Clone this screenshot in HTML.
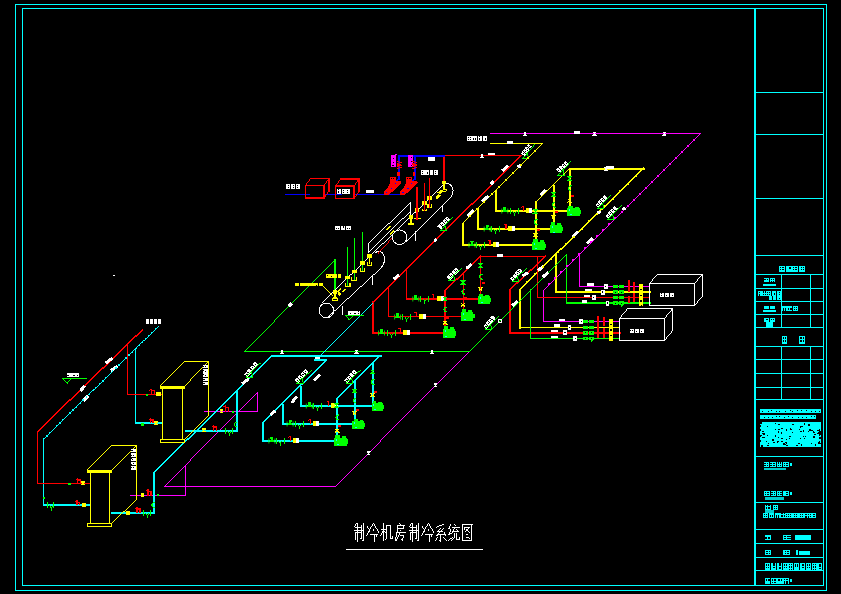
<!DOCTYPE html>
<html><head><meta charset="utf-8"><style>
html,body{margin:0;padding:0;background:#000;}
body{width:841px;height:594px;overflow:hidden;font-family:"Liberation Sans",sans-serif;}
svg{display:block;}
</style></head><body>
<svg width="841" height="594" viewBox="0 0 841 594" shape-rendering="crispEdges">
<rect width="841" height="594" fill="#000"/>
<rect x="15.50" y="4.50" width="811.00" height="586.00" stroke="#00ffff" stroke-width="1.0" fill="none"/>
<rect x="22.50" y="8.50" width="801.00" height="577.00" stroke="#00ffff" stroke-width="1.0" fill="none"/>
<line x1="755.00" y1="8.50" x2="755.00" y2="585.50" stroke="#00ffff" stroke-width="1.6" stroke-linecap="square"/>
<line x1="755.00" y1="92.50" x2="823.50" y2="92.50" stroke="#00ffff" stroke-width="1.0" stroke-linecap="square"/>
<line x1="755.00" y1="134.50" x2="823.50" y2="134.50" stroke="#00ffff" stroke-width="1.0" stroke-linecap="square"/>
<line x1="755.00" y1="198.50" x2="823.50" y2="198.50" stroke="#00ffff" stroke-width="1.0" stroke-linecap="square"/>
<line x1="755.00" y1="255.50" x2="823.50" y2="255.50" stroke="#00ffff" stroke-width="1.0" stroke-linecap="square"/>
<line x1="755.00" y1="274.50" x2="823.50" y2="274.50" stroke="#00ffff" stroke-width="1.0" stroke-linecap="square"/>
<line x1="755.00" y1="288.50" x2="823.50" y2="288.50" stroke="#00ffff" stroke-width="1.0" stroke-linecap="square"/>
<line x1="755.00" y1="301.50" x2="823.50" y2="301.50" stroke="#00ffff" stroke-width="1.0" stroke-linecap="square"/>
<line x1="755.00" y1="314.50" x2="823.50" y2="314.50" stroke="#00ffff" stroke-width="1.0" stroke-linecap="square"/>
<line x1="755.00" y1="327.50" x2="823.50" y2="327.50" stroke="#00ffff" stroke-width="1.0" stroke-linecap="square"/>
<line x1="755.00" y1="346.50" x2="823.50" y2="346.50" stroke="#00ffff" stroke-width="1.0" stroke-linecap="square"/>
<line x1="755.00" y1="359.50" x2="823.50" y2="359.50" stroke="#00ffff" stroke-width="1.0" stroke-linecap="square"/>
<line x1="755.00" y1="373.50" x2="823.50" y2="373.50" stroke="#00ffff" stroke-width="1.0" stroke-linecap="square"/>
<line x1="755.00" y1="387.50" x2="823.50" y2="387.50" stroke="#00ffff" stroke-width="1.0" stroke-linecap="square"/>
<line x1="755.00" y1="399.50" x2="823.50" y2="399.50" stroke="#00ffff" stroke-width="1.0" stroke-linecap="square"/>
<line x1="755.00" y1="456.50" x2="823.50" y2="456.50" stroke="#00ffff" stroke-width="1.0" stroke-linecap="square"/>
<line x1="755.00" y1="502.50" x2="823.50" y2="502.50" stroke="#00ffff" stroke-width="1.0" stroke-linecap="square"/>
<line x1="755.00" y1="529.50" x2="823.50" y2="529.50" stroke="#00ffff" stroke-width="1.0" stroke-linecap="square"/>
<line x1="755.00" y1="543.50" x2="823.50" y2="543.50" stroke="#00ffff" stroke-width="1.0" stroke-linecap="square"/>
<line x1="755.00" y1="557.50" x2="823.50" y2="557.50" stroke="#00ffff" stroke-width="1.0" stroke-linecap="square"/>
<line x1="755.00" y1="570.50" x2="823.50" y2="570.50" stroke="#00ffff" stroke-width="1.0" stroke-linecap="square"/>
<line x1="781.50" y1="274.50" x2="781.50" y2="327.50" stroke="#00ffff" stroke-width="1.0" stroke-linecap="square"/>
<line x1="781.50" y1="346.50" x2="781.50" y2="399.50" stroke="#00ffff" stroke-width="1.0" stroke-linecap="square"/>
<line x1="810.50" y1="274.50" x2="810.50" y2="327.50" stroke="#00ffff" stroke-width="1.0" stroke-linecap="square"/>
<line x1="810.50" y1="346.50" x2="810.50" y2="399.50" stroke="#00ffff" stroke-width="1.0" stroke-linecap="square"/>
<line x1="490.00" y1="133.50" x2="700.00" y2="133.50" stroke="#ff00ff" stroke-width="1.0" stroke-linecap="square"/>
<path d="M700 133h1v1h-1zM699 134h1v1h-1zM698 135h1v1h-1zM697 136h1v1h-1zM696 137h1v1h-1zM695 138h1v1h-1zM694 139h1v1h-1zM693 140h1v1h-1zM692 141h1v1h-1zM691 142h1v1h-1zM690 143h1v1h-1zM689 144h1v1h-1zM688 145h1v1h-1zM687 146h1v1h-1zM686 147h1v1h-1zM685 148h1v1h-1zM684 149h1v1h-1zM683 150h1v1h-1zM682 151h1v1h-1zM681 152h1v1h-1zM680 153h1v1h-1zM679 154h1v1h-1zM678 155h1v1h-1zM677 156h1v1h-1zM676 157h1v1h-1zM675 158h1v1h-1zM674 159h1v1h-1zM673 160h1v1h-1zM672 161h1v1h-1zM671 162h1v1h-1zM670 163h1v1h-1zM669 164h1v1h-1zM668 165h1v1h-1zM667 166h1v1h-1zM666 167h1v1h-1zM665 168h1v1h-1zM664 169h1v1h-1zM663 170h1v1h-1zM662 171h1v1h-1zM661 172h1v1h-1zM660 173h1v1h-1zM659 174h1v1h-1zM658 175h1v1h-1zM657 176h1v1h-1zM656 177h1v1h-1zM655 178h1v1h-1zM654 179h1v1h-1zM653 180h1v1h-1zM652 181h1v1h-1zM651 182h1v1h-1zM650 183h1v1h-1zM649 184h1v1h-1zM648 185h1v1h-1zM647 186h1v1h-1zM646 187h1v1h-1zM645 188h1v1h-1zM644 189h1v1h-1zM643 190h1v1h-1zM642 191h1v1h-1zM641 192h1v1h-1zM640 193h1v1h-1zM639 194h1v1h-1zM638 195h1v1h-1zM637 196h1v1h-1zM636 197h1v1h-1zM635 198h1v1h-1zM634 199h1v1h-1zM633 200h1v1h-1zM632 201h1v1h-1zM631 202h1v1h-1zM630 203h1v1h-1zM629 204h1v1h-1zM628 205h1v1h-1zM627 206h1v1h-1zM626 207h1v1h-1zM625 208h1v1h-1zM624 209h1v1h-1zM623 210h1v1h-1zM622 211h1v1h-1zM621 212h1v1h-1zM620 213h1v1h-1zM619 214h1v1h-1zM618 215h1v1h-1zM617 216h1v1h-1zM616 217h1v1h-1zM615 218h1v1h-1zM614 219h1v1h-1zM613 220h1v1h-1zM612 221h1v1h-1zM611 222h1v1h-1zM610 223h1v1h-1zM609 224h1v1h-1zM608 225h1v1h-1zM607 226h1v1h-1zM606 227h1v1h-1zM605 228h1v1h-1zM604 229h1v1h-1zM603 230h1v1h-1zM602 231h1v1h-1zM601 232h1v1h-1zM600 233h1v1h-1zM599 234h1v1h-1zM598 235h1v1h-1zM597 236h1v1h-1zM596 237h1v1h-1zM595 238h1v1h-1zM594 239h1v1h-1zM593 240h1v1h-1zM592 241h1v1h-1zM591 242h1v1h-1zM590 243h1v1h-1zM589 244h1v1h-1zM588 245h1v1h-1zM587 246h1v1h-1zM586 247h1v1h-1zM585 248h1v1h-1zM584 249h1v1h-1zM583 250h1v1h-1zM582 251h1v1h-1zM581 252h1v1h-1zM580 253h1v1h-1zM579 254h1v1h-1zM578 255h1v1h-1zM577 256h1v1h-1zM576 257h1v1h-1zM575 258h1v1h-1zM574 259h1v1h-1zM573 260h1v1h-1zM572 261h1v1h-1zM571 262h1v1h-1zM570 263h1v1h-1zM569 264h1v1h-1zM568 265h1v1h-1zM567 266h1v1h-1zM566 267h1v1h-1zM565 268h1v1h-1zM564 269h1v1h-1zM563 270h1v1h-1zM562 271h1v1h-1zM561 272h1v1h-1zM560 273h1v1h-1zM559 274h1v1h-1zM558 275h1v1h-1zM557 276h1v1h-1zM556 277h1v1h-1zM555 278h1v1h-1zM554 279h1v1h-1zM553 280h1v1h-1zM552 281h1v1h-1zM551 282h1v1h-1zM550 283h1v1h-1zM549 284h1v1h-1zM548 285h1v1h-1zM547 286h1v1h-1zM546 287h1v1h-1zM545 288h1v1h-1zM544 289h1v1h-1zM543 290h1v1h-1z" fill="#ff00ff"/>
<line x1="543.00" y1="290.50" x2="543.00" y2="321.50" stroke="#ff00ff" stroke-width="1.0" stroke-linecap="square"/>
<line x1="543.00" y1="321.50" x2="619.50" y2="321.50" stroke="#ff00ff" stroke-width="1.0" stroke-linecap="square"/>
<line x1="579.50" y1="254.50" x2="579.50" y2="286.50" stroke="#ff00ff" stroke-width="1.0" stroke-linecap="square"/>
<line x1="579.50" y1="286.50" x2="649.50" y2="286.50" stroke="#ff00ff" stroke-width="1.0" stroke-linecap="square"/>
<line x1="164.20" y1="486.50" x2="335.50" y2="486.50" stroke="#ff00ff" stroke-width="1.3" stroke-linecap="square"/>
<path d="M469 351h1v1h-1zM468 352h1v1h-1zM467 353h1v1h-1zM466 354h1v1h-1zM465 355h1v1h-1zM464 356h1v1h-1zM463 357h1v1h-1zM462 358h1v1h-1zM461 359h1v1h-1zM460 360h1v1h-1zM459 361h1v1h-1zM458 362h1v1h-1zM457 363h1v1h-1zM456 364h1v1h-1zM455 365h1v1h-1zM454 366h1v1h-1zM453 367h1v1h-1zM452 368h1v1h-1zM451 369h1v1h-1zM450 370h1v1h-1zM449 371h1v1h-1zM448 372h1v1h-1zM447 373h1v1h-1zM446 374h1v1h-1zM445 375h1v1h-1zM444 376h1v1h-1zM443 377h1v1h-1zM442 378h1v1h-1zM441 379h1v1h-1zM440 380h1v1h-1zM439 381h1v1h-1zM438 382h1v1h-1zM437 383h1v1h-1zM436 384h1v1h-1zM435 385h1v1h-1zM434 386h1v1h-1zM433 387h1v1h-1zM432 388h1v1h-1zM431 389h1v1h-1zM430 390h1v1h-1zM429 391h1v1h-1zM428 392h1v1h-1zM427 393h1v1h-1zM426 394h1v1h-1zM425 395h1v1h-1zM424 396h1v1h-1zM423 397h1v1h-1zM422 398h1v1h-1zM421 399h1v1h-1zM420 400h1v1h-1zM419 401h1v1h-1zM418 402h1v1h-1zM417 403h1v1h-1zM416 404h1v1h-1zM415 405h1v1h-1zM414 406h1v1h-1zM413 407h1v1h-1zM412 408h1v1h-1zM411 409h1v1h-1zM410 410h1v1h-1zM409 411h1v1h-1zM408 412h1v1h-1zM407 413h1v1h-1zM406 414h1v1h-1zM405 415h1v1h-1zM404 416h1v1h-1zM403 417h1v1h-1zM402 418h1v1h-1zM401 419h1v1h-1zM400 420h1v1h-1zM399 421h1v1h-1zM398 422h1v1h-1zM397 423h1v1h-1zM396 424h1v1h-1zM395 425h1v1h-1zM394 426h1v1h-1zM393 427h1v1h-1zM392 428h1v1h-1zM391 429h1v1h-1zM390 430h1v1h-1zM389 431h1v1h-1zM388 432h1v1h-1zM387 433h1v1h-1zM386 434h1v1h-1zM385 435h1v1h-1zM384 436h1v1h-1zM383 437h1v1h-1zM382 438h1v1h-1zM381 439h1v1h-1zM380 440h1v1h-1zM380 441h1v1h-1zM379 442h1v1h-1zM378 443h1v1h-1zM377 444h1v1h-1zM376 445h1v1h-1zM375 446h1v1h-1zM374 447h1v1h-1zM373 448h1v1h-1zM372 449h1v1h-1zM371 450h1v1h-1zM370 451h1v1h-1zM369 452h1v1h-1zM368 453h1v1h-1zM367 454h1v1h-1zM366 455h1v1h-1zM365 456h1v1h-1zM364 457h1v1h-1zM363 458h1v1h-1zM362 459h1v1h-1zM361 460h1v1h-1zM360 461h1v1h-1zM359 462h1v1h-1zM358 463h1v1h-1zM357 464h1v1h-1zM356 465h1v1h-1zM355 466h1v1h-1zM354 467h1v1h-1zM353 468h1v1h-1zM352 469h1v1h-1zM351 470h1v1h-1zM350 471h1v1h-1zM349 472h1v1h-1zM348 473h1v1h-1zM347 474h1v1h-1zM346 475h1v1h-1zM345 476h1v1h-1zM344 477h1v1h-1zM343 478h1v1h-1zM342 479h1v1h-1zM341 480h1v1h-1zM340 481h1v1h-1zM339 482h1v1h-1zM338 483h1v1h-1zM337 484h1v1h-1zM336 485h1v1h-1zM335 486h1v1h-1z" fill="#ff00ff"/>
<path d="M257 392h1v1h-1zM256 393h1v1h-1zM255 394h1v1h-1zM254 395h1v1h-1zM253 396h1v1h-1zM252 397h1v1h-1zM251 398h1v1h-1zM250 399h1v1h-1zM249 400h1v1h-1zM248 401h1v1h-1zM247 402h1v1h-1zM246 403h1v1h-1zM245 404h1v1h-1zM244 405h1v1h-1zM243 406h1v1h-1zM242 407h1v1h-1zM241 408h1v1h-1zM240 409h1v1h-1zM239 410h1v1h-1zM238 411h1v1h-1zM237 412h1v1h-1zM236 413h1v1h-1zM235 414h1v1h-1zM234 415h1v1h-1zM233 416h1v1h-1zM232 417h1v1h-1zM231 418h1v1h-1zM230 419h1v1h-1zM229 420h1v1h-1zM228 421h1v1h-1zM227 422h1v1h-1zM226 423h1v1h-1zM225 424h1v1h-1zM224 425h1v1h-1zM223 426h1v1h-1zM222 427h1v1h-1zM221 428h1v1h-1zM220 429h1v1h-1zM219 430h1v1h-1zM218 431h1v1h-1zM217 432h1v1h-1zM216 433h1v1h-1zM215 434h1v1h-1zM214 435h1v1h-1zM213 436h1v1h-1zM212 437h1v1h-1zM211 438h1v1h-1zM210 439h1v1h-1zM209 440h1v1h-1zM208 441h1v1h-1zM207 442h1v1h-1zM206 443h1v1h-1zM205 444h1v1h-1zM204 445h1v1h-1zM203 446h1v1h-1zM202 447h1v1h-1zM201 448h1v1h-1zM200 449h1v1h-1zM199 450h1v1h-1zM198 451h1v1h-1zM197 452h1v1h-1zM196 453h1v1h-1zM195 454h1v1h-1zM194 455h1v1h-1zM193 456h1v1h-1zM192 457h1v1h-1zM191 458h1v1h-1zM190 459h1v1h-1zM190 460h1v1h-1zM189 461h1v1h-1zM188 462h1v1h-1zM187 463h1v1h-1zM186 464h1v1h-1zM185 465h1v1h-1zM184 466h1v1h-1zM183 467h1v1h-1zM182 468h1v1h-1zM181 469h1v1h-1zM180 470h1v1h-1zM179 471h1v1h-1zM178 472h1v1h-1zM177 473h1v1h-1zM176 474h1v1h-1zM175 475h1v1h-1zM174 476h1v1h-1zM173 477h1v1h-1zM172 478h1v1h-1zM171 479h1v1h-1zM170 480h1v1h-1zM169 481h1v1h-1zM168 482h1v1h-1zM167 483h1v1h-1zM166 484h1v1h-1zM165 485h1v1h-1zM164 486h1v1h-1z" fill="#ff00ff"/>
<line x1="257.50" y1="392.50" x2="257.50" y2="411.50" stroke="#ff00ff" stroke-width="1.0" stroke-linecap="square"/>
<line x1="257.50" y1="411.50" x2="204.00" y2="411.50" stroke="#ff00ff" stroke-width="1.0" stroke-linecap="square"/>
<line x1="185.50" y1="465.50" x2="185.50" y2="495.50" stroke="#ff00ff" stroke-width="1.0" stroke-linecap="square"/>
<line x1="185.50" y1="495.50" x2="130.00" y2="495.50" stroke="#ff00ff" stroke-width="1.0" stroke-linecap="square"/>
<line x1="490.00" y1="143.50" x2="542.50" y2="143.50" stroke="#ffff00" stroke-width="1.0" stroke-linecap="square"/>
<path d="M542 143h1v1h-1zM541 144h1v1h-1zM540 145h1v1h-1zM539 146h1v1h-1zM538 147h1v1h-1zM537 148h1v1h-1zM536 149h1v1h-1zM535 150h1v1h-1zM534 151h1v1h-1zM533 152h1v1h-1zM532 153h1v1h-1zM531 154h1v1h-1zM530 155h1v1h-1zM529 156h1v1h-1zM528 157h1v1h-1zM527 158h1v1h-1zM526 159h1v1h-1zM525 160h1v1h-1zM524 161h1v1h-1zM523 162h1v1h-1zM522 163h1v1h-1zM521 164h1v1h-1zM520 165h1v1h-1zM519 166h1v1h-1zM518 167h1v1h-1zM517 168h1v1h-1zM516 169h1v1h-1zM515 170h1v1h-1zM514 171h1v1h-1zM513 172h1v1h-1zM512 173h1v1h-1zM511 174h1v1h-1zM510 175h1v1h-1zM509 176h1v1h-1zM508 177h1v1h-1zM507 178h1v1h-1zM506 179h1v1h-1zM505 180h1v1h-1zM504 181h1v1h-1zM503 182h1v1h-1zM502 183h1v1h-1zM501 184h1v1h-1zM500 185h1v1h-1zM499 186h1v1h-1zM498 187h1v1h-1zM497 188h1v1h-1zM496 189h1v1h-1zM495 190h1v1h-1zM494 191h1v1h-1zM493 192h1v1h-1zM492 193h1v1h-1zM491 194h1v1h-1zM490 195h1v1h-1zM489 196h1v1h-1zM488 197h1v1h-1zM487 198h1v1h-1zM486 199h1v1h-1zM485 200h1v1h-1zM484 201h1v1h-1zM483 202h1v1h-1zM482 203h1v1h-1zM481 204h1v1h-1zM480 205h1v1h-1zM479 206h1v1h-1zM478 207h1v1h-1zM477 208h1v1h-1zM476 209h1v1h-1zM475 210h1v1h-1zM474 211h1v1h-1zM473 212h1v1h-1zM472 213h1v1h-1zM471 214h1v1h-1zM470 215h1v1h-1zM469 216h1v1h-1zM468 217h1v1h-1zM467 218h1v1h-1zM466 219h1v1h-1zM465 220h1v1h-1zM464 221h1v1h-1zM463 222h1v1h-1zM462 223h1v1h-1z" fill="#ffff00"/>
<line x1="462.50" y1="223.50" x2="462.50" y2="244.50" stroke="#ffff00" stroke-width="2.0" stroke-linecap="square"/>
<line x1="462.50" y1="244.50" x2="532.00" y2="244.50" stroke="#ffff00" stroke-width="2.0" stroke-linecap="square"/>
<line x1="477.50" y1="208.50" x2="477.50" y2="228.50" stroke="#ffff00" stroke-width="2.0" stroke-linecap="square"/>
<line x1="477.50" y1="228.50" x2="550.00" y2="228.50" stroke="#ffff00" stroke-width="2.0" stroke-linecap="square"/>
<line x1="495.50" y1="190.50" x2="495.50" y2="210.50" stroke="#ffff00" stroke-width="2.0" stroke-linecap="square"/>
<line x1="495.50" y1="210.50" x2="567.00" y2="210.50" stroke="#ffff00" stroke-width="2.0" stroke-linecap="square"/>
<line x1="569.50" y1="168.50" x2="643.50" y2="168.50" stroke="#ffff00" stroke-width="2.0" stroke-linecap="square"/>
<path d="M519 289h1v2h-1zM520 288h1v2h-1zM521 287h1v2h-1zM522 286h1v2h-1zM523 285h1v2h-1zM524 284h1v2h-1zM525 283h1v2h-1zM526 282h1v2h-1zM527 281h1v2h-1zM528 280h1v2h-1zM529 279h1v2h-1zM530 278h1v2h-1zM531 277h1v2h-1zM532 276h1v2h-1zM533 275h1v2h-1zM534 274h1v2h-1zM535 273h1v2h-1zM536 272h1v2h-1zM537 271h1v2h-1zM538 270h1v2h-1zM539 269h1v2h-1zM540 268h1v2h-1zM541 267h1v2h-1zM542 266h1v2h-1zM543 265h1v2h-1zM544 264h1v2h-1zM545 263h1v2h-1zM546 262h1v2h-1zM547 261h1v2h-1zM548 260h1v2h-1zM549 259h1v2h-1zM550 258h1v2h-1zM551 257h1v2h-1zM552 256h1v2h-1zM553 255h1v2h-1zM554 254h1v2h-1zM555 253h1v2h-1zM556 252h1v2h-1zM557 251h1v2h-1zM558 250h1v2h-1zM559 249h1v2h-1zM560 248h1v2h-1zM561 248h1v2h-1zM562 247h1v2h-1zM563 246h1v2h-1zM564 245h1v2h-1zM565 244h1v2h-1zM566 243h1v2h-1zM567 242h1v2h-1zM568 241h1v2h-1zM569 240h1v2h-1zM570 239h1v2h-1zM571 238h1v2h-1zM572 237h1v2h-1zM573 236h1v2h-1zM574 235h1v2h-1zM575 234h1v2h-1zM576 233h1v2h-1zM577 232h1v2h-1zM578 231h1v2h-1zM579 230h1v2h-1zM580 229h1v2h-1zM581 228h1v2h-1zM582 227h1v2h-1zM583 226h1v2h-1zM584 225h1v2h-1zM585 224h1v2h-1zM586 223h1v2h-1zM587 222h1v2h-1zM588 221h1v2h-1zM589 220h1v2h-1zM590 219h1v2h-1zM591 218h1v2h-1zM592 217h1v2h-1zM593 216h1v2h-1zM594 215h1v2h-1zM595 214h1v2h-1zM596 213h1v2h-1zM597 212h1v2h-1zM598 211h1v2h-1zM599 210h1v2h-1zM600 209h1v2h-1zM601 208h1v2h-1zM602 208h1v2h-1zM603 207h1v2h-1zM604 206h1v2h-1zM605 205h1v2h-1zM606 204h1v2h-1zM607 203h1v2h-1zM608 202h1v2h-1zM609 201h1v2h-1zM610 200h1v2h-1zM611 199h1v2h-1zM612 198h1v2h-1zM613 197h1v2h-1zM614 196h1v2h-1zM615 195h1v2h-1zM616 194h1v2h-1zM617 193h1v2h-1zM618 192h1v2h-1zM619 191h1v2h-1zM620 190h1v2h-1zM621 189h1v2h-1zM622 188h1v2h-1zM623 187h1v2h-1zM624 186h1v2h-1zM625 185h1v2h-1zM626 184h1v2h-1zM627 183h1v2h-1zM628 182h1v2h-1zM629 181h1v2h-1zM630 180h1v2h-1zM631 179h1v2h-1zM632 178h1v2h-1zM633 177h1v2h-1zM634 176h1v2h-1zM635 175h1v2h-1zM636 174h1v2h-1zM637 173h1v2h-1zM638 172h1v2h-1zM639 171h1v2h-1zM640 170h1v2h-1zM641 169h1v2h-1zM642 168h1v2h-1zM643 167h1v2h-1z" fill="#ffff00"/>
<line x1="519.50" y1="289.50" x2="519.50" y2="327.50" stroke="#ffff00" stroke-width="2.0" stroke-linecap="square"/>
<line x1="519.50" y1="327.50" x2="619.50" y2="327.50" stroke="#ffff00" stroke-width="1.0" stroke-linecap="square"/>
<line x1="555.50" y1="255.00" x2="555.50" y2="292.00" stroke="#ffff00" stroke-width="2.0" stroke-linecap="square"/>
<line x1="555.50" y1="292.00" x2="649.50" y2="292.00" stroke="#ffff00" stroke-width="2.0" stroke-linecap="square"/>
<line x1="569.50" y1="168.50" x2="569.50" y2="206.00" stroke="#ffff00" stroke-width="2.0" stroke-linecap="square"/>
<path d="M535 202h1v1h-1zM536 201h1v1h-1zM537 200h1v1h-1zM538 199h1v1h-1zM539 198h1v1h-1zM540 197h1v1h-1zM541 196h1v1h-1zM542 195h1v1h-1zM543 194h1v1h-1zM544 193h1v1h-1zM545 192h1v1h-1zM546 191h1v1h-1zM547 190h1v1h-1zM548 189h1v1h-1zM549 188h1v1h-1zM550 187h1v1h-1zM551 186h1v1h-1zM552 185h1v1h-1zM553 184h1v1h-1zM554 183h1v1h-1zM555 182h1v1h-1zM556 181h1v1h-1zM557 180h1v1h-1zM558 179h1v1h-1zM559 178h1v1h-1zM560 177h1v1h-1zM561 176h1v1h-1zM562 175h1v1h-1zM563 174h1v1h-1zM564 173h1v1h-1zM565 172h1v1h-1zM566 171h1v1h-1zM567 170h1v1h-1zM568 169h1v1h-1zM569 168h1v1h-1z" fill="#ffff00"/>
<line x1="535.50" y1="202.00" x2="535.50" y2="240.00" stroke="#ffff00" stroke-width="2.0" stroke-linecap="square"/>
<line x1="553.50" y1="185.50" x2="553.50" y2="223.00" stroke="#ffff00" stroke-width="2.0" stroke-linecap="square"/>
<line x1="444.00" y1="155.50" x2="521.00" y2="155.50" stroke="#ff0000" stroke-width="1.2" stroke-linecap="square"/>
<path d="M372 301h1v2h-1zM373 301h1v2h-1zM374 300h1v2h-1zM375 299h1v2h-1zM376 298h1v2h-1zM377 297h1v2h-1zM378 296h1v2h-1zM379 295h1v2h-1zM380 294h1v2h-1zM381 293h1v2h-1zM382 292h1v2h-1zM383 291h1v2h-1zM384 290h1v2h-1zM385 289h1v2h-1zM386 288h1v2h-1zM387 287h1v2h-1zM388 286h1v2h-1zM389 285h1v2h-1zM390 284h1v2h-1zM391 283h1v2h-1zM392 282h1v2h-1zM393 281h1v2h-1zM394 280h1v2h-1zM395 279h1v2h-1zM396 278h1v2h-1zM397 277h1v2h-1zM398 276h1v2h-1zM399 275h1v2h-1zM400 274h1v2h-1zM401 273h1v2h-1zM402 272h1v2h-1zM403 271h1v2h-1zM404 270h1v2h-1zM405 269h1v2h-1zM406 268h1v2h-1zM407 267h1v2h-1zM408 266h1v2h-1zM409 265h1v2h-1zM410 264h1v2h-1zM411 263h1v2h-1zM412 262h1v2h-1zM413 261h1v2h-1zM414 260h1v2h-1zM415 259h1v2h-1zM416 258h1v2h-1zM417 257h1v2h-1zM418 256h1v2h-1zM419 255h1v2h-1zM420 254h1v2h-1zM421 253h1v2h-1zM422 252h1v2h-1zM423 251h1v2h-1zM424 250h1v2h-1zM425 249h1v2h-1zM426 248h1v2h-1zM427 247h1v2h-1zM428 246h1v2h-1zM429 245h1v2h-1zM430 244h1v2h-1zM431 243h1v2h-1zM432 242h1v2h-1zM433 241h1v2h-1zM434 240h1v2h-1zM435 239h1v2h-1zM436 238h1v2h-1zM437 237h1v2h-1zM438 236h1v2h-1zM439 235h1v2h-1zM440 234h1v2h-1zM441 233h1v2h-1zM442 232h1v2h-1zM443 231h1v2h-1zM444 230h1v2h-1zM445 229h1v2h-1zM446 228h1v2h-1zM447 227h1v2h-1zM448 226h1v2h-1zM449 225h1v2h-1zM450 224h1v2h-1zM451 223h1v2h-1zM452 222h1v2h-1zM453 221h1v2h-1zM454 220h1v2h-1zM455 219h1v2h-1zM456 218h1v2h-1zM457 217h1v2h-1zM458 216h1v2h-1zM459 215h1v2h-1zM460 214h1v2h-1zM461 213h1v2h-1zM462 212h1v2h-1zM463 211h1v2h-1zM464 210h1v2h-1zM465 209h1v2h-1zM466 208h1v2h-1zM467 207h1v2h-1zM468 206h1v2h-1zM469 205h1v2h-1zM470 204h1v2h-1zM471 203h1v2h-1zM472 203h1v2h-1zM473 202h1v2h-1zM474 201h1v2h-1zM475 200h1v2h-1zM476 199h1v2h-1zM477 198h1v2h-1zM478 197h1v2h-1zM479 196h1v2h-1zM480 195h1v2h-1zM481 194h1v2h-1zM482 193h1v2h-1zM483 192h1v2h-1zM484 191h1v2h-1zM485 190h1v2h-1zM486 189h1v2h-1zM487 188h1v2h-1zM488 187h1v2h-1zM489 186h1v2h-1zM490 185h1v2h-1zM491 184h1v2h-1zM492 183h1v2h-1zM493 182h1v2h-1zM494 181h1v2h-1zM495 180h1v2h-1zM496 179h1v2h-1zM497 178h1v2h-1zM498 177h1v2h-1zM499 176h1v2h-1zM500 175h1v2h-1zM501 174h1v2h-1zM502 173h1v2h-1zM503 172h1v2h-1zM504 171h1v2h-1zM505 170h1v2h-1zM506 169h1v2h-1zM507 168h1v2h-1zM508 167h1v2h-1zM509 166h1v2h-1zM510 165h1v2h-1zM511 164h1v2h-1zM512 163h1v2h-1zM513 162h1v2h-1zM514 161h1v2h-1zM515 160h1v2h-1zM516 159h1v2h-1zM517 158h1v2h-1zM518 157h1v2h-1zM519 156h1v2h-1zM520 155h1v2h-1z" fill="#ff0000"/>
<line x1="372.50" y1="302.50" x2="372.50" y2="332.50" stroke="#ff0000" stroke-width="2.0" stroke-linecap="square"/>
<line x1="372.50" y1="332.50" x2="443.50" y2="332.50" stroke="#ff0000" stroke-width="2.0" stroke-linecap="square"/>
<line x1="388.50" y1="286.50" x2="388.50" y2="316.50" stroke="#ff0000" stroke-width="1.0" stroke-linecap="square"/>
<line x1="388.50" y1="316.50" x2="461.00" y2="316.50" stroke="#ff0000" stroke-width="1.0" stroke-linecap="square"/>
<line x1="406.50" y1="270.50" x2="406.50" y2="298.50" stroke="#ff0000" stroke-width="1.0" stroke-linecap="square"/>
<line x1="406.50" y1="298.50" x2="478.00" y2="298.50" stroke="#ff0000" stroke-width="2.0" stroke-linecap="square"/>
<line x1="444.00" y1="155.50" x2="444.00" y2="181.50" stroke="#ff0000" stroke-width="2.0" stroke-linecap="square"/>
<line x1="480.50" y1="256.50" x2="545.50" y2="256.50" stroke="#ff0000" stroke-width="1.0" stroke-linecap="square"/>
<path d="M510 288h1v2h-1zM511 287h1v2h-1zM512 286h1v2h-1zM513 285h1v2h-1zM514 284h1v2h-1zM515 283h1v2h-1zM516 282h1v2h-1zM517 282h1v2h-1zM518 281h1v2h-1zM519 280h1v2h-1zM520 279h1v2h-1zM521 278h1v2h-1zM522 277h1v2h-1zM523 276h1v2h-1zM524 275h1v2h-1zM525 274h1v2h-1zM526 273h1v2h-1zM527 272h1v2h-1zM528 271h1v2h-1zM529 270h1v2h-1zM530 269h1v2h-1zM531 269h1v2h-1zM532 268h1v2h-1zM533 267h1v2h-1zM534 266h1v2h-1zM535 265h1v2h-1zM536 264h1v2h-1zM537 263h1v2h-1zM538 262h1v2h-1zM539 261h1v2h-1zM540 260h1v2h-1zM541 259h1v2h-1zM542 258h1v2h-1zM543 257h1v2h-1zM544 256h1v2h-1zM545 255h1v2h-1z" fill="#ff0000"/>
<line x1="510.00" y1="289.50" x2="510.00" y2="332.90" stroke="#ff0000" stroke-width="2.0" stroke-linecap="square"/>
<line x1="510.00" y1="332.90" x2="619.50" y2="332.90" stroke="#ff0000" stroke-width="2.0" stroke-linecap="square"/>
<line x1="537.50" y1="256.50" x2="537.50" y2="297.50" stroke="#ff0000" stroke-width="1.0" stroke-linecap="square"/>
<line x1="537.50" y1="297.50" x2="649.50" y2="297.50" stroke="#ff0000" stroke-width="1.0" stroke-linecap="square"/>
<path d="M445 289h1v2h-1zM446 288h1v2h-1zM447 287h1v2h-1zM448 286h1v2h-1zM449 285h1v2h-1zM450 284h1v2h-1zM451 283h1v2h-1zM452 282h1v2h-1zM453 281h1v2h-1zM454 280h1v2h-1zM455 279h1v2h-1zM456 278h1v2h-1zM457 278h1v2h-1zM458 277h1v2h-1zM459 276h1v2h-1zM460 275h1v2h-1zM461 274h1v2h-1zM462 273h1v2h-1zM463 272h1v2h-1zM464 271h1v2h-1zM465 270h1v2h-1zM466 269h1v2h-1zM467 268h1v2h-1zM468 267h1v2h-1zM469 266h1v2h-1zM470 265h1v2h-1zM471 264h1v2h-1zM472 263h1v2h-1zM473 262h1v2h-1zM474 261h1v2h-1zM475 260h1v2h-1zM476 259h1v2h-1zM477 258h1v2h-1zM478 257h1v2h-1zM479 256h1v2h-1zM480 255h1v2h-1z" fill="#ff0000"/>
<line x1="445.00" y1="290.50" x2="445.00" y2="326.00" stroke="#ff0000" stroke-width="2.0" stroke-linecap="square"/>
<line x1="463.00" y1="273.50" x2="463.00" y2="309.00" stroke="#ff0000" stroke-width="1.0" stroke-linecap="square"/>
<line x1="480.50" y1="256.50" x2="480.50" y2="294.00" stroke="#ff0000" stroke-width="1.0" stroke-linecap="square"/>
<line x1="244.50" y1="351.50" x2="469.00" y2="351.50" stroke="#00ff00" stroke-width="1.0" stroke-linecap="square"/>
<path d="M469 351h1v1h-1zM470 350h1v1h-1zM471 349h1v1h-1zM472 348h1v1h-1zM473 347h1v1h-1zM474 346h1v1h-1zM475 345h1v1h-1zM476 344h1v1h-1zM477 343h1v1h-1zM478 342h1v1h-1zM479 341h1v1h-1zM480 340h1v1h-1zM481 339h1v1h-1zM482 338h1v1h-1zM483 337h1v1h-1zM484 336h1v1h-1zM485 335h1v1h-1zM486 334h1v1h-1zM487 333h1v1h-1zM488 332h1v1h-1zM489 331h1v1h-1zM490 330h1v1h-1zM491 329h1v1h-1zM492 328h1v1h-1zM493 327h1v1h-1zM494 326h1v1h-1zM495 325h1v1h-1zM496 324h1v1h-1zM497 323h1v1h-1zM498 322h1v1h-1zM499 321h1v1h-1zM500 320h1v1h-1zM501 319h1v1h-1zM502 318h1v1h-1zM503 317h1v1h-1zM504 316h1v1h-1zM505 315h1v1h-1zM506 314h1v1h-1zM507 313h1v1h-1zM508 312h1v1h-1zM509 311h1v1h-1zM510 310h1v1h-1zM511 309h1v1h-1zM512 308h1v1h-1zM513 307h1v1h-1zM514 306h1v1h-1zM515 305h1v1h-1zM516 304h1v1h-1zM517 303h1v1h-1zM518 302h1v1h-1zM519 301h1v1h-1zM520 300h1v1h-1zM521 299h1v1h-1zM522 298h1v1h-1zM523 297h1v1h-1zM524 296h1v1h-1zM525 295h1v1h-1zM526 294h1v1h-1zM527 293h1v1h-1zM528 292h1v1h-1zM529 291h1v1h-1zM530 290h1v1h-1zM531 289h1v1h-1zM532 288h1v1h-1zM533 287h1v1h-1zM534 286h1v1h-1zM535 285h1v1h-1zM536 284h1v1h-1zM537 283h1v1h-1zM538 282h1v1h-1zM539 281h1v1h-1zM540 280h1v1h-1zM541 279h1v1h-1zM542 278h1v1h-1zM543 277h1v1h-1zM544 276h1v1h-1zM545 275h1v1h-1zM546 274h1v1h-1zM547 273h1v1h-1zM548 272h1v1h-1zM549 271h1v1h-1zM550 270h1v1h-1zM551 269h1v1h-1zM552 268h1v1h-1zM553 267h1v1h-1zM554 266h1v1h-1zM555 265h1v1h-1zM556 264h1v1h-1zM557 263h1v1h-1zM558 262h1v1h-1zM559 261h1v1h-1zM560 260h1v1h-1zM561 259h1v1h-1zM562 258h1v1h-1zM563 257h1v1h-1zM564 256h1v1h-1zM565 255h1v1h-1zM566 254h1v1h-1z" fill="#00ff00"/>
<line x1="566.50" y1="254.50" x2="566.50" y2="303.00" stroke="#00ff00" stroke-width="1.0" stroke-linecap="square"/>
<line x1="566.50" y1="303.00" x2="649.50" y2="303.00" stroke="#00ff00" stroke-width="2.0" stroke-linecap="square"/>
<line x1="530.50" y1="289.50" x2="530.50" y2="338.50" stroke="#00ff00" stroke-width="1.2" stroke-linecap="square"/>
<line x1="530.50" y1="338.50" x2="619.50" y2="338.50" stroke="#00ff00" stroke-width="1.2" stroke-linecap="square"/>
<path d="M335 259h1v1h-1zM334 260h1v1h-1zM333 261h1v1h-1zM332 262h1v1h-1zM331 263h1v1h-1zM330 264h1v1h-1zM329 265h1v1h-1zM328 266h1v1h-1zM327 267h1v1h-1zM326 268h1v1h-1zM325 269h1v1h-1zM324 270h1v1h-1zM323 271h1v1h-1zM322 272h1v1h-1zM321 273h1v1h-1zM320 274h1v1h-1zM319 275h1v1h-1zM318 276h1v1h-1zM317 277h1v1h-1zM316 278h1v1h-1zM315 279h1v1h-1zM314 280h1v1h-1zM313 281h1v1h-1zM312 282h1v1h-1zM311 283h1v1h-1zM310 284h1v1h-1zM309 285h1v1h-1zM308 286h1v1h-1zM307 287h1v1h-1zM306 288h1v1h-1zM305 289h1v1h-1zM304 290h1v1h-1zM303 291h1v1h-1zM302 292h1v1h-1zM301 293h1v1h-1zM300 294h1v1h-1zM299 295h1v1h-1zM298 296h1v1h-1zM297 297h1v1h-1zM296 298h1v1h-1zM295 299h1v1h-1zM294 300h1v1h-1zM293 301h1v1h-1zM292 302h1v1h-1zM291 303h1v1h-1zM290 304h1v1h-1zM289 305h1v1h-1zM288 306h1v1h-1zM287 307h1v1h-1zM286 308h1v1h-1zM285 309h1v1h-1zM284 310h1v1h-1zM283 311h1v1h-1zM282 312h1v1h-1zM281 313h1v1h-1zM280 314h1v1h-1zM279 315h1v1h-1zM278 316h1v1h-1zM277 317h1v1h-1zM276 318h1v1h-1zM275 319h1v1h-1zM274 320h1v1h-1zM274 321h1v1h-1zM273 322h1v1h-1zM272 323h1v1h-1zM271 324h1v1h-1zM270 325h1v1h-1zM269 326h1v1h-1zM268 327h1v1h-1zM267 328h1v1h-1zM266 329h1v1h-1zM265 330h1v1h-1zM264 331h1v1h-1zM263 332h1v1h-1zM262 333h1v1h-1zM261 334h1v1h-1zM260 335h1v1h-1zM259 336h1v1h-1zM258 337h1v1h-1zM257 338h1v1h-1zM256 339h1v1h-1zM255 340h1v1h-1zM254 341h1v1h-1zM253 342h1v1h-1zM252 343h1v1h-1zM251 344h1v1h-1zM250 345h1v1h-1zM249 346h1v1h-1zM248 347h1v1h-1zM247 348h1v1h-1zM246 349h1v1h-1zM245 350h1v1h-1zM244 351h1v1h-1z" fill="#00ff00"/>
<line x1="335.00" y1="259.50" x2="335.00" y2="298.00" stroke="#00ff00" stroke-width="1.2" stroke-linecap="square"/>
<line x1="347.50" y1="248.00" x2="347.50" y2="286.00" stroke="#00ff00" stroke-width="1.2" stroke-linecap="square"/>
<line x1="354.50" y1="239.00" x2="354.50" y2="279.50" stroke="#00ff00" stroke-width="1.2" stroke-linecap="square"/>
<line x1="362.50" y1="233.00" x2="362.50" y2="270.00" stroke="#00ff00" stroke-width="1.2" stroke-linecap="square"/>
<path d="M153 472h1v2h-1zM154 471h1v2h-1zM155 470h1v2h-1zM156 469h1v2h-1zM157 468h1v2h-1zM158 467h1v2h-1zM159 466h1v2h-1zM160 465h1v2h-1zM161 464h1v2h-1zM162 463h1v2h-1zM163 462h1v2h-1zM164 461h1v2h-1zM165 460h1v2h-1zM166 459h1v2h-1zM167 458h1v2h-1zM168 457h1v2h-1zM169 456h1v2h-1zM170 455h1v2h-1zM171 454h1v2h-1zM172 453h1v2h-1zM173 452h1v2h-1zM174 451h1v2h-1zM175 450h1v2h-1zM176 449h1v2h-1zM177 448h1v2h-1zM178 447h1v2h-1zM179 446h1v2h-1zM180 445h1v2h-1zM181 444h1v2h-1zM182 443h1v2h-1zM183 442h1v2h-1zM184 441h1v2h-1zM185 440h1v2h-1zM186 439h1v2h-1zM187 438h1v2h-1zM188 438h1v2h-1zM189 437h1v2h-1zM190 436h1v2h-1zM191 435h1v2h-1zM192 434h1v2h-1zM193 433h1v2h-1zM194 432h1v2h-1zM195 431h1v2h-1zM196 430h1v2h-1zM197 429h1v2h-1zM198 428h1v2h-1zM199 427h1v2h-1zM200 426h1v2h-1zM201 425h1v2h-1zM202 424h1v2h-1zM203 423h1v2h-1zM204 422h1v2h-1zM205 421h1v2h-1zM206 420h1v2h-1zM207 419h1v2h-1zM208 418h1v2h-1zM209 417h1v2h-1zM210 416h1v2h-1zM211 415h1v2h-1zM212 414h1v2h-1zM213 413h1v2h-1zM214 412h1v2h-1zM215 411h1v2h-1zM216 410h1v2h-1zM217 409h1v2h-1zM218 408h1v2h-1zM219 407h1v2h-1zM220 406h1v2h-1zM221 405h1v2h-1zM222 404h1v2h-1zM223 403h1v2h-1zM224 402h1v2h-1zM225 401h1v2h-1zM226 400h1v2h-1zM227 399h1v2h-1zM228 398h1v2h-1zM229 397h1v2h-1zM230 396h1v2h-1zM231 395h1v2h-1zM232 394h1v2h-1zM233 393h1v2h-1zM234 392h1v2h-1zM235 391h1v2h-1zM236 390h1v2h-1zM237 389h1v2h-1zM238 388h1v2h-1zM239 387h1v2h-1zM240 386h1v2h-1zM241 385h1v2h-1zM242 384h1v2h-1zM243 383h1v2h-1zM244 382h1v2h-1zM245 381h1v2h-1zM246 380h1v2h-1zM247 379h1v2h-1zM248 378h1v2h-1zM249 377h1v2h-1zM250 376h1v2h-1zM251 375h1v2h-1zM252 374h1v2h-1zM253 373h1v2h-1zM254 372h1v2h-1zM255 371h1v2h-1zM256 370h1v2h-1zM257 369h1v2h-1zM258 368h1v2h-1zM259 367h1v2h-1zM260 366h1v2h-1zM261 365h1v2h-1zM262 364h1v2h-1zM263 363h1v2h-1zM264 362h1v2h-1zM265 361h1v2h-1zM266 360h1v2h-1zM267 359h1v2h-1zM268 358h1v2h-1zM269 357h1v2h-1zM270 356h1v2h-1zM271 355h1v2h-1zM272 355h1v2h-1z" fill="#00ffff"/>
<line x1="272.50" y1="355.50" x2="380.50" y2="355.50" stroke="#00ffff" stroke-width="2.0" stroke-linecap="square"/>
<path d="M337 397h1v2h-1zM338 396h1v2h-1zM339 395h1v2h-1zM340 394h1v2h-1zM341 393h1v2h-1zM342 392h1v2h-1zM343 391h1v2h-1zM344 390h1v2h-1zM345 389h1v2h-1zM346 388h1v2h-1zM347 387h1v2h-1zM348 386h1v2h-1zM349 385h1v2h-1zM350 384h1v2h-1zM351 383h1v2h-1zM352 382h1v2h-1zM353 381h1v2h-1zM354 380h1v2h-1zM355 379h1v2h-1zM356 378h1v2h-1zM357 377h1v2h-1zM358 376h1v2h-1zM359 375h1v2h-1zM360 374h1v2h-1zM361 373h1v2h-1zM362 372h1v2h-1zM363 371h1v2h-1zM364 370h1v2h-1zM365 369h1v2h-1zM366 368h1v2h-1zM367 367h1v2h-1zM368 366h1v2h-1zM369 365h1v2h-1zM370 364h1v2h-1zM371 363h1v2h-1zM372 362h1v2h-1zM373 361h1v2h-1zM374 360h1v2h-1zM375 359h1v2h-1zM376 358h1v2h-1zM377 357h1v2h-1zM378 356h1v2h-1zM379 355h1v2h-1zM380 355h1v2h-1z" fill="#00ffff"/>
<line x1="337.00" y1="398.50" x2="337.00" y2="439.00" stroke="#00ffff" stroke-width="2.0" stroke-linecap="square"/>
<line x1="372.50" y1="363.50" x2="372.50" y2="405.00" stroke="#00ffff" stroke-width="2.0" stroke-linecap="square"/>
<line x1="354.50" y1="381.50" x2="354.50" y2="423.00" stroke="#00ffff" stroke-width="2.0" stroke-linecap="square"/>
<path d="M315 360h1v1h-1zM316 359h1v1h-1zM317 358h1v1h-1zM318 357h1v1h-1zM319 356h1v1h-1zM320 355h1v1h-1zM321 354h1v1h-1zM322 353h1v1h-1zM323 352h1v1h-1zM324 351h1v1h-1zM325 350h1v1h-1zM326 349h1v1h-1zM327 348h1v1h-1zM328 347h1v1h-1zM329 346h1v1h-1zM330 345h1v1h-1zM331 344h1v1h-1zM332 343h1v1h-1zM333 342h1v1h-1zM334 341h1v1h-1zM335 340h1v1h-1zM336 339h1v1h-1zM337 338h1v1h-1zM338 337h1v1h-1zM339 336h1v1h-1zM340 335h1v1h-1zM341 334h1v1h-1zM342 333h1v1h-1zM343 332h1v1h-1zM344 331h1v1h-1zM345 330h1v1h-1zM346 329h1v1h-1zM347 328h1v1h-1zM348 327h1v1h-1zM349 326h1v1h-1zM350 325h1v1h-1zM351 324h1v1h-1zM352 323h1v1h-1zM353 322h1v1h-1zM354 321h1v1h-1zM355 320h1v1h-1zM356 319h1v1h-1zM357 318h1v1h-1zM358 317h1v1h-1zM359 316h1v1h-1zM360 315h1v1h-1zM361 314h1v1h-1zM362 313h1v1h-1zM363 312h1v1h-1zM364 311h1v1h-1zM365 310h1v1h-1zM366 309h1v1h-1zM367 308h1v1h-1zM368 307h1v1h-1zM369 306h1v1h-1zM370 305h1v1h-1zM371 304h1v1h-1zM372 303h1v1h-1z" fill="#00ffff"/>
<line x1="314.80" y1="360.00" x2="326.30" y2="360.00" stroke="#00ffff" stroke-width="2.0" stroke-linecap="square"/>
<path d="M262 422h1v2h-1zM263 421h1v2h-1zM264 420h1v2h-1zM265 419h1v2h-1zM266 418h1v2h-1zM267 417h1v2h-1zM268 416h1v2h-1zM269 415h1v2h-1zM270 414h1v2h-1zM271 413h1v2h-1zM272 412h1v2h-1zM273 411h1v2h-1zM274 410h1v2h-1zM275 409h1v2h-1zM276 408h1v2h-1zM277 407h1v2h-1zM278 406h1v2h-1zM279 405h1v2h-1zM280 404h1v2h-1zM281 403h1v2h-1zM282 402h1v2h-1zM283 401h1v2h-1zM284 400h1v2h-1zM285 399h1v2h-1zM286 398h1v2h-1zM287 397h1v2h-1zM288 396h1v2h-1zM289 395h1v2h-1zM290 394h1v2h-1zM291 393h1v2h-1zM292 392h1v2h-1zM293 391h1v2h-1zM294 390h1v2h-1zM295 389h1v2h-1zM296 388h1v2h-1zM297 387h1v2h-1zM298 386h1v2h-1zM299 385h1v2h-1zM300 384h1v2h-1zM301 383h1v2h-1zM302 383h1v2h-1zM303 382h1v2h-1zM304 381h1v2h-1zM305 380h1v2h-1zM306 379h1v2h-1zM307 378h1v2h-1zM308 377h1v2h-1zM309 376h1v2h-1zM310 375h1v2h-1zM311 374h1v2h-1zM312 373h1v2h-1zM313 372h1v2h-1zM314 371h1v2h-1zM315 370h1v2h-1zM316 369h1v2h-1zM317 368h1v2h-1zM318 367h1v2h-1zM319 366h1v2h-1zM320 365h1v2h-1zM321 364h1v2h-1zM322 363h1v2h-1zM323 362h1v2h-1zM324 361h1v2h-1zM325 360h1v2h-1zM326 359h1v2h-1z" fill="#00ffff"/>
<line x1="262.50" y1="423.00" x2="262.50" y2="440.50" stroke="#00ffff" stroke-width="2.0" stroke-linecap="square"/>
<line x1="262.50" y1="440.50" x2="335.00" y2="440.50" stroke="#00ffff" stroke-width="2.0" stroke-linecap="square"/>
<line x1="282.50" y1="404.50" x2="282.50" y2="423.50" stroke="#00ffff" stroke-width="2.0" stroke-linecap="square"/>
<line x1="282.50" y1="423.50" x2="353.00" y2="423.50" stroke="#00ffff" stroke-width="2.0" stroke-linecap="square"/>
<line x1="300.50" y1="386.50" x2="300.50" y2="405.50" stroke="#00ffff" stroke-width="2.0" stroke-linecap="square"/>
<line x1="300.50" y1="405.50" x2="371.50" y2="405.50" stroke="#00ffff" stroke-width="2.0" stroke-linecap="square"/>
<line x1="236.50" y1="390.50" x2="236.50" y2="430.50" stroke="#00ffff" stroke-width="2.0" stroke-linecap="square"/>
<line x1="236.50" y1="430.50" x2="186.00" y2="430.50" stroke="#00ffff" stroke-width="2.0" stroke-linecap="square"/>
<path d="M43 439h1v1h-1zM44 438h1v1h-1zM45 437h1v1h-1zM46 436h1v1h-1zM47 435h1v1h-1zM48 434h1v1h-1zM49 433h1v1h-1zM50 432h1v1h-1zM51 431h1v1h-1zM52 430h1v1h-1zM53 429h1v1h-1zM54 428h1v1h-1zM55 427h1v1h-1zM56 426h1v1h-1zM57 425h1v1h-1zM58 424h1v1h-1zM59 423h1v1h-1zM60 422h1v1h-1zM61 421h1v1h-1zM62 420h1v1h-1zM63 419h1v1h-1zM64 418h1v1h-1zM65 417h1v1h-1zM66 416h1v1h-1zM67 415h1v1h-1zM68 414h1v1h-1zM69 413h1v1h-1zM70 412h1v1h-1zM71 411h1v1h-1zM72 410h1v1h-1zM73 409h1v1h-1zM74 408h1v1h-1zM75 407h1v1h-1zM76 406h1v1h-1zM77 405h1v1h-1zM78 404h1v1h-1zM79 403h1v1h-1zM80 402h1v1h-1zM81 401h1v1h-1zM82 400h1v1h-1zM83 399h1v1h-1zM84 398h1v1h-1zM85 397h1v1h-1zM86 396h1v1h-1zM87 395h1v1h-1zM88 394h1v1h-1zM89 393h1v1h-1zM90 392h1v1h-1zM91 391h1v1h-1zM92 390h1v1h-1zM93 389h1v1h-1zM94 389h1v1h-1zM95 388h1v1h-1zM96 387h1v1h-1zM97 386h1v1h-1zM98 385h1v1h-1zM99 384h1v1h-1zM100 383h1v1h-1zM101 382h1v1h-1zM102 381h1v1h-1zM103 380h1v1h-1zM104 379h1v1h-1zM105 378h1v1h-1zM106 377h1v1h-1zM107 376h1v1h-1zM108 375h1v1h-1zM109 374h1v1h-1zM110 373h1v1h-1zM111 372h1v1h-1zM112 371h1v1h-1zM113 370h1v1h-1zM114 369h1v1h-1zM115 368h1v1h-1zM116 367h1v1h-1zM117 366h1v1h-1zM118 365h1v1h-1zM119 364h1v1h-1zM120 363h1v1h-1zM121 362h1v1h-1zM122 361h1v1h-1zM123 360h1v1h-1zM124 359h1v1h-1zM125 358h1v1h-1zM126 357h1v1h-1zM127 356h1v1h-1zM128 355h1v1h-1zM129 354h1v1h-1zM130 353h1v1h-1zM131 352h1v1h-1zM132 351h1v1h-1zM133 350h1v1h-1zM134 349h1v1h-1zM135 348h1v1h-1zM136 347h1v1h-1zM137 346h1v1h-1zM138 345h1v1h-1zM139 344h1v1h-1zM140 343h1v1h-1zM141 342h1v1h-1zM142 341h1v1h-1zM143 340h1v1h-1zM144 340h1v1h-1zM145 339h1v1h-1zM146 338h1v1h-1zM147 337h1v1h-1zM148 336h1v1h-1zM149 335h1v1h-1zM150 334h1v1h-1zM151 333h1v1h-1zM152 332h1v1h-1zM153 331h1v1h-1zM154 330h1v1h-1zM155 329h1v1h-1zM156 328h1v1h-1zM157 327h1v1h-1zM158 326h1v1h-1z" fill="#00ffff"/>
<line x1="43.50" y1="439.00" x2="43.50" y2="505.00" stroke="#00ffff" stroke-width="1.6" stroke-linecap="square"/>
<line x1="43.50" y1="505.00" x2="89.80" y2="505.00" stroke="#00ffff" stroke-width="1.6" stroke-linecap="square"/>
<line x1="135.50" y1="349.50" x2="135.50" y2="423.00" stroke="#00ffff" stroke-width="1.6" stroke-linecap="square"/>
<line x1="135.50" y1="423.00" x2="161.00" y2="423.00" stroke="#00ffff" stroke-width="1.6" stroke-linecap="square"/>
<line x1="154.00" y1="473.00" x2="154.00" y2="512.50" stroke="#00ffff" stroke-width="2.0" stroke-linecap="square"/>
<line x1="154.00" y1="512.50" x2="112.00" y2="512.50" stroke="#00ffff" stroke-width="2.0" stroke-linecap="square"/>
<path d="M37 431h1v2h-1zM38 430h1v2h-1zM39 429h1v2h-1zM40 428h1v2h-1zM41 427h1v2h-1zM42 426h1v2h-1zM43 425h1v2h-1zM44 424h1v2h-1zM45 423h1v2h-1zM46 422h1v2h-1zM47 421h1v2h-1zM48 420h1v2h-1zM49 419h1v2h-1zM50 418h1v2h-1zM51 417h1v2h-1zM52 416h1v2h-1zM53 415h1v2h-1zM54 414h1v2h-1zM55 413h1v2h-1zM56 412h1v2h-1zM57 411h1v2h-1zM58 410h1v2h-1zM59 409h1v2h-1zM60 408h1v2h-1zM61 407h1v2h-1zM62 406h1v2h-1zM63 405h1v2h-1zM64 404h1v2h-1zM65 403h1v2h-1zM66 402h1v2h-1zM67 401h1v2h-1zM68 400h1v2h-1zM69 399h1v2h-1zM70 399h1v2h-1zM71 398h1v2h-1zM72 397h1v2h-1zM73 396h1v2h-1zM74 395h1v2h-1zM75 394h1v2h-1zM76 393h1v2h-1zM77 392h1v2h-1zM78 391h1v2h-1zM79 390h1v2h-1zM80 389h1v2h-1zM81 388h1v2h-1zM82 387h1v2h-1zM83 386h1v2h-1zM84 385h1v2h-1zM85 384h1v2h-1zM86 383h1v2h-1zM87 382h1v2h-1zM88 381h1v2h-1zM89 380h1v2h-1zM90 379h1v2h-1zM91 378h1v2h-1zM92 377h1v2h-1zM93 376h1v2h-1zM94 375h1v2h-1zM95 374h1v2h-1zM96 373h1v2h-1zM97 372h1v2h-1zM98 371h1v2h-1zM99 370h1v2h-1zM100 369h1v2h-1zM101 368h1v2h-1zM102 367h1v2h-1zM103 367h1v2h-1zM104 366h1v2h-1zM105 365h1v2h-1zM106 364h1v2h-1zM107 363h1v2h-1zM108 362h1v2h-1zM109 361h1v2h-1zM110 360h1v2h-1zM111 359h1v2h-1zM112 358h1v2h-1zM113 357h1v2h-1zM114 356h1v2h-1zM115 355h1v2h-1zM116 354h1v2h-1zM117 353h1v2h-1zM118 352h1v2h-1zM119 351h1v2h-1zM120 350h1v2h-1zM121 349h1v2h-1zM122 348h1v2h-1zM123 347h1v2h-1zM124 346h1v2h-1zM125 345h1v2h-1zM126 344h1v2h-1zM127 343h1v2h-1zM128 342h1v2h-1zM129 341h1v2h-1zM130 340h1v2h-1zM131 339h1v2h-1zM132 338h1v2h-1zM133 337h1v2h-1zM134 336h1v2h-1zM135 335h1v2h-1zM136 335h1v2h-1zM137 334h1v2h-1zM138 333h1v2h-1zM139 332h1v2h-1zM140 331h1v2h-1zM141 330h1v2h-1zM142 329h1v2h-1z" fill="#ff0000"/>
<line x1="37.00" y1="432.00" x2="37.00" y2="483.50" stroke="#ff0000" stroke-width="1.0" stroke-linecap="square"/>
<line x1="37.00" y1="483.50" x2="89.80" y2="483.50" stroke="#ff0000" stroke-width="1.0" stroke-linecap="square"/>
<line x1="127.50" y1="344.50" x2="127.50" y2="394.50" stroke="#ff0000" stroke-width="1.0" stroke-linecap="square"/>
<line x1="127.50" y1="394.50" x2="161.00" y2="394.50" stroke="#ff0000" stroke-width="1.0" stroke-linecap="square"/>
<line x1="286.00" y1="194.50" x2="309.50" y2="194.50" stroke="#0000ff" stroke-width="1.5" stroke-linecap="square"/>
<line x1="323.50" y1="194.50" x2="341.20" y2="194.50" stroke="#0000ff" stroke-width="1.5" stroke-linecap="square"/>
<line x1="354.00" y1="194.50" x2="399.00" y2="194.50" stroke="#0000ff" stroke-width="1.5" stroke-linecap="square"/>
<path d="M384 191h1v2h-1zM385 191h1v2h-1zM386 190h1v2h-1zM387 189h1v2h-1zM388 188h1v2h-1zM389 187h1v2h-1zM390 186h1v2h-1zM391 185h1v2h-1zM392 184h1v2h-1zM393 183h1v2h-1zM394 182h1v2h-1zM395 181h1v2h-1zM396 180h1v2h-1zM397 179h1v2h-1zM398 178h1v2h-1z" fill="#0000ff"/>
<line x1="399.00" y1="179.00" x2="399.00" y2="155.80" stroke="#0000ff" stroke-width="1.5" stroke-linecap="square"/>
<path d="M400 191h1v2h-1zM401 191h1v2h-1zM402 190h1v2h-1zM403 189h1v2h-1zM404 188h1v2h-1zM405 187h1v2h-1zM406 186h1v2h-1zM407 185h1v2h-1zM408 184h1v2h-1zM409 183h1v2h-1zM410 182h1v2h-1zM411 181h1v2h-1zM412 180h1v2h-1zM413 179h1v2h-1zM414 178h1v2h-1z" fill="#0000ff"/>
<line x1="415.00" y1="179.00" x2="415.00" y2="155.80" stroke="#0000ff" stroke-width="1.5" stroke-linecap="square"/>
<line x1="399.00" y1="155.80" x2="444.00" y2="155.80" stroke="#0000ff" stroke-width="1.5" stroke-linecap="square"/>
<polygon points="379.00,334.00 384.00,334.00 382.80,331.50 383.20,328.50 379.80,328.50 380.20,331.50" fill="#00ff00"/>
<line x1="378.50" y1="331.00" x2="378.50" y2="335.00" stroke="#00ff00" stroke-width="0.8" stroke-linecap="square"/>
<line x1="384.50" y1="331.00" x2="384.50" y2="335.00" stroke="#00ff00" stroke-width="0.8" stroke-linecap="square"/>
<line x1="387.50" y1="330.00" x2="387.50" y2="335.00" stroke="#00ff00" stroke-width="1.0" stroke-linecap="square"/>
<line x1="395.50" y1="330.00" x2="395.50" y2="335.00" stroke="#00ff00" stroke-width="1.0" stroke-linecap="square"/>
<path d="M389 333h1v1h-1zM390 334h1v1h-1zM391 335h1v1h-1z" fill="#00ff00"/>
<path d="M393 333h1v1h-1zM392 334h1v1h-1zM391 335h1v1h-1z" fill="#00ff00"/>
<line x1="391.50" y1="335.50" x2="391.50" y2="337.50" stroke="#00ff00" stroke-width="1.0" stroke-linecap="square"/>
<path d="M398 328h1v1h-1zM399 328h1v1h-1zM400 328h1v1h-1z" fill="#ff0000"/>
<line x1="400.20" y1="328.50" x2="400.20" y2="332.00" stroke="#ff0000" stroke-width="1.3" stroke-linecap="square"/>
<rect x="403.20" y="330.30" width="3.63" height="4.40" fill="#ffff00"/>
<rect x="406.83" y="330.30" width="2.97" height="4.40" fill="#ffffff"/>
<polygon points="395.10,318.00 400.10,318.00 398.90,315.50 399.30,312.50 395.90,312.50 396.30,315.50" fill="#00ff00"/>
<line x1="394.60" y1="315.00" x2="394.60" y2="319.00" stroke="#00ff00" stroke-width="0.8" stroke-linecap="square"/>
<line x1="400.60" y1="315.00" x2="400.60" y2="319.00" stroke="#00ff00" stroke-width="0.8" stroke-linecap="square"/>
<line x1="402.60" y1="314.00" x2="402.60" y2="319.00" stroke="#00ff00" stroke-width="1.0" stroke-linecap="square"/>
<line x1="410.60" y1="314.00" x2="410.60" y2="319.00" stroke="#00ff00" stroke-width="1.0" stroke-linecap="square"/>
<path d="M405 317h1v1h-1zM405 318h1v1h-1zM406 319h1v1h-1z" fill="#00ff00"/>
<path d="M408 317h1v1h-1zM407 318h1v1h-1zM406 319h1v1h-1z" fill="#00ff00"/>
<line x1="406.60" y1="319.50" x2="406.60" y2="321.50" stroke="#00ff00" stroke-width="1.0" stroke-linecap="square"/>
<path d="M414 312h1v1h-1zM415 312h1v1h-1zM416 312h1v1h-1z" fill="#ff0000"/>
<line x1="416.20" y1="312.50" x2="416.20" y2="316.00" stroke="#ff0000" stroke-width="1.3" stroke-linecap="square"/>
<rect x="419.20" y="314.30" width="3.63" height="4.40" fill="#ffff00"/>
<rect x="422.83" y="314.30" width="2.97" height="4.40" fill="#ffffff"/>
<polygon points="413.30,300.00 418.30,300.00 417.10,297.50 417.50,294.50 414.10,294.50 414.50,297.50" fill="#00ff00"/>
<line x1="412.80" y1="297.00" x2="412.80" y2="301.00" stroke="#00ff00" stroke-width="0.8" stroke-linecap="square"/>
<line x1="418.80" y1="297.00" x2="418.80" y2="301.00" stroke="#00ff00" stroke-width="0.8" stroke-linecap="square"/>
<line x1="420.80" y1="296.00" x2="420.80" y2="301.00" stroke="#00ff00" stroke-width="1.0" stroke-linecap="square"/>
<line x1="428.80" y1="296.00" x2="428.80" y2="301.00" stroke="#00ff00" stroke-width="1.0" stroke-linecap="square"/>
<path d="M423 299h1v1h-1zM424 300h1v1h-1zM424 301h1v1h-1z" fill="#00ff00"/>
<path d="M426 299h1v1h-1zM425 300h1v1h-1zM424 301h1v1h-1z" fill="#00ff00"/>
<line x1="424.80" y1="301.50" x2="424.80" y2="303.50" stroke="#00ff00" stroke-width="1.0" stroke-linecap="square"/>
<path d="M432 294h1v1h-1zM433 294h1v1h-1z" fill="#ff0000"/>
<line x1="433.80" y1="294.50" x2="433.80" y2="298.00" stroke="#ff0000" stroke-width="1.3" stroke-linecap="square"/>
<rect x="436.90" y="296.30" width="3.63" height="4.40" fill="#ffff00"/>
<rect x="440.53" y="296.30" width="2.97" height="4.40" fill="#ffffff"/>
<rect x="442.80" y="329.15" width="12.33" height="8.85" fill="#00ff00"/>
<rect x="444.14" y="326.20" width="4.02" height="3.54" fill="#00ff00"/>
<rect x="450.17" y="327.38" width="4.02" height="2.36" fill="#00ff00"/>
<rect x="454.19" y="330.92" width="2.01" height="4.72" fill="#00ff00"/>
<rect x="444.81" y="330.33" width="1.00" height="2.00" fill="#00ffff"/>
<rect x="445.48" y="336.23" width="2.00" height="1.00" fill="#00ffff"/>
<rect x="461.00" y="311.88" width="12.42" height="8.62" fill="#00ff00"/>
<rect x="462.35" y="309.00" width="4.05" height="3.45" fill="#00ff00"/>
<rect x="468.43" y="310.15" width="4.05" height="2.30" fill="#00ff00"/>
<rect x="472.48" y="313.60" width="2.02" height="4.60" fill="#00ff00"/>
<rect x="463.02" y="313.02" width="1.00" height="2.00" fill="#00ffff"/>
<rect x="463.70" y="318.77" width="2.00" height="1.00" fill="#00ffff"/>
<rect x="477.80" y="296.42" width="12.42" height="7.58" fill="#00ff00"/>
<rect x="479.15" y="293.90" width="4.05" height="3.03" fill="#00ff00"/>
<rect x="485.23" y="294.91" width="4.05" height="2.02" fill="#00ff00"/>
<rect x="489.28" y="297.94" width="2.02" height="4.04" fill="#00ff00"/>
<rect x="479.82" y="297.44" width="1.00" height="2.00" fill="#00ffff"/>
<rect x="480.50" y="302.49" width="2.00" height="1.00" fill="#00ffff"/>
<polygon points="442.00,296.70 448.00,296.70 445.60,299.00 448.00,301.30 442.00,301.30 444.40,299.00" fill="#00ff00"/>
<path d="M447,307.3 A2.3,2.3 0 1 0 447,311.7" stroke="#00ff00" stroke-width="1.2" fill="none"/>
<rect x="446.00" y="317.00" width="3.00" height="2.00" fill="#ff0000"/>
<polygon points="442.50,320.50 444.00,320.50 445.00,322.00 446.00,320.50 447.50,320.50 446.00,322.50 447.50,324.50 446.00,324.50 445.00,323.00 444.00,324.50 442.50,324.50 444.00,322.50" fill="#ffff00"/>
<polygon points="460.00,280.20 466.00,280.20 463.60,282.50 466.00,284.80 460.00,284.80 462.40,282.50" fill="#00ff00"/>
<path d="M465,289.6 A2.3,2.3 0 1 0 465,294.0" stroke="#00ff00" stroke-width="1.2" fill="none"/>
<rect x="464.00" y="297.00" width="3.00" height="2.00" fill="#ff0000"/>
<polygon points="460.50,302.80 462.00,302.80 463.00,304.30 464.00,302.80 465.50,302.80 464.00,304.80 465.50,306.80 464.00,306.80 463.00,305.30 462.00,306.80 460.50,306.80 462.00,304.80" fill="#ffff00"/>
<polygon points="477.50,263.40 483.50,263.40 481.10,265.70 483.50,268.00 477.50,268.00 479.90,265.70" fill="#00ff00"/>
<path d="M482.5,274.6 A2.3,2.3 0 1 0 482.5,279.0" stroke="#00ff00" stroke-width="1.2" fill="none"/>
<rect x="481.50" y="282.00" width="3.00" height="2.00" fill="#ff0000"/>
<polygon points="478.00,287.20 479.50,287.20 480.50,288.70 481.50,287.20 483.00,287.20 481.50,289.20 483.00,291.20 481.50,291.20 480.50,289.70 479.50,291.20 478.00,291.20 479.50,289.20" fill="#ffff00"/>
<polygon points="469.50,246.00 474.50,246.00 473.30,243.50 473.70,240.50 470.30,240.50 470.70,243.50" fill="#00ff00"/>
<line x1="469.00" y1="243.00" x2="469.00" y2="247.00" stroke="#00ff00" stroke-width="0.8" stroke-linecap="square"/>
<line x1="475.00" y1="243.00" x2="475.00" y2="247.00" stroke="#00ff00" stroke-width="0.8" stroke-linecap="square"/>
<line x1="476.50" y1="242.00" x2="476.50" y2="247.00" stroke="#00ff00" stroke-width="1.0" stroke-linecap="square"/>
<line x1="484.50" y1="242.00" x2="484.50" y2="247.00" stroke="#00ff00" stroke-width="1.0" stroke-linecap="square"/>
<path d="M478 245h1v1h-1zM479 246h1v1h-1zM480 247h1v1h-1z" fill="#00ff00"/>
<path d="M482 245h1v1h-1zM481 246h1v1h-1zM480 247h1v1h-1z" fill="#00ff00"/>
<line x1="480.50" y1="247.50" x2="480.50" y2="249.50" stroke="#00ff00" stroke-width="1.0" stroke-linecap="square"/>
<path d="M488 240h1v1h-1zM489 240h1v1h-1z" fill="#ff0000"/>
<line x1="489.90" y1="240.50" x2="489.90" y2="244.00" stroke="#ff0000" stroke-width="1.3" stroke-linecap="square"/>
<rect x="492.90" y="242.30" width="3.58" height="4.40" fill="#ffff00"/>
<rect x="496.47" y="242.30" width="2.93" height="4.40" fill="#ffffff"/>
<polygon points="484.70,230.00 489.70,230.00 488.50,227.50 488.90,224.50 485.50,224.50 485.90,227.50" fill="#00ff00"/>
<line x1="484.20" y1="227.00" x2="484.20" y2="231.00" stroke="#00ff00" stroke-width="0.8" stroke-linecap="square"/>
<line x1="490.20" y1="227.00" x2="490.20" y2="231.00" stroke="#00ff00" stroke-width="0.8" stroke-linecap="square"/>
<line x1="491.50" y1="226.00" x2="491.50" y2="231.00" stroke="#00ff00" stroke-width="1.0" stroke-linecap="square"/>
<line x1="499.50" y1="226.00" x2="499.50" y2="231.00" stroke="#00ff00" stroke-width="1.0" stroke-linecap="square"/>
<path d="M493 229h1v1h-1zM494 230h1v1h-1zM495 231h1v1h-1z" fill="#00ff00"/>
<path d="M497 229h1v1h-1zM496 230h1v1h-1zM495 231h1v1h-1z" fill="#00ff00"/>
<line x1="495.50" y1="231.50" x2="495.50" y2="233.50" stroke="#00ff00" stroke-width="1.0" stroke-linecap="square"/>
<path d="M504 224h1v1h-1zM505 224h1v1h-1z" fill="#ff0000"/>
<line x1="506.00" y1="224.50" x2="506.00" y2="228.00" stroke="#ff0000" stroke-width="1.3" stroke-linecap="square"/>
<rect x="508.00" y="226.30" width="3.58" height="4.40" fill="#ffff00"/>
<rect x="511.57" y="226.30" width="2.93" height="4.40" fill="#ffffff"/>
<polygon points="502.30,212.00 507.30,212.00 506.10,209.50 506.50,206.50 503.10,206.50 503.50,209.50" fill="#00ff00"/>
<line x1="501.80" y1="209.00" x2="501.80" y2="213.00" stroke="#00ff00" stroke-width="0.8" stroke-linecap="square"/>
<line x1="507.80" y1="209.00" x2="507.80" y2="213.00" stroke="#00ff00" stroke-width="0.8" stroke-linecap="square"/>
<line x1="510.50" y1="208.00" x2="510.50" y2="213.00" stroke="#00ff00" stroke-width="1.0" stroke-linecap="square"/>
<line x1="518.50" y1="208.00" x2="518.50" y2="213.00" stroke="#00ff00" stroke-width="1.0" stroke-linecap="square"/>
<path d="M512 211h1v1h-1zM513 212h1v1h-1zM514 213h1v1h-1z" fill="#00ff00"/>
<path d="M516 211h1v1h-1zM515 212h1v1h-1zM514 213h1v1h-1z" fill="#00ff00"/>
<line x1="514.50" y1="213.50" x2="514.50" y2="215.50" stroke="#00ff00" stroke-width="1.0" stroke-linecap="square"/>
<path d="M521 207h1v1h-1zM522 206h1v1h-1zM523 206h1v1h-1z" fill="#ff0000"/>
<line x1="523.70" y1="206.50" x2="523.70" y2="210.00" stroke="#ff0000" stroke-width="1.3" stroke-linecap="square"/>
<rect x="525.70" y="208.30" width="3.58" height="4.40" fill="#ffff00"/>
<rect x="529.28" y="208.30" width="2.93" height="4.40" fill="#ffffff"/>
<rect x="532.00" y="241.90" width="12.88" height="8.10" fill="#00ff00"/>
<rect x="533.40" y="239.20" width="4.20" height="3.24" fill="#00ff00"/>
<rect x="539.70" y="240.28" width="4.20" height="2.16" fill="#00ff00"/>
<rect x="543.90" y="243.52" width="2.10" height="4.32" fill="#00ff00"/>
<rect x="534.10" y="242.98" width="1.00" height="2.00" fill="#00ffff"/>
<rect x="534.80" y="248.38" width="2.00" height="1.00" fill="#00ffff"/>
<rect x="550.00" y="225.12" width="11.87" height="8.18" fill="#00ff00"/>
<rect x="551.29" y="222.40" width="3.87" height="3.27" fill="#00ff00"/>
<rect x="557.10" y="223.49" width="3.87" height="2.18" fill="#00ff00"/>
<rect x="560.97" y="226.76" width="1.93" height="4.36" fill="#00ff00"/>
<rect x="551.93" y="226.22" width="1.00" height="2.00" fill="#00ffff"/>
<rect x="552.58" y="231.67" width="2.00" height="1.00" fill="#00ffff"/>
<rect x="567.10" y="208.12" width="12.42" height="7.57" fill="#00ff00"/>
<rect x="568.45" y="205.60" width="4.05" height="3.03" fill="#00ff00"/>
<rect x="574.52" y="206.61" width="4.05" height="2.02" fill="#00ff00"/>
<rect x="578.58" y="209.64" width="2.02" height="4.04" fill="#00ff00"/>
<rect x="569.12" y="209.13" width="1.00" height="2.00" fill="#00ffff"/>
<rect x="569.80" y="214.19" width="2.00" height="1.00" fill="#00ffff"/>
<polygon points="532.50,208.90 538.50,208.90 536.10,211.20 538.50,213.50 532.50,213.50 534.90,211.20" fill="#00ff00"/>
<path d="M537.5,219.8 A2.3,2.3 0 1 0 537.5,224.2" stroke="#00ff00" stroke-width="1.2" fill="none"/>
<rect x="536.50" y="228.50" width="3.00" height="2.00" fill="#ff0000"/>
<polygon points="533.00,233.00 534.50,233.00 535.50,234.50 536.50,233.00 538.00,233.00 536.50,235.00 538.00,237.00 536.50,237.00 535.50,235.50 534.50,237.00 533.00,237.00 534.50,235.00" fill="#ffff00"/>
<polygon points="550.50,192.30 556.50,192.30 554.10,194.60 556.50,196.90 550.50,196.90 552.90,194.60" fill="#00ff00"/>
<path d="M555.5,202.5 A2.3,2.3 0 1 0 555.5,206.89999999999998" stroke="#00ff00" stroke-width="1.2" fill="none"/>
<rect x="554.50" y="211.00" width="3.00" height="2.00" fill="#ff0000"/>
<polygon points="551.00,215.30 552.50,215.30 553.50,216.80 554.50,215.30 556.00,215.30 554.50,217.30 556.00,219.30 554.50,219.30 553.50,217.80 552.50,219.30 551.00,219.30 552.50,217.30" fill="#ffff00"/>
<polygon points="566.50,176.30 572.50,176.30 570.10,178.60 572.50,180.90 566.50,180.90 568.90,178.60" fill="#00ff00"/>
<path d="M571.5,186.10000000000002 A2.3,2.3 0 1 0 571.5,190.5" stroke="#00ff00" stroke-width="1.2" fill="none"/>
<rect x="570.50" y="194.80" width="3.00" height="2.00" fill="#ff0000"/>
<polygon points="567.00,198.50 568.50,198.50 569.50,200.00 570.50,198.50 572.00,198.50 570.50,200.50 572.00,202.50 570.50,202.50 569.50,201.00 568.50,202.50 567.00,202.50 568.50,200.50" fill="#ffff00"/>
<polygon points="269.40,442.00 274.40,442.00 273.20,439.50 273.60,436.50 270.20,436.50 270.60,439.50" fill="#00ff00"/>
<line x1="268.90" y1="439.00" x2="268.90" y2="443.00" stroke="#00ff00" stroke-width="0.8" stroke-linecap="square"/>
<line x1="274.90" y1="439.00" x2="274.90" y2="443.00" stroke="#00ff00" stroke-width="0.8" stroke-linecap="square"/>
<line x1="276.00" y1="438.00" x2="276.00" y2="443.00" stroke="#00ff00" stroke-width="1.0" stroke-linecap="square"/>
<line x1="284.00" y1="438.00" x2="284.00" y2="443.00" stroke="#00ff00" stroke-width="1.0" stroke-linecap="square"/>
<path d="M278 441h1v1h-1zM279 442h1v1h-1zM280 443h1v1h-1z" fill="#00ff00"/>
<path d="M281 441h1v1h-1zM280 442h1v1h-1zM280 443h1v1h-1z" fill="#00ff00"/>
<line x1="280.00" y1="443.50" x2="280.00" y2="445.50" stroke="#00ff00" stroke-width="1.0" stroke-linecap="square"/>
<path d="M288 437h1v1h-1zM289 436h1v1h-1zM290 436h1v1h-1z" fill="#ff0000"/>
<line x1="290.40" y1="436.50" x2="290.40" y2="440.00" stroke="#ff0000" stroke-width="1.3" stroke-linecap="square"/>
<rect x="292.70" y="438.30" width="3.58" height="4.40" fill="#ffff00"/>
<rect x="296.27" y="438.30" width="2.93" height="4.40" fill="#ffffff"/>
<polygon points="287.60,425.00 292.60,425.00 291.40,422.50 291.80,419.50 288.40,419.50 288.80,422.50" fill="#00ff00"/>
<line x1="287.10" y1="422.00" x2="287.10" y2="426.00" stroke="#00ff00" stroke-width="0.8" stroke-linecap="square"/>
<line x1="293.10" y1="422.00" x2="293.10" y2="426.00" stroke="#00ff00" stroke-width="0.8" stroke-linecap="square"/>
<line x1="295.50" y1="421.00" x2="295.50" y2="426.00" stroke="#00ff00" stroke-width="1.0" stroke-linecap="square"/>
<line x1="303.50" y1="421.00" x2="303.50" y2="426.00" stroke="#00ff00" stroke-width="1.0" stroke-linecap="square"/>
<path d="M297 424h1v1h-1zM298 425h1v1h-1zM299 426h1v1h-1z" fill="#00ff00"/>
<path d="M301 424h1v1h-1zM300 425h1v1h-1zM299 426h1v1h-1z" fill="#00ff00"/>
<line x1="299.50" y1="426.50" x2="299.50" y2="428.50" stroke="#00ff00" stroke-width="1.0" stroke-linecap="square"/>
<path d="M308 420h1v1h-1zM309 419h1v1h-1zM310 419h1v1h-1z" fill="#ff0000"/>
<line x1="310.60" y1="419.50" x2="310.60" y2="423.00" stroke="#ff0000" stroke-width="1.3" stroke-linecap="square"/>
<rect x="312.90" y="421.30" width="3.58" height="4.40" fill="#ffff00"/>
<rect x="316.47" y="421.30" width="2.93" height="4.40" fill="#ffffff"/>
<polygon points="306.80,407.00 311.80,407.00 310.60,404.50 311.00,401.50 307.60,401.50 308.00,404.50" fill="#00ff00"/>
<line x1="306.30" y1="404.00" x2="306.30" y2="408.00" stroke="#00ff00" stroke-width="0.8" stroke-linecap="square"/>
<line x1="312.30" y1="404.00" x2="312.30" y2="408.00" stroke="#00ff00" stroke-width="0.8" stroke-linecap="square"/>
<line x1="313.50" y1="403.00" x2="313.50" y2="408.00" stroke="#00ff00" stroke-width="1.0" stroke-linecap="square"/>
<line x1="321.50" y1="403.00" x2="321.50" y2="408.00" stroke="#00ff00" stroke-width="1.0" stroke-linecap="square"/>
<path d="M315 406h1v1h-1zM316 407h1v1h-1zM317 408h1v1h-1z" fill="#00ff00"/>
<path d="M319 406h1v1h-1zM318 407h1v1h-1zM317 408h1v1h-1z" fill="#00ff00"/>
<line x1="317.50" y1="408.50" x2="317.50" y2="410.50" stroke="#00ff00" stroke-width="1.0" stroke-linecap="square"/>
<path d="M327 401h1v1h-1zM328 401h1v1h-1z" fill="#ff0000"/>
<line x1="328.80" y1="401.50" x2="328.80" y2="405.00" stroke="#ff0000" stroke-width="1.3" stroke-linecap="square"/>
<rect x="331.00" y="403.30" width="3.58" height="4.40" fill="#ffff00"/>
<rect x="334.57" y="403.30" width="2.93" height="4.40" fill="#ffffff"/>
<rect x="334.00" y="437.75" width="13.16" height="8.25" fill="#00ff00"/>
<rect x="335.43" y="435.00" width="4.29" height="3.30" fill="#00ff00"/>
<rect x="341.87" y="436.10" width="4.29" height="2.20" fill="#00ff00"/>
<rect x="346.16" y="439.40" width="2.15" height="4.40" fill="#00ff00"/>
<rect x="336.14" y="438.85" width="1.00" height="2.00" fill="#00ffff"/>
<rect x="336.86" y="444.35" width="2.00" height="1.00" fill="#00ffff"/>
<rect x="352.30" y="421.32" width="12.05" height="7.57" fill="#00ff00"/>
<rect x="353.61" y="418.80" width="3.93" height="3.03" fill="#00ff00"/>
<rect x="359.50" y="419.81" width="3.93" height="2.02" fill="#00ff00"/>
<rect x="363.44" y="422.84" width="1.96" height="4.04" fill="#00ff00"/>
<rect x="354.26" y="422.33" width="1.00" height="2.00" fill="#00ffff"/>
<rect x="354.92" y="427.38" width="2.00" height="1.00" fill="#00ffff"/>
<rect x="371.50" y="403.12" width="11.13" height="7.57" fill="#00ff00"/>
<rect x="372.71" y="400.60" width="3.63" height="3.03" fill="#00ff00"/>
<rect x="378.16" y="401.61" width="3.63" height="2.02" fill="#00ff00"/>
<rect x="381.79" y="404.64" width="1.82" height="4.04" fill="#00ff00"/>
<rect x="373.31" y="404.13" width="1.00" height="2.00" fill="#00ffff"/>
<rect x="373.92" y="409.19" width="2.00" height="1.00" fill="#00ffff"/>
<polygon points="333.50,403.00 339.00,403.00 336.80,405.50 339.00,408.00 333.50,408.00 335.70,405.50" fill="#00ff00"/>
<polygon points="351.50,388.70 357.50,388.70 355.10,391.00 357.50,393.30 351.50,393.30 353.90,391.00" fill="#00ff00"/>
<path d="M356.5,398.40000000000003 A2.3,2.3 0 1 0 356.5,402.8" stroke="#00ff00" stroke-width="1.2" fill="none"/>
<rect x="355.50" y="408.70" width="3.00" height="2.00" fill="#ff0000"/>
<polygon points="352.00,411.30 353.50,411.30 354.50,412.80 355.50,411.30 357.00,411.30 355.50,413.30 357.00,415.30 355.50,415.30 354.50,413.80 353.50,415.30 352.00,415.30 353.50,413.30" fill="#ffff00"/>
<polygon points="369.50,369.50 375.50,369.50 373.10,371.80 375.50,374.10 369.50,374.10 371.90,371.80" fill="#00ff00"/>
<path d="M374.5,379.8 A2.3,2.3 0 1 0 374.5,384.2" stroke="#00ff00" stroke-width="1.2" fill="none"/>
<rect x="373.50" y="390.50" width="3.00" height="2.00" fill="#ff0000"/>
<polygon points="370.00,393.10 371.50,393.10 372.50,394.60 373.50,393.10 375.00,393.10 373.50,395.10 375.00,397.10 373.50,397.10 372.50,395.60 371.50,397.10 370.00,397.10 371.50,395.10" fill="#ffff00"/>
<path d="M339,415.1 A2.3,2.3 0 1 0 339,419.5" stroke="#00ff00" stroke-width="1.2" fill="none"/>
<rect x="338.00" y="425.00" width="3.00" height="2.00" fill="#ff0000"/>
<polygon points="334.50,428.50 336.00,428.50 337.00,430.00 338.00,428.50 339.50,428.50 338.00,430.50 339.50,432.50 338.00,432.50 337.00,431.00 336.00,432.50 334.50,432.50 336.00,430.50" fill="#ffff00"/>
<rect x="613.00" y="284.70" width="5.00" height="3.60" fill="#00ff00"/>
<rect x="619.30" y="284.70" width="5.00" height="3.60" fill="#00ff00"/>
<rect x="613.00" y="290.20" width="5.00" height="3.60" fill="#00ff00"/>
<rect x="615.00" y="291.50" width="1.00" height="1.00" fill="#000"/>
<rect x="619.30" y="290.20" width="5.00" height="3.60" fill="#00ff00"/>
<rect x="621.30" y="291.50" width="1.00" height="1.00" fill="#000"/>
<rect x="613.00" y="295.70" width="5.00" height="3.60" fill="#00ff00"/>
<rect x="619.30" y="295.70" width="5.00" height="3.60" fill="#00ff00"/>
<rect x="613.00" y="301.20" width="5.00" height="3.60" fill="#00ff00"/>
<rect x="615.00" y="302.50" width="1.00" height="1.00" fill="#000"/>
<rect x="619.30" y="301.20" width="5.00" height="3.60" fill="#00ff00"/>
<rect x="621.30" y="302.50" width="1.00" height="1.00" fill="#000"/>
<polygon points="620.30,304.50 623.30,304.50 621.80,307.00" fill="#00ff00"/>
<rect x="583.00" y="319.70" width="5.00" height="3.60" fill="#00ff00"/>
<rect x="589.30" y="319.70" width="5.00" height="3.60" fill="#00ff00"/>
<rect x="583.00" y="325.70" width="5.00" height="3.60" fill="#00ff00"/>
<rect x="589.30" y="325.70" width="5.00" height="3.60" fill="#00ff00"/>
<rect x="583.00" y="331.10" width="5.00" height="3.60" fill="#00ff00"/>
<rect x="585.00" y="332.40" width="1.00" height="1.00" fill="#000"/>
<rect x="589.30" y="331.10" width="5.00" height="3.60" fill="#00ff00"/>
<rect x="591.30" y="332.40" width="1.00" height="1.00" fill="#000"/>
<rect x="583.00" y="336.50" width="5.00" height="3.60" fill="#00ff00"/>
<rect x="585.00" y="337.80" width="1.00" height="1.00" fill="#000"/>
<rect x="589.30" y="336.50" width="5.00" height="3.60" fill="#00ff00"/>
<rect x="591.30" y="337.80" width="1.00" height="1.00" fill="#000"/>
<polygon points="590.30,339.80 593.30,339.80 591.80,342.30" fill="#00ff00"/>
<line x1="629.20" y1="281.00" x2="629.20" y2="291.00" stroke="#ff0000" stroke-width="1.6" stroke-linecap="square"/>
<line x1="629.20" y1="297.00" x2="629.20" y2="302.00" stroke="#ff0000" stroke-width="1.6" stroke-linecap="square"/>
<line x1="634.10" y1="283.00" x2="634.10" y2="290.50" stroke="#ff0000" stroke-width="1.6" stroke-linecap="square"/>
<line x1="634.10" y1="294.00" x2="634.10" y2="301.50" stroke="#ff0000" stroke-width="1.6" stroke-linecap="square"/>
<rect x="639.00" y="284.00" width="4.00" height="22.00" fill="#ffff00"/>
<rect x="640.30" y="288.50" width="1.50" height="1.50" fill="#000"/>
<rect x="640.30" y="294.50" width="1.50" height="1.50" fill="#000"/>
<rect x="640.30" y="300.00" width="1.50" height="1.50" fill="#000"/>
<rect x="640.50" y="304.50" width="1.00" height="1.50" fill="#000"/>
<line x1="598.20" y1="317.00" x2="598.20" y2="337.60" stroke="#ff0000" stroke-width="1.6" stroke-linecap="square"/>
<line x1="604.00" y1="317.50" x2="604.00" y2="325.00" stroke="#ff0000" stroke-width="1.6" stroke-linecap="square"/>
<line x1="604.00" y1="329.00" x2="604.00" y2="337.50" stroke="#ff0000" stroke-width="1.6" stroke-linecap="square"/>
<rect x="609.00" y="319.00" width="4.00" height="22.00" fill="#ffff00"/>
<rect x="610.30" y="323.50" width="1.50" height="1.50" fill="#000"/>
<rect x="610.30" y="329.00" width="1.50" height="1.50" fill="#000"/>
<rect x="610.30" y="334.50" width="1.50" height="1.50" fill="#000"/>
<rect x="587.20" y="283.30" width="6.50" height="2.60" fill="#ffffff"/>
<rect x="585.40" y="288.70" width="6.50" height="2.60" fill="#ffffff"/>
<rect x="583.50" y="294.50" width="6.50" height="2.60" fill="#ffffff"/>
<rect x="581.70" y="299.90" width="5.50" height="2.60" fill="#ffffff"/>
<rect x="558.50" y="318.50" width="6.50" height="2.60" fill="#ffffff"/>
<rect x="553.90" y="324.30" width="6.10" height="2.60" fill="#ffffff"/>
<rect x="551.10" y="329.50" width="6.50" height="2.60" fill="#ffffff"/>
<rect x="551.10" y="335.50" width="6.50" height="2.60" fill="#ffffff"/>
<rect x="604.00" y="284.00" width="3.60" height="5.00" fill="#ffffff"/>
<rect x="605.20" y="285.80" width="1.20" height="1.40" fill="#000"/>
<rect x="601.00" y="289.50" width="3.60" height="5.00" fill="#ffffff"/>
<rect x="602.20" y="291.30" width="1.20" height="1.40" fill="#000"/>
<rect x="592.00" y="295.00" width="3.60" height="5.00" fill="#ffffff"/>
<rect x="593.20" y="296.80" width="1.20" height="1.40" fill="#000"/>
<rect x="605.70" y="300.50" width="3.60" height="5.00" fill="#ffffff"/>
<rect x="606.90" y="302.30" width="1.20" height="1.40" fill="#000"/>
<rect x="579.30" y="319.00" width="3.60" height="5.00" fill="#ffffff"/>
<rect x="580.50" y="320.80" width="1.20" height="1.40" fill="#000"/>
<rect x="567.80" y="325.00" width="3.60" height="5.00" fill="#ffffff"/>
<rect x="569.00" y="326.80" width="1.20" height="1.40" fill="#000"/>
<rect x="563.10" y="330.00" width="3.60" height="5.00" fill="#ffffff"/>
<rect x="564.30" y="331.80" width="1.20" height="1.40" fill="#000"/>
<rect x="573.30" y="336.00" width="3.60" height="5.00" fill="#ffffff"/>
<rect x="574.50" y="337.80" width="1.20" height="1.40" fill="#000"/>
<rect x="160.30" y="386.10" width="24.20" height="2.60" fill="#ffff00"/>
<rect x="160.80" y="439.60" width="23.20" height="3.00" stroke="#ffff00" stroke-width="1.0" fill="none"/>
<line x1="162.50" y1="388.60" x2="162.50" y2="439.10" stroke="#ffff00" stroke-width="1.0" stroke-linecap="square"/>
<line x1="182.50" y1="388.60" x2="182.50" y2="439.10" stroke="#ffff00" stroke-width="1.0" stroke-linecap="square"/>
<path d="M184 361h1v1h-1zM183 362h1v1h-1zM182 363h1v1h-1zM181 364h1v1h-1zM180 365h1v1h-1zM179 366h1v1h-1zM178 367h1v1h-1zM177 368h1v1h-1zM176 369h1v1h-1zM175 370h1v1h-1zM174 371h1v1h-1zM173 372h1v1h-1zM172 373h1v1h-1zM171 374h1v1h-1zM170 375h1v1h-1zM169 376h1v1h-1zM168 377h1v1h-1zM167 378h1v1h-1zM166 379h1v1h-1zM165 380h1v1h-1zM164 381h1v1h-1zM163 382h1v1h-1zM162 383h1v1h-1zM161 384h1v1h-1zM160 385h1v1h-1zM160 386h1v1h-1z" fill="#ffff00"/>
<line x1="184.50" y1="361.40" x2="208.80" y2="361.40" stroke="#ffff00" stroke-width="1.0" stroke-linecap="square"/>
<path d="M208 361h1v1h-1zM207 362h1v1h-1zM206 363h1v1h-1zM205 364h1v1h-1zM204 365h1v1h-1zM203 366h1v1h-1zM202 367h1v1h-1zM201 368h1v1h-1zM200 369h1v1h-1zM199 370h1v1h-1zM198 371h1v1h-1zM197 372h1v1h-1zM196 373h1v1h-1zM195 374h1v1h-1zM194 375h1v1h-1zM193 376h1v1h-1zM192 377h1v1h-1zM191 378h1v1h-1zM190 379h1v1h-1zM190 380h1v1h-1zM189 381h1v1h-1zM188 382h1v1h-1zM187 383h1v1h-1zM186 384h1v1h-1zM185 385h1v1h-1zM184 386h1v1h-1z" fill="#ffff00"/>
<line x1="208.80" y1="361.40" x2="208.80" y2="414.80" stroke="#ffff00" stroke-width="1.0" stroke-linecap="square"/>
<path d="M208 414h1v1h-1zM208 415h1v1h-1zM207 416h1v1h-1zM206 417h1v1h-1zM205 418h1v1h-1zM204 419h1v1h-1zM203 420h1v1h-1zM202 421h1v1h-1zM201 422h1v1h-1zM200 423h1v1h-1zM199 424h1v1h-1zM198 425h1v1h-1zM197 426h1v1h-1zM196 427h1v1h-1zM195 428h1v1h-1zM194 429h1v1h-1zM193 430h1v1h-1zM192 431h1v1h-1zM191 432h1v1h-1zM190 433h1v1h-1zM189 434h1v1h-1zM188 435h1v1h-1zM187 436h1v1h-1zM186 437h1v1h-1zM185 438h1v1h-1zM184 439h1v1h-1z" fill="#ffff00"/>
<rect x="87.20" y="470.10" width="24.80" height="2.60" fill="#ffff00"/>
<rect x="87.70" y="523.60" width="23.80" height="3.00" stroke="#ffff00" stroke-width="1.0" fill="none"/>
<line x1="90.50" y1="472.60" x2="90.50" y2="523.10" stroke="#ffff00" stroke-width="1.0" stroke-linecap="square"/>
<line x1="109.50" y1="472.60" x2="109.50" y2="523.10" stroke="#ffff00" stroke-width="1.0" stroke-linecap="square"/>
<path d="M111 445h1v1h-1zM110 446h1v1h-1zM109 447h1v1h-1zM108 448h1v1h-1zM107 449h1v1h-1zM106 450h1v1h-1zM105 451h1v1h-1zM104 452h1v1h-1zM103 453h1v1h-1zM102 454h1v1h-1zM101 455h1v1h-1zM100 456h1v1h-1zM99 457h1v1h-1zM98 458h1v1h-1zM97 459h1v1h-1zM96 460h1v1h-1zM95 461h1v1h-1zM94 462h1v1h-1zM93 463h1v1h-1zM92 464h1v1h-1zM91 465h1v1h-1zM90 466h1v1h-1zM89 467h1v1h-1zM88 468h1v1h-1zM87 469h1v1h-1zM87 470h1v1h-1z" fill="#ffff00"/>
<line x1="111.60" y1="445.50" x2="136.90" y2="445.50" stroke="#ffff00" stroke-width="1.0" stroke-linecap="square"/>
<path d="M112 469h1v1h-1zM113 468h1v1h-1zM114 467h1v1h-1zM115 466h1v1h-1zM116 465h1v1h-1zM117 464h1v1h-1zM118 463h1v1h-1zM119 462h1v1h-1zM120 461h1v1h-1zM121 460h1v1h-1zM122 459h1v1h-1zM123 458h1v1h-1zM124 457h1v1h-1zM125 456h1v1h-1zM126 455h1v1h-1zM127 454h1v1h-1zM128 453h1v1h-1zM129 452h1v1h-1zM130 451h1v1h-1zM131 450h1v1h-1zM132 449h1v1h-1zM133 448h1v1h-1zM134 447h1v1h-1zM135 446h1v1h-1zM136 445h1v1h-1z" fill="#ffff00"/>
<line x1="136.90" y1="445.50" x2="136.90" y2="499.00" stroke="#ffff00" stroke-width="1.0" stroke-linecap="square"/>
<path d="M112 522h1v1h-1zM113 521h1v1h-1zM114 520h1v1h-1zM115 519h1v1h-1zM116 518h1v1h-1zM117 517h1v1h-1zM118 516h1v1h-1zM119 515h1v1h-1zM120 514h1v1h-1zM121 513h1v1h-1zM122 512h1v1h-1zM123 511h1v1h-1zM124 511h1v1h-1zM125 510h1v1h-1zM126 509h1v1h-1zM127 508h1v1h-1zM128 507h1v1h-1zM129 506h1v1h-1zM130 505h1v1h-1zM131 504h1v1h-1zM132 503h1v1h-1zM133 502h1v1h-1zM134 501h1v1h-1zM135 500h1v1h-1zM136 499h1v1h-1z" fill="#ffff00"/>
<rect x="203.20" y="365.21" width="4.80" height="3.28" fill="#ffffff"/>
<rect x="204.78" y="366.44" width="1.00" height="1.00" fill="#000"/>
<rect x="203.20" y="365.87" width="1.00" height="1.00" fill="#000"/>
<rect x="203.20" y="369.31" width="4.80" height="3.28" fill="#ffffff"/>
<rect x="205.37" y="370.54" width="1.00" height="1.00" fill="#000"/>
<rect x="203.20" y="369.84" width="1.00" height="1.00" fill="#000"/>
<rect x="203.20" y="373.41" width="4.80" height="3.28" fill="#ffffff"/>
<rect x="205.16" y="374.64" width="1.00" height="1.00" fill="#000"/>
<rect x="203.20" y="374.42" width="1.00" height="1.00" fill="#000"/>
<rect x="203.20" y="377.51" width="4.80" height="3.28" fill="#ffffff"/>
<rect x="204.30" y="378.74" width="1.00" height="1.00" fill="#000"/>
<rect x="203.20" y="378.75" width="1.00" height="1.00" fill="#000"/>
<rect x="203.20" y="381.61" width="4.80" height="3.28" fill="#ffffff"/>
<rect x="204.27" y="382.84" width="1.00" height="1.00" fill="#000"/>
<rect x="203.20" y="382.73" width="1.00" height="1.00" fill="#000"/>
<rect x="131.00" y="448.93" width="5.00" height="3.44" fill="#ffffff"/>
<rect x="132.14" y="450.22" width="1.00" height="1.00" fill="#000"/>
<rect x="131.00" y="449.52" width="1.00" height="1.00" fill="#000"/>
<rect x="131.00" y="453.23" width="5.00" height="3.44" fill="#ffffff"/>
<rect x="132.85" y="454.52" width="1.00" height="1.00" fill="#000"/>
<rect x="131.00" y="455.08" width="1.00" height="1.00" fill="#000"/>
<rect x="131.00" y="457.53" width="5.00" height="3.44" fill="#ffffff"/>
<rect x="132.25" y="458.82" width="1.00" height="1.00" fill="#000"/>
<rect x="131.00" y="458.34" width="1.00" height="1.00" fill="#000"/>
<rect x="131.00" y="461.83" width="5.00" height="3.44" fill="#ffffff"/>
<rect x="133.25" y="463.12" width="1.00" height="1.00" fill="#000"/>
<rect x="131.00" y="463.89" width="1.00" height="1.00" fill="#000"/>
<rect x="131.00" y="466.13" width="5.00" height="3.44" fill="#ffffff"/>
<rect x="133.15" y="467.42" width="1.00" height="1.00" fill="#000"/>
<rect x="131.00" y="467.24" width="1.00" height="1.00" fill="#000"/>
<rect x="649.50" y="283.50" width="45.00" height="22.00" stroke="#ffffff" stroke-width="1.2" fill="none"/>
<path d="M657 274h1v1h-1zM656 275h1v1h-1zM655 276h1v1h-1zM654 277h1v1h-1zM653 278h1v1h-1zM652 279h1v1h-1zM652 280h1v1h-1zM651 281h1v1h-1zM650 282h1v1h-1zM649 283h1v1h-1z" fill="#ffffff"/>
<line x1="657.50" y1="274.20" x2="702.50" y2="274.20" stroke="#ffffff" stroke-width="1.2" stroke-linecap="square"/>
<line x1="702.50" y1="274.20" x2="702.50" y2="296.20" stroke="#ffffff" stroke-width="1.2" stroke-linecap="square"/>
<path d="M702 296h1v1h-1zM701 297h1v1h-1zM700 298h1v1h-1zM699 299h1v1h-1zM698 300h1v1h-1zM697 301h1v1h-1zM697 302h1v1h-1zM696 303h1v1h-1zM695 304h1v1h-1zM694 305h1v1h-1z" fill="#ffffff"/>
<path d="M702 274h1v1h-1zM701 275h1v1h-1zM700 276h1v1h-1zM699 277h1v1h-1zM698 278h1v1h-1zM697 279h1v1h-1zM697 280h1v1h-1zM696 281h1v1h-1zM695 282h1v1h-1zM694 283h1v1h-1z" fill="#ffffff"/>
<rect x="619.50" y="318.50" width="45.00" height="22.00" stroke="#ffffff" stroke-width="1.2" fill="none"/>
<path d="M627 308h1v1h-1zM626 309h1v1h-1zM626 310h1v1h-1zM625 311h1v1h-1zM624 312h1v1h-1zM623 313h1v1h-1zM622 314h1v1h-1zM621 315h1v1h-1zM621 316h1v1h-1zM620 317h1v1h-1zM619 318h1v1h-1z" fill="#ffffff"/>
<line x1="627.50" y1="308.70" x2="672.50" y2="308.70" stroke="#ffffff" stroke-width="1.2" stroke-linecap="square"/>
<line x1="672.50" y1="308.70" x2="672.50" y2="330.70" stroke="#ffffff" stroke-width="1.2" stroke-linecap="square"/>
<path d="M672 330h1v1h-1zM671 331h1v1h-1zM671 332h1v1h-1zM670 333h1v1h-1zM669 334h1v1h-1zM668 335h1v1h-1zM667 336h1v1h-1zM666 337h1v1h-1zM666 338h1v1h-1zM665 339h1v1h-1zM664 340h1v1h-1z" fill="#ffffff"/>
<path d="M672 308h1v1h-1zM671 309h1v1h-1zM671 310h1v1h-1zM670 311h1v1h-1zM669 312h1v1h-1zM668 313h1v1h-1zM667 314h1v1h-1zM666 315h1v1h-1zM666 316h1v1h-1zM665 317h1v1h-1zM664 318h1v1h-1z" fill="#ffffff"/>
<rect x="660.00" y="296.00" width="4.00" height="1.00" fill="#ffffff"/>
<rect x="660.00" y="293.00" width="1.00" height="4.00" fill="#ffffff"/>
<rect x="663.00" y="293.00" width="1.00" height="4.00" fill="#ffffff"/>
<rect x="662.00" y="293.00" width="1.00" height="4.00" fill="#ffffff"/>
<rect x="660.00" y="294.00" width="4.00" height="1.00" fill="#ffffff"/>
<rect x="665.00" y="293.00" width="4.00" height="1.00" fill="#ffffff"/>
<rect x="665.00" y="296.00" width="4.00" height="1.00" fill="#ffffff"/>
<rect x="665.00" y="293.00" width="1.00" height="4.00" fill="#ffffff"/>
<rect x="668.00" y="293.00" width="1.00" height="4.00" fill="#ffffff"/>
<rect x="667.00" y="293.00" width="1.00" height="4.00" fill="#ffffff"/>
<rect x="665.00" y="294.00" width="4.00" height="1.00" fill="#ffffff"/>
<rect x="670.00" y="293.00" width="4.00" height="1.00" fill="#ffffff"/>
<rect x="670.00" y="296.00" width="4.00" height="1.00" fill="#ffffff"/>
<rect x="670.00" y="293.00" width="1.00" height="4.00" fill="#ffffff"/>
<rect x="673.00" y="293.00" width="1.00" height="4.00" fill="#ffffff"/>
<rect x="671.00" y="293.00" width="1.00" height="4.00" fill="#ffffff"/>
<rect x="670.00" y="294.00" width="4.00" height="1.00" fill="#ffffff"/>
<rect x="630.00" y="329.00" width="4.00" height="1.00" fill="#ffffff"/>
<rect x="630.00" y="332.00" width="4.00" height="1.00" fill="#ffffff"/>
<rect x="633.00" y="329.00" width="1.00" height="4.00" fill="#ffffff"/>
<rect x="631.00" y="329.00" width="1.00" height="4.00" fill="#ffffff"/>
<rect x="630.00" y="331.00" width="4.00" height="1.00" fill="#ffffff"/>
<rect x="635.00" y="329.00" width="4.00" height="1.00" fill="#ffffff"/>
<rect x="635.00" y="332.00" width="4.00" height="1.00" fill="#ffffff"/>
<rect x="635.00" y="329.00" width="1.00" height="4.00" fill="#ffffff"/>
<rect x="638.00" y="329.00" width="1.00" height="4.00" fill="#ffffff"/>
<rect x="637.00" y="329.00" width="1.00" height="4.00" fill="#ffffff"/>
<rect x="635.00" y="330.00" width="4.00" height="1.00" fill="#ffffff"/>
<rect x="640.00" y="329.00" width="4.00" height="1.00" fill="#ffffff"/>
<rect x="640.00" y="332.00" width="4.00" height="1.00" fill="#ffffff"/>
<rect x="640.00" y="329.00" width="1.00" height="4.00" fill="#ffffff"/>
<rect x="643.00" y="329.00" width="1.00" height="4.00" fill="#ffffff"/>
<rect x="642.00" y="329.00" width="1.00" height="4.00" fill="#ffffff"/>
<rect x="640.00" y="330.00" width="4.00" height="1.00" fill="#ffffff"/>
<rect x="305.50" y="185.50" width="18.50" height="12.50" stroke="#ff0000" stroke-width="1.2" fill="none"/>
<path d="M310 178h1v1h-1zM309 179h1v1h-1zM309 180h1v1h-1zM308 181h1v1h-1zM307 182h1v1h-1zM306 183h1v1h-1zM306 184h1v1h-1zM305 185h1v1h-1z" fill="#ff0000"/>
<line x1="310.50" y1="178.50" x2="329.00" y2="178.50" stroke="#ff0000" stroke-width="1.2" stroke-linecap="square"/>
<line x1="329.00" y1="178.50" x2="329.00" y2="191.00" stroke="#ff0000" stroke-width="1.2" stroke-linecap="square"/>
<path d="M328 191h1v1h-1zM327 192h1v1h-1zM327 193h1v1h-1zM326 194h1v1h-1zM325 195h1v1h-1zM325 196h1v1h-1zM324 197h1v1h-1z" fill="#ff0000"/>
<path d="M329 178h1v1h-1zM328 179h1v1h-1zM327 180h1v1h-1zM326 181h1v1h-1zM326 182h1v1h-1zM325 183h1v1h-1zM324 184h1v1h-1zM324 185h1v1h-1z" fill="#ff0000"/>
<rect x="335.50" y="186.00" width="18.50" height="12.50" stroke="#ff0000" stroke-width="1.2" fill="none"/>
<path d="M340 179h1v1h-1zM339 180h1v1h-1zM338 181h1v1h-1zM338 182h1v1h-1zM337 183h1v1h-1zM336 184h1v1h-1zM335 185h1v1h-1z" fill="#ff0000"/>
<line x1="340.50" y1="179.00" x2="359.00" y2="179.00" stroke="#ff0000" stroke-width="1.2" stroke-linecap="square"/>
<line x1="359.00" y1="179.00" x2="359.00" y2="191.50" stroke="#ff0000" stroke-width="1.2" stroke-linecap="square"/>
<path d="M359 191h1v1h-1zM358 192h1v1h-1zM357 193h1v1h-1zM356 194h1v1h-1zM356 195h1v1h-1zM355 196h1v1h-1zM354 197h1v1h-1zM354 198h1v1h-1z" fill="#ff0000"/>
<path d="M358 179h1v1h-1zM357 180h1v1h-1zM357 181h1v1h-1zM356 182h1v1h-1zM355 183h1v1h-1zM355 184h1v1h-1zM354 185h1v1h-1z" fill="#ff0000"/>
<rect x="286.00" y="184.00" width="4.00" height="1.00" fill="#ffffff"/>
<rect x="286.00" y="188.00" width="4.00" height="1.00" fill="#ffffff"/>
<rect x="286.00" y="184.00" width="1.00" height="5.00" fill="#ffffff"/>
<rect x="289.00" y="184.00" width="1.00" height="5.00" fill="#ffffff"/>
<rect x="287.00" y="184.00" width="1.00" height="5.00" fill="#ffffff"/>
<rect x="286.00" y="186.00" width="4.00" height="1.00" fill="#ffffff"/>
<rect x="291.00" y="184.00" width="4.00" height="1.00" fill="#ffffff"/>
<rect x="291.00" y="188.00" width="4.00" height="1.00" fill="#ffffff"/>
<rect x="291.00" y="184.00" width="1.00" height="5.00" fill="#ffffff"/>
<rect x="294.00" y="184.00" width="1.00" height="5.00" fill="#ffffff"/>
<rect x="292.00" y="184.00" width="1.00" height="5.00" fill="#ffffff"/>
<rect x="291.00" y="186.00" width="4.00" height="1.00" fill="#ffffff"/>
<rect x="296.00" y="184.00" width="4.00" height="1.00" fill="#ffffff"/>
<rect x="296.00" y="188.00" width="4.00" height="1.00" fill="#ffffff"/>
<rect x="296.00" y="184.00" width="1.00" height="5.00" fill="#ffffff"/>
<rect x="299.00" y="184.00" width="1.00" height="5.00" fill="#ffffff"/>
<rect x="298.00" y="184.00" width="1.00" height="5.00" fill="#ffffff"/>
<rect x="296.00" y="186.00" width="4.00" height="1.00" fill="#ffffff"/>
<rect x="337.00" y="193.00" width="4.00" height="1.00" fill="#ffffff"/>
<rect x="337.00" y="189.00" width="1.00" height="5.00" fill="#ffffff"/>
<rect x="340.00" y="189.00" width="1.00" height="5.00" fill="#ffffff"/>
<rect x="339.00" y="189.00" width="1.00" height="5.00" fill="#ffffff"/>
<rect x="337.00" y="190.00" width="4.00" height="1.00" fill="#ffffff"/>
<rect x="342.00" y="189.00" width="4.00" height="1.00" fill="#ffffff"/>
<rect x="342.00" y="193.00" width="4.00" height="1.00" fill="#ffffff"/>
<rect x="342.00" y="189.00" width="1.00" height="5.00" fill="#ffffff"/>
<rect x="345.00" y="189.00" width="1.00" height="5.00" fill="#ffffff"/>
<rect x="344.00" y="189.00" width="1.00" height="5.00" fill="#ffffff"/>
<rect x="342.00" y="191.00" width="4.00" height="1.00" fill="#ffffff"/>
<rect x="346.00" y="189.00" width="4.00" height="1.00" fill="#ffffff"/>
<rect x="346.00" y="193.00" width="4.00" height="1.00" fill="#ffffff"/>
<rect x="346.00" y="189.00" width="1.00" height="5.00" fill="#ffffff"/>
<rect x="349.00" y="189.00" width="1.00" height="5.00" fill="#ffffff"/>
<rect x="348.00" y="189.00" width="1.00" height="5.00" fill="#ffffff"/>
<rect x="346.00" y="191.00" width="4.00" height="1.00" fill="#ffffff"/>
<rect x="365.60" y="190.30" width="8.60" height="2.60" fill="#ffffff"/>
<rect x="421.00" y="170.00" width="4.00" height="1.00" fill="#ffffff"/>
<rect x="421.00" y="174.00" width="4.00" height="1.00" fill="#ffffff"/>
<rect x="421.00" y="170.00" width="1.00" height="5.00" fill="#ffffff"/>
<rect x="424.00" y="170.00" width="1.00" height="5.00" fill="#ffffff"/>
<rect x="423.00" y="170.00" width="1.00" height="5.00" fill="#ffffff"/>
<rect x="421.00" y="172.00" width="4.00" height="1.00" fill="#ffffff"/>
<rect x="425.00" y="170.00" width="4.00" height="1.00" fill="#ffffff"/>
<rect x="425.00" y="174.00" width="4.00" height="1.00" fill="#ffffff"/>
<rect x="425.00" y="170.00" width="1.00" height="5.00" fill="#ffffff"/>
<rect x="428.00" y="170.00" width="1.00" height="5.00" fill="#ffffff"/>
<rect x="426.00" y="170.00" width="1.00" height="5.00" fill="#ffffff"/>
<rect x="425.00" y="171.00" width="4.00" height="1.00" fill="#ffffff"/>
<rect x="430.00" y="170.00" width="3.00" height="1.00" fill="#ffffff"/>
<rect x="430.00" y="174.00" width="3.00" height="1.00" fill="#ffffff"/>
<rect x="430.00" y="170.00" width="1.00" height="5.00" fill="#ffffff"/>
<rect x="432.00" y="170.00" width="1.00" height="5.00" fill="#ffffff"/>
<rect x="431.00" y="170.00" width="1.00" height="5.00" fill="#ffffff"/>
<rect x="430.00" y="171.00" width="3.00" height="1.00" fill="#ffffff"/>
<rect x="434.00" y="170.00" width="4.00" height="1.00" fill="#ffffff"/>
<rect x="434.00" y="174.00" width="4.00" height="1.00" fill="#ffffff"/>
<rect x="434.00" y="170.00" width="1.00" height="5.00" fill="#ffffff"/>
<rect x="437.00" y="170.00" width="1.00" height="5.00" fill="#ffffff"/>
<rect x="436.00" y="170.00" width="1.00" height="5.00" fill="#ffffff"/>
<rect x="434.00" y="172.00" width="4.00" height="1.00" fill="#ffffff"/>
<rect x="428.30" y="157.30" width="6.40" height="3.60" fill="#ffffff"/>
<rect x="390.90" y="155.00" width="5.10" height="12.00" fill="#ff00ff"/>
<rect x="407.90" y="154.50" width="5.10" height="12.50" fill="#ff00ff"/>
<rect x="395.00" y="153.80" width="2.00" height="1.00" fill="#ff00ff"/>
<rect x="392.50" y="157.50" width="1.50" height="1.20" fill="#000"/>
<rect x="392.50" y="161.50" width="1.50" height="1.20" fill="#000"/>
<rect x="392.00" y="165.00" width="1.50" height="1.20" fill="#000"/>
<rect x="411.00" y="157.00" width="1.20" height="1.20" fill="#000"/>
<rect x="411.00" y="161.00" width="1.20" height="1.20" fill="#000"/>
<rect x="411.00" y="164.50" width="1.20" height="1.20" fill="#000"/>
<polygon points="389.50,177.00 395.50,177.00 395.50,181.00 398.00,181.50 400.70,180.70 401.50,183.00 397.00,187.00 392.00,192.00 389.00,194.50 384.00,194.50 384.00,191.50 388.00,187.00 390.00,183.00" fill="#ff0000"/>
<rect x="394.50" y="182.50" width="1.30" height="1.30" fill="#0000ff"/>
<rect x="391.00" y="187.50" width="1.30" height="1.30" fill="#0000ff"/>
<rect x="386.00" y="192.00" width="1.30" height="1.30" fill="#0000ff"/>
<rect x="390.50" y="178.00" width="1.30" height="1.30" fill="#000"/>
<rect x="393.00" y="178.00" width="1.30" height="1.30" fill="#000"/>
<polygon points="405.70,177.00 411.70,177.00 411.70,181.00 414.20,181.50 416.90,180.70 417.70,183.00 413.20,187.00 408.20,192.00 405.20,194.50 400.20,194.50 400.20,191.50 404.20,187.00 406.20,183.00" fill="#ff0000"/>
<rect x="410.70" y="182.50" width="1.30" height="1.30" fill="#0000ff"/>
<rect x="407.20" y="187.50" width="1.30" height="1.30" fill="#0000ff"/>
<rect x="402.20" y="192.00" width="1.30" height="1.30" fill="#0000ff"/>
<rect x="406.70" y="178.00" width="1.30" height="1.30" fill="#000"/>
<rect x="409.20" y="178.00" width="1.30" height="1.30" fill="#000"/>
<path d="M397 161h1v1h-1zM398 161h1v1h-1zM399 162h1v1h-1zM400 162h1v1h-1zM401 162h1v1h-1z" fill="#ff0000"/>
<path d="M397 163h1v1h-1zM398 163h1v1h-1zM399 162h1v1h-1zM400 162h1v1h-1zM401 162h1v1h-1z" fill="#ff0000"/>
<path d="M397 164h1v1h-1zM398 164h1v1h-1zM399 164h1v1h-1zM400 164h1v1h-1zM401 165h1v1h-1z" fill="#ff0000"/>
<path d="M397 165h1v1h-1zM398 165h1v1h-1zM399 165h1v1h-1zM400 165h1v1h-1zM401 165h1v1h-1z" fill="#ff0000"/>
<path d="M397 166h1v1h-1zM398 166h1v1h-1zM399 167h1v1h-1zM400 167h1v1h-1zM401 167h1v1h-1z" fill="#ff0000"/>
<path d="M397 168h1v1h-1zM398 168h1v1h-1zM399 167h1v1h-1zM400 167h1v1h-1zM401 167h1v1h-1z" fill="#ff0000"/>
<rect x="397.40" y="171.80" width="2.50" height="4.00" fill="#ff0000"/>
<path d="M412 161h1v1h-1zM413 161h1v1h-1zM414 161h1v1h-1zM415 162h1v1h-1zM416 162h1v1h-1z" fill="#ff0000"/>
<path d="M412 163h1v1h-1zM413 163h1v1h-1zM414 163h1v1h-1zM415 162h1v1h-1zM416 162h1v1h-1z" fill="#ff0000"/>
<path d="M412 164h1v1h-1zM413 164h1v1h-1zM414 164h1v1h-1zM415 164h1v1h-1zM416 164h1v1h-1z" fill="#ff0000"/>
<path d="M412 166h1v1h-1zM413 165h1v1h-1zM414 165h1v1h-1zM415 165h1v1h-1zM416 165h1v1h-1z" fill="#ff0000"/>
<path d="M412 166h1v1h-1zM413 166h1v1h-1zM414 166h1v1h-1zM415 167h1v1h-1zM416 167h1v1h-1z" fill="#ff0000"/>
<path d="M412 168h1v1h-1zM413 168h1v1h-1zM414 168h1v1h-1zM415 167h1v1h-1zM416 167h1v1h-1z" fill="#ff0000"/>
<rect x="412.80" y="171.80" width="2.50" height="4.00" fill="#ff0000"/>
<circle cx="326.4" cy="310.4" r="7.3" stroke="#ffffff" stroke-width="1" fill="none"/>
<path d="M322 302h1v1h-1zM323 301h1v1h-1zM324 300h1v1h-1zM325 299h1v1h-1zM326 298h1v1h-1zM327 297h1v1h-1zM328 296h1v1h-1zM329 295h1v1h-1zM330 294h1v1h-1zM331 293h1v1h-1zM332 292h1v1h-1zM333 291h1v1h-1zM334 290h1v1h-1zM335 289h1v1h-1zM336 288h1v1h-1zM337 287h1v1h-1zM338 286h1v1h-1zM339 285h1v1h-1zM340 284h1v1h-1zM341 283h1v1h-1zM342 282h1v1h-1zM343 281h1v1h-1zM344 280h1v1h-1zM345 279h1v1h-1zM346 278h1v1h-1zM347 277h1v1h-1zM348 276h1v1h-1zM349 275h1v1h-1zM350 274h1v1h-1zM351 274h1v1h-1zM352 273h1v1h-1zM353 272h1v1h-1zM354 271h1v1h-1zM355 270h1v1h-1zM356 269h1v1h-1zM357 268h1v1h-1zM358 267h1v1h-1zM359 266h1v1h-1zM360 265h1v1h-1zM361 264h1v1h-1zM362 263h1v1h-1zM363 262h1v1h-1zM364 261h1v1h-1zM365 260h1v1h-1zM366 259h1v1h-1zM367 258h1v1h-1zM368 257h1v1h-1zM369 256h1v1h-1zM370 255h1v1h-1zM371 254h1v1h-1zM372 253h1v1h-1zM373 252h1v1h-1zM374 251h1v1h-1zM375 250h1v1h-1zM376 249h1v1h-1zM377 248h1v1h-1zM378 247h1v1h-1zM379 246h1v1h-1zM380 245h1v1h-1zM381 244h1v1h-1zM382 243h1v1h-1zM383 243h1v1h-1zM384 242h1v1h-1zM385 241h1v1h-1zM386 240h1v1h-1zM387 239h1v1h-1zM388 238h1v1h-1zM389 237h1v1h-1zM390 236h1v1h-1zM391 235h1v1h-1zM392 234h1v1h-1zM393 233h1v1h-1zM394 232h1v1h-1zM395 231h1v1h-1zM396 230h1v1h-1zM397 229h1v1h-1zM398 228h1v1h-1zM399 227h1v1h-1zM400 226h1v1h-1zM401 225h1v1h-1zM402 224h1v1h-1zM403 223h1v1h-1zM404 222h1v1h-1zM405 221h1v1h-1zM406 220h1v1h-1zM407 219h1v1h-1zM408 218h1v1h-1zM409 217h1v1h-1zM410 216h1v1h-1zM411 215h1v1h-1zM412 214h1v1h-1zM413 213h1v1h-1zM414 212h1v1h-1zM415 212h1v1h-1zM416 211h1v1h-1zM417 210h1v1h-1zM418 209h1v1h-1zM419 208h1v1h-1zM420 207h1v1h-1zM421 206h1v1h-1zM422 205h1v1h-1zM423 204h1v1h-1zM424 203h1v1h-1zM425 202h1v1h-1zM426 201h1v1h-1zM427 200h1v1h-1zM428 199h1v1h-1zM429 198h1v1h-1zM430 197h1v1h-1zM431 196h1v1h-1zM432 195h1v1h-1zM433 194h1v1h-1zM434 193h1v1h-1zM435 192h1v1h-1zM436 191h1v1h-1zM437 190h1v1h-1zM438 189h1v1h-1zM439 188h1v1h-1zM440 187h1v1h-1zM441 186h1v1h-1zM442 185h1v1h-1zM443 184h1v1h-1z" fill="#ffffff"/>
<path d="M327 317h1v1h-1zM328 316h1v1h-1zM329 315h1v1h-1zM330 314h1v1h-1zM331 313h1v1h-1zM332 312h1v1h-1zM333 311h1v1h-1zM334 310h1v1h-1zM335 310h1v1h-1zM336 309h1v1h-1zM337 308h1v1h-1zM338 307h1v1h-1zM339 306h1v1h-1zM340 305h1v1h-1zM341 304h1v1h-1zM342 303h1v1h-1zM343 302h1v1h-1zM344 301h1v1h-1zM345 300h1v1h-1zM346 299h1v1h-1zM347 298h1v1h-1zM348 298h1v1h-1zM349 297h1v1h-1zM350 296h1v1h-1zM351 295h1v1h-1zM352 294h1v1h-1zM353 293h1v1h-1zM354 292h1v1h-1zM355 291h1v1h-1zM356 290h1v1h-1zM357 289h1v1h-1zM358 288h1v1h-1zM359 287h1v1h-1zM360 286h1v1h-1zM361 286h1v1h-1zM362 285h1v1h-1zM363 284h1v1h-1zM364 283h1v1h-1zM365 282h1v1h-1zM366 281h1v1h-1zM367 280h1v1h-1zM368 279h1v1h-1zM369 278h1v1h-1zM370 277h1v1h-1zM371 276h1v1h-1zM372 275h1v1h-1zM373 274h1v1h-1zM374 274h1v1h-1zM375 273h1v1h-1zM376 272h1v1h-1zM377 271h1v1h-1zM378 270h1v1h-1zM379 269h1v1h-1z" fill="#ffffff"/>
<path d="M375.3,252.8 C381,247 390,258 380,269" stroke="#ffffff" stroke-width="1" fill="none"/>
<circle cx="399.6" cy="237.2" r="7.3" stroke="#ffffff" stroke-width="1" fill="none"/>
<path d="M406 241h1v1h-1zM407 240h1v1h-1zM408 239h1v1h-1zM409 238h1v1h-1zM410 237h1v1h-1zM411 236h1v1h-1zM412 235h1v1h-1zM413 234h1v1h-1zM414 233h1v1h-1zM415 232h1v1h-1zM416 231h1v1h-1zM417 230h1v1h-1zM418 229h1v1h-1zM419 228h1v1h-1zM420 227h1v1h-1zM421 226h1v1h-1zM422 225h1v1h-1zM423 224h1v1h-1zM424 223h1v1h-1zM425 222h1v1h-1zM426 221h1v1h-1zM427 220h1v1h-1zM428 219h1v1h-1zM429 218h1v1h-1zM430 217h1v1h-1zM431 216h1v1h-1zM432 215h1v1h-1zM433 214h1v1h-1zM434 213h1v1h-1zM435 212h1v1h-1zM436 211h1v1h-1zM437 210h1v1h-1zM438 209h1v1h-1zM439 208h1v1h-1zM440 207h1v1h-1zM441 206h1v1h-1zM442 205h1v1h-1zM443 204h1v1h-1zM444 203h1v1h-1zM445 202h1v1h-1zM446 201h1v1h-1zM447 200h1v1h-1zM448 199h1v1h-1z" fill="#ffffff"/>
<path d="M443.8,184.6 C450,180 458,190 448.9,199.4" stroke="#ffffff" stroke-width="1" fill="none"/>
<line x1="368.10" y1="252.00" x2="368.10" y2="244.20" stroke="#ffffff" stroke-width="1.0" stroke-linecap="square"/>
<path d="M368 243h1v1h-1zM369 242h1v1h-1zM370 241h1v1h-1zM371 240h1v1h-1zM372 239h1v1h-1zM373 238h1v1h-1zM374 237h1v1h-1zM375 236h1v1h-1zM376 235h1v1h-1zM377 234h1v1h-1zM378 233h1v1h-1zM379 232h1v1h-1zM380 231h1v1h-1zM381 230h1v1h-1zM382 229h1v1h-1zM383 228h1v1h-1zM384 227h1v1h-1zM385 226h1v1h-1zM386 225h1v1h-1zM387 224h1v1h-1zM388 223h1v1h-1zM389 223h1v1h-1zM390 222h1v1h-1zM391 221h1v1h-1zM392 220h1v1h-1zM393 219h1v1h-1zM394 218h1v1h-1zM395 217h1v1h-1zM396 216h1v1h-1zM397 215h1v1h-1zM398 214h1v1h-1zM399 213h1v1h-1zM400 212h1v1h-1zM401 211h1v1h-1zM402 210h1v1h-1zM403 209h1v1h-1zM404 208h1v1h-1zM405 207h1v1h-1zM406 206h1v1h-1zM407 205h1v1h-1zM408 204h1v1h-1zM409 203h1v1h-1zM410 202h1v1h-1z" fill="#ffffff"/>
<line x1="410.60" y1="202.10" x2="410.60" y2="214.70" stroke="#ffffff" stroke-width="1.0" stroke-linecap="square"/>
<path d="M368 252h1v1h-1zM369 251h1v1h-1zM370 250h1v1h-1zM371 249h1v1h-1zM372 248h1v1h-1zM373 247h1v1h-1zM374 246h1v1h-1zM375 245h1v1h-1zM376 244h1v1h-1zM377 243h1v1h-1zM378 242h1v1h-1zM379 241h1v1h-1zM380 240h1v1h-1zM381 239h1v1h-1zM382 238h1v1h-1zM383 237h1v1h-1zM384 236h1v1h-1zM385 235h1v1h-1zM386 234h1v1h-1zM387 233h1v1h-1zM388 232h1v1h-1zM389 231h1v1h-1zM390 230h1v1h-1zM391 229h1v1h-1zM392 228h1v1h-1zM393 227h1v1h-1zM394 226h1v1h-1zM395 225h1v1h-1zM396 224h1v1h-1zM397 223h1v1h-1zM398 222h1v1h-1zM399 221h1v1h-1zM400 220h1v1h-1zM401 219h1v1h-1zM402 218h1v1h-1zM403 218h1v1h-1zM404 217h1v1h-1zM405 216h1v1h-1zM406 215h1v1h-1zM407 214h1v1h-1zM408 213h1v1h-1zM409 212h1v1h-1zM410 211h1v1h-1z" fill="#ffffff"/>
<path d="M391 238h1v1h-1zM390 239h1v1h-1zM389 240h1v1h-1zM388 241h1v1h-1zM388 242h1v1h-1zM387 243h1v1h-1zM386 244h1v1h-1zM385 245h1v1h-1zM384 246h1v1h-1zM383 247h1v1h-1zM382 248h1v1h-1zM381 249h1v1h-1zM380 250h1v1h-1zM379 251h1v1h-1zM378 252h1v1h-1zM378 253h1v1h-1z" fill="#ff0000"/>
<line x1="372.60" y1="275.70" x2="372.60" y2="284.40" stroke="#ffffff" stroke-width="1.0" stroke-linecap="square"/>
<line x1="342.30" y1="306.00" x2="342.30" y2="314.10" stroke="#ffffff" stroke-width="1.0" stroke-linecap="square"/>
<line x1="442.60" y1="205.70" x2="442.60" y2="211.20" stroke="#ffffff" stroke-width="1.0" stroke-linecap="square"/>
<line x1="415.80" y1="231.30" x2="415.80" y2="240.00" stroke="#ffffff" stroke-width="1.0" stroke-linecap="square"/>
<rect x="345.00" y="275.70" width="5.40" height="3.70" fill="#ffff00"/>
<line x1="345.80" y1="283.80" x2="345.80" y2="286.30" stroke="#ffff00" stroke-width="1.2" stroke-linecap="square"/>
<line x1="345.80" y1="286.30" x2="349.90" y2="286.30" stroke="#ffff00" stroke-width="1.2" stroke-linecap="square"/>
<line x1="349.90" y1="286.30" x2="349.90" y2="283.80" stroke="#ffff00" stroke-width="1.2" stroke-linecap="square"/>
<rect x="351.80" y="269.60" width="4.70" height="3.60" fill="#ffff00"/>
<line x1="351.50" y1="277.70" x2="351.50" y2="280.10" stroke="#ffff00" stroke-width="1.2" stroke-linecap="square"/>
<line x1="351.50" y1="280.10" x2="356.60" y2="280.10" stroke="#ffff00" stroke-width="1.2" stroke-linecap="square"/>
<line x1="356.60" y1="280.10" x2="356.60" y2="277.70" stroke="#ffff00" stroke-width="1.2" stroke-linecap="square"/>
<rect x="359.80" y="260.90" width="4.70" height="4.10" fill="#ffff00"/>
<line x1="360.30" y1="269.00" x2="360.30" y2="271.30" stroke="#ffff00" stroke-width="1.2" stroke-linecap="square"/>
<line x1="360.30" y1="271.30" x2="364.70" y2="271.30" stroke="#ffff00" stroke-width="1.2" stroke-linecap="square"/>
<line x1="364.70" y1="271.30" x2="364.70" y2="269.00" stroke="#ffff00" stroke-width="1.2" stroke-linecap="square"/>
<rect x="367.20" y="254.10" width="4.80" height="4.10" fill="#ffff00"/>
<line x1="369.60" y1="258.00" x2="369.60" y2="263.00" stroke="#ffff00" stroke-width="1.2" stroke-linecap="square"/>
<line x1="367.10" y1="262.20" x2="367.10" y2="265.10" stroke="#ffff00" stroke-width="1.2" stroke-linecap="square"/>
<line x1="367.10" y1="265.10" x2="371.50" y2="265.10" stroke="#ffff00" stroke-width="1.2" stroke-linecap="square"/>
<line x1="371.50" y1="265.10" x2="371.50" y2="262.20" stroke="#ffff00" stroke-width="1.2" stroke-linecap="square"/>
<rect x="332.90" y="289.80" width="4.00" height="3.80" fill="#ffff00"/>
<line x1="335.00" y1="293.00" x2="335.00" y2="298.00" stroke="#ffff00" stroke-width="1.5" stroke-linecap="square"/>
<ellipse cx="335" cy="299.3" rx="2.6" ry="1.6" stroke="#ffff00" stroke-width="1.2" fill="none"/>
<polygon points="337.00,291.00 340.00,288.00 341.00,289.00 339.00,292.00 341.00,294.00 339.00,296.00" fill="#ffff00"/>
<polygon points="342.00,292.00 345.00,288.50 346.00,289.50 343.00,293.00" fill="#ffff00"/>
<rect x="442.10" y="180.90" width="3.90" height="3.50" fill="#ffff00"/>
<line x1="444.00" y1="184.00" x2="444.00" y2="189.00" stroke="#ffff00" stroke-width="1.2" stroke-linecap="square"/>
<ellipse cx="444.6" cy="190.2" rx="1.8" ry="1.3" stroke="#ffff00" stroke-width="1" fill="none"/>
<polygon points="435.40,197.00 439.00,193.50 437.50,192.50 441.00,189.50 443.00,191.50 439.50,194.50 440.50,195.50 437.00,199.50" fill="#ffff00"/>
<rect x="415.20" y="208.20" width="3.80" height="3.60" fill="#ffff00"/>
<line x1="414.40" y1="218.50" x2="419.80" y2="218.50" stroke="#ffff00" stroke-width="1.6" stroke-linecap="square"/>
<rect x="422.40" y="201.10" width="4.60" height="3.50" fill="#ffff00"/>
<path d="M422,209.5 A2.6,1.8 0 0 0 427,209.5" stroke="#ffff00" stroke-width="1.2" fill="none"/>
<rect x="427.40" y="196.00" width="4.60" height="3.80" fill="#ffff00"/>
<line x1="427.90" y1="204.90" x2="427.90" y2="207.10" stroke="#ffff00" stroke-width="1.2" stroke-linecap="square"/>
<line x1="427.90" y1="207.10" x2="431.50" y2="207.10" stroke="#ffff00" stroke-width="1.2" stroke-linecap="square"/>
<line x1="431.50" y1="207.10" x2="431.50" y2="204.90" stroke="#ffff00" stroke-width="1.2" stroke-linecap="square"/>
<rect x="408.90" y="215.00" width="4.20" height="3.60" fill="#ffff00"/>
<line x1="411.00" y1="218.00" x2="411.00" y2="224.00" stroke="#ffff00" stroke-width="1.5" stroke-linecap="square"/>
<line x1="408.50" y1="224.00" x2="413.50" y2="224.00" stroke="#ffff00" stroke-width="1.5" stroke-linecap="square"/>
<line x1="417.10" y1="188.00" x2="417.10" y2="218.50" stroke="#ff0000" stroke-width="2.0" stroke-linecap="square"/>
<line x1="424.50" y1="183.00" x2="424.50" y2="210.00" stroke="#ff0000" stroke-width="1.0" stroke-linecap="square"/>
<line x1="429.50" y1="178.80" x2="429.50" y2="207.00" stroke="#ff0000" stroke-width="1.0" stroke-linecap="square"/>
<polygon points="386.00,229.50 390.00,225.50 391.00,226.50 387.00,230.50" fill="#ffff00"/>
<polygon points="389.00,234.00 393.00,230.00 394.00,231.00 390.00,235.00" fill="#ffff00"/>
<rect x="326.00" y="274.00" width="4.00" height="1.00" fill="#ffff00"/>
<rect x="326.00" y="277.00" width="4.00" height="1.00" fill="#ffff00"/>
<rect x="326.00" y="274.00" width="1.00" height="4.00" fill="#ffff00"/>
<rect x="329.00" y="274.00" width="1.00" height="4.00" fill="#ffff00"/>
<rect x="328.00" y="274.00" width="1.00" height="4.00" fill="#ffff00"/>
<rect x="326.00" y="276.00" width="4.00" height="1.00" fill="#ffff00"/>
<rect x="330.00" y="274.00" width="4.00" height="1.00" fill="#ffff00"/>
<rect x="330.00" y="277.00" width="4.00" height="1.00" fill="#ffff00"/>
<rect x="330.00" y="274.00" width="1.00" height="4.00" fill="#ffff00"/>
<rect x="333.00" y="274.00" width="1.00" height="4.00" fill="#ffff00"/>
<rect x="332.00" y="274.00" width="1.00" height="4.00" fill="#ffff00"/>
<rect x="330.00" y="275.00" width="4.00" height="1.00" fill="#ffff00"/>
<rect x="334.00" y="274.00" width="3.00" height="1.00" fill="#ffff00"/>
<rect x="334.00" y="277.00" width="3.00" height="1.00" fill="#ffff00"/>
<rect x="334.00" y="274.00" width="1.00" height="4.00" fill="#ffff00"/>
<rect x="336.00" y="274.00" width="1.00" height="4.00" fill="#ffff00"/>
<rect x="335.00" y="274.00" width="1.00" height="4.00" fill="#ffff00"/>
<rect x="334.00" y="275.00" width="3.00" height="1.00" fill="#ffff00"/>
<rect x="338.00" y="274.00" width="3.00" height="1.00" fill="#ffff00"/>
<rect x="338.00" y="277.00" width="3.00" height="1.00" fill="#ffff00"/>
<rect x="338.00" y="274.00" width="1.00" height="4.00" fill="#ffff00"/>
<rect x="340.00" y="274.00" width="1.00" height="4.00" fill="#ffff00"/>
<rect x="339.00" y="274.00" width="1.00" height="4.00" fill="#ffff00"/>
<rect x="338.00" y="275.00" width="3.00" height="1.00" fill="#ffff00"/>
<rect x="295.00" y="283.00" width="4.00" height="1.00" fill="#ffff00"/>
<rect x="295.00" y="285.00" width="4.00" height="1.00" fill="#ffff00"/>
<rect x="295.00" y="283.00" width="1.00" height="3.00" fill="#ffff00"/>
<rect x="298.00" y="283.00" width="1.00" height="3.00" fill="#ffff00"/>
<rect x="296.00" y="283.00" width="1.00" height="3.00" fill="#ffff00"/>
<rect x="295.00" y="284.00" width="4.00" height="1.00" fill="#ffff00"/>
<rect x="300.00" y="283.00" width="4.00" height="1.00" fill="#ffff00"/>
<rect x="300.00" y="285.00" width="4.00" height="1.00" fill="#ffff00"/>
<rect x="300.00" y="283.00" width="1.00" height="3.00" fill="#ffff00"/>
<rect x="303.00" y="283.00" width="1.00" height="3.00" fill="#ffff00"/>
<rect x="302.00" y="283.00" width="1.00" height="3.00" fill="#ffff00"/>
<rect x="300.00" y="284.00" width="4.00" height="1.00" fill="#ffff00"/>
<rect x="304.00" y="283.00" width="5.00" height="1.00" fill="#ffff00"/>
<rect x="304.00" y="285.00" width="5.00" height="1.00" fill="#ffff00"/>
<rect x="304.00" y="283.00" width="1.00" height="3.00" fill="#ffff00"/>
<rect x="308.00" y="283.00" width="1.00" height="3.00" fill="#ffff00"/>
<rect x="307.00" y="283.00" width="1.00" height="3.00" fill="#ffff00"/>
<rect x="304.00" y="284.00" width="5.00" height="1.00" fill="#ffff00"/>
<rect x="309.00" y="283.00" width="5.00" height="1.00" fill="#ffff00"/>
<rect x="309.00" y="285.00" width="5.00" height="1.00" fill="#ffff00"/>
<rect x="309.00" y="283.00" width="1.00" height="3.00" fill="#ffff00"/>
<rect x="313.00" y="283.00" width="1.00" height="3.00" fill="#ffff00"/>
<rect x="310.00" y="283.00" width="1.00" height="3.00" fill="#ffff00"/>
<rect x="309.00" y="284.00" width="5.00" height="1.00" fill="#ffff00"/>
<rect x="314.00" y="283.00" width="4.00" height="1.00" fill="#ffff00"/>
<rect x="314.00" y="283.00" width="1.00" height="3.00" fill="#ffff00"/>
<rect x="317.00" y="283.00" width="1.00" height="3.00" fill="#ffff00"/>
<rect x="315.00" y="283.00" width="1.00" height="3.00" fill="#ffff00"/>
<rect x="314.00" y="284.00" width="4.00" height="1.00" fill="#ffff00"/>
<rect x="319.00" y="283.00" width="4.00" height="1.00" fill="#ffff00"/>
<rect x="319.00" y="285.00" width="4.00" height="1.00" fill="#ffff00"/>
<rect x="322.00" y="283.00" width="1.00" height="3.00" fill="#ffff00"/>
<rect x="320.00" y="283.00" width="1.00" height="3.00" fill="#ffff00"/>
<rect x="319.00" y="284.00" width="4.00" height="1.00" fill="#ffff00"/>
<path d="M323 286h1v1h-1zM324 287h1v1h-1zM325 288h1v1h-1zM326 289h1v1h-1zM327 290h1v1h-1zM328 291h1v1h-1zM329 292h1v1h-1zM330 293h1v1h-1zM331 294h1v1h-1zM332 295h1v1h-1z" fill="#ffff00"/>
<rect x="335.00" y="226.00" width="5.00" height="1.00" fill="#ffffff"/>
<rect x="335.00" y="229.00" width="5.00" height="1.00" fill="#ffffff"/>
<rect x="335.00" y="226.00" width="1.00" height="4.00" fill="#ffffff"/>
<rect x="339.00" y="226.00" width="1.00" height="4.00" fill="#ffffff"/>
<rect x="337.00" y="226.00" width="1.00" height="4.00" fill="#ffffff"/>
<rect x="335.00" y="227.00" width="5.00" height="1.00" fill="#ffffff"/>
<rect x="341.00" y="229.00" width="4.00" height="1.00" fill="#ffffff"/>
<rect x="341.00" y="226.00" width="1.00" height="4.00" fill="#ffffff"/>
<rect x="344.00" y="226.00" width="1.00" height="4.00" fill="#ffffff"/>
<rect x="342.00" y="226.00" width="1.00" height="4.00" fill="#ffffff"/>
<rect x="341.00" y="228.00" width="4.00" height="1.00" fill="#ffffff"/>
<rect x="346.00" y="226.00" width="5.00" height="1.00" fill="#ffffff"/>
<rect x="346.00" y="229.00" width="5.00" height="1.00" fill="#ffffff"/>
<rect x="346.00" y="226.00" width="1.00" height="4.00" fill="#ffffff"/>
<rect x="350.00" y="226.00" width="1.00" height="4.00" fill="#ffffff"/>
<rect x="348.00" y="226.00" width="1.00" height="4.00" fill="#ffffff"/>
<rect x="346.00" y="227.00" width="5.00" height="1.00" fill="#ffffff"/>
<g transform="rotate(-53.0 526.40 149.85)"><rect x="520.28" y="147.65" width="2.53" height="4.40" fill="#ffffff"/><rect x="521.19" y="149.35" width="0.80" height="1" fill="#000"/><rect x="523.44" y="147.65" width="2.53" height="4.40" fill="#ffffff"/><rect x="524.35" y="149.35" width="0.80" height="1" fill="#000"/><rect x="526.60" y="147.65" width="2.53" height="4.40" fill="#ffffff"/><rect x="527.51" y="149.35" width="0.80" height="1" fill="#000"/><rect x="529.76" y="147.65" width="2.53" height="4.40" fill="#ffffff"/><rect x="530.67" y="149.35" width="0.80" height="1" fill="#000"/></g>
<path d="M534 144h1v1h-1zM533 145h1v1h-1zM533 146h1v1h-1zM532 147h1v1h-1zM531 148h1v1h-1zM530 149h1v1h-1zM529 150h1v1h-1zM528 151h1v1h-1zM527 152h1v1h-1zM526 153h1v1h-1zM526 154h1v1h-1zM525 155h1v1h-1zM524 156h1v1h-1zM523 157h1v1h-1zM522 158h1v1h-1z" fill="#00ff00"/>
<line x1="522.30" y1="158.70" x2="528.80" y2="158.70" stroke="#00ff00" stroke-width="1.0" stroke-linecap="square"/>
<path d="M527 153h1v1h-1zM527 154h1v1h-1zM527 155h1v1h-1zM528 156h1v1h-1zM528 157h1v1h-1zM528 158h1v1h-1z" fill="#00ff00"/>
<g transform="rotate(-42.6 562.45 166.75)"><rect x="555.79" y="164.55" width="2.75" height="4.40" fill="#ffffff"/><rect x="556.79" y="166.25" width="0.86" height="1" fill="#000"/><rect x="559.22" y="164.55" width="2.75" height="4.40" fill="#ffffff"/><rect x="560.22" y="166.25" width="0.86" height="1" fill="#000"/><rect x="562.65" y="164.55" width="2.75" height="4.40" fill="#ffffff"/><rect x="563.65" y="166.25" width="0.86" height="1" fill="#000"/><rect x="566.08" y="164.55" width="2.75" height="4.40" fill="#ffffff"/><rect x="567.08" y="166.25" width="0.86" height="1" fill="#000"/></g>
<path d="M570 161h1v1h-1zM569 162h1v1h-1zM568 163h1v1h-1zM568 164h1v1h-1zM567 165h1v1h-1zM566 166h1v1h-1zM565 167h1v1h-1zM564 168h1v1h-1zM563 169h1v1h-1zM562 170h1v1h-1zM561 171h1v1h-1zM560 172h1v1h-1zM559 173h1v1h-1zM558 174h1v1h-1zM557 175h1v1h-1z" fill="#00ff00"/>
<line x1="557.90" y1="175.30" x2="564.40" y2="175.30" stroke="#00ff00" stroke-width="1.0" stroke-linecap="square"/>
<path d="M562 169h1v1h-1zM563 170h1v1h-1zM563 171h1v1h-1zM563 172h1v1h-1zM563 173h1v1h-1zM564 174h1v1h-1zM564 175h1v1h-1z" fill="#00ff00"/>
<g transform="rotate(-49.5 601.55 201.25)"><rect x="594.59" y="199.05" width="2.87" height="4.40" fill="#ffffff"/><rect x="595.64" y="200.75" width="0.90" height="1" fill="#000"/><rect x="598.17" y="199.05" width="2.87" height="4.40" fill="#ffffff"/><rect x="599.22" y="200.75" width="0.90" height="1" fill="#000"/><rect x="601.75" y="199.05" width="2.87" height="4.40" fill="#ffffff"/><rect x="602.80" y="200.75" width="0.90" height="1" fill="#000"/><rect x="605.33" y="199.05" width="2.87" height="4.40" fill="#ffffff"/><rect x="606.39" y="200.75" width="0.90" height="1" fill="#000"/></g>
<path d="M610 195h1v1h-1zM609 196h1v1h-1zM608 197h1v1h-1zM607 198h1v1h-1zM606 199h1v1h-1zM605 200h1v1h-1zM604 201h1v1h-1zM603 202h1v1h-1zM602 203h1v1h-1zM601 204h1v1h-1zM600 205h1v1h-1zM599 206h1v1h-1zM598 207h1v1h-1zM597 208h1v1h-1z" fill="#00ff00"/>
<line x1="597.40" y1="208.90" x2="603.90" y2="208.90" stroke="#00ff00" stroke-width="1.0" stroke-linecap="square"/>
<path d="M602 203h1v1h-1zM602 204h1v1h-1zM603 205h1v1h-1zM603 206h1v1h-1zM603 207h1v1h-1zM603 208h1v1h-1z" fill="#00ff00"/>
<g transform="rotate(-49.8 611.65 212.20)"><rect x="604.65" y="210.00" width="2.88" height="4.40" fill="#ffffff"/><rect x="605.71" y="211.70" width="0.90" height="1" fill="#000"/><rect x="608.25" y="210.00" width="2.88" height="4.40" fill="#ffffff"/><rect x="609.31" y="211.70" width="0.90" height="1" fill="#000"/><rect x="611.85" y="210.00" width="2.88" height="4.40" fill="#ffffff"/><rect x="612.91" y="211.70" width="0.90" height="1" fill="#000"/><rect x="615.45" y="210.00" width="2.88" height="4.40" fill="#ffffff"/><rect x="616.51" y="211.70" width="0.90" height="1" fill="#000"/></g>
<path d="M621 205h1v1h-1zM620 206h1v1h-1zM619 207h1v1h-1zM618 208h1v1h-1zM617 209h1v1h-1zM616 210h1v1h-1zM615 211h1v1h-1zM614 212h1v1h-1zM613 213h1v1h-1zM612 214h1v1h-1zM611 215h1v1h-1zM610 216h1v1h-1zM609 217h1v1h-1zM608 218h1v1h-1zM607 219h1v1h-1z" fill="#00ff00"/>
<line x1="607.50" y1="219.50" x2="614.00" y2="219.50" stroke="#00ff00" stroke-width="1.0" stroke-linecap="square"/>
<path d="M612 214h1v1h-1zM612 215h1v1h-1zM613 216h1v1h-1zM613 217h1v1h-1zM613 218h1v1h-1zM614 219h1v1h-1z" fill="#00ff00"/>
<g transform="rotate(-45.0 452.95 274.05)"><rect x="446.01" y="271.85" width="2.86" height="4.40" fill="#ffffff"/><rect x="447.06" y="273.55" width="0.89" height="1" fill="#000"/><rect x="449.58" y="271.85" width="2.86" height="4.40" fill="#ffffff"/><rect x="450.63" y="273.55" width="0.89" height="1" fill="#000"/><rect x="453.15" y="271.85" width="2.86" height="4.40" fill="#ffffff"/><rect x="454.20" y="273.55" width="0.89" height="1" fill="#000"/><rect x="456.72" y="271.85" width="2.86" height="4.40" fill="#ffffff"/><rect x="457.77" y="273.55" width="0.89" height="1" fill="#000"/></g>
<path d="M448 280h1v1h-1zM449 279h1v1h-1zM450 278h1v1h-1zM451 277h1v1h-1zM452 276h1v1h-1zM453 275h1v1h-1zM454 274h1v1h-1zM455 273h1v1h-1zM456 272h1v1h-1zM457 271h1v1h-1zM458 270h1v1h-1zM459 270h1v1h-1zM460 269h1v1h-1zM461 268h1v1h-1z" fill="#00ff00"/>
<line x1="448.40" y1="280.50" x2="454.90" y2="280.50" stroke="#00ff00" stroke-width="1.0" stroke-linecap="square"/>
<path d="M453 275h1v1h-1zM453 276h1v1h-1zM454 277h1v1h-1zM454 278h1v1h-1zM454 279h1v1h-1zM454 280h1v1h-1z" fill="#00ff00"/>
<g transform="rotate(-50.0 516.35 274.65)"><rect x="509.31" y="272.45" width="2.90" height="4.40" fill="#ffffff"/><rect x="510.38" y="274.15" width="0.91" height="1" fill="#000"/><rect x="512.93" y="272.45" width="2.90" height="4.40" fill="#ffffff"/><rect x="514.00" y="274.15" width="0.91" height="1" fill="#000"/><rect x="516.55" y="272.45" width="2.90" height="4.40" fill="#ffffff"/><rect x="517.62" y="274.15" width="0.91" height="1" fill="#000"/><rect x="520.17" y="272.45" width="2.90" height="4.40" fill="#ffffff"/><rect x="521.24" y="274.15" width="0.91" height="1" fill="#000"/></g>
<path d="M512 281h1v1h-1zM513 280h1v1h-1zM514 279h1v1h-1zM515 278h1v1h-1zM516 277h1v1h-1zM517 276h1v1h-1zM518 275h1v1h-1zM519 274h1v1h-1zM520 273h1v1h-1zM521 272h1v1h-1zM522 272h1v1h-1zM523 271h1v1h-1zM524 270h1v1h-1zM525 269h1v1h-1zM526 268h1v1h-1z" fill="#00ff00"/>
<line x1="512.20" y1="281.50" x2="518.70" y2="281.50" stroke="#00ff00" stroke-width="1.0" stroke-linecap="square"/>
<path d="M517 276h1v1h-1zM517 277h1v1h-1zM517 278h1v1h-1zM518 279h1v1h-1zM518 280h1v1h-1zM518 281h1v1h-1z" fill="#00ff00"/>
<g transform="rotate(-50.7 489.60 322.05)"><rect x="482.37" y="319.85" width="2.97" height="4.40" fill="#ffffff"/><rect x="483.47" y="321.55" width="0.93" height="1" fill="#000"/><rect x="486.09" y="319.85" width="2.97" height="4.40" fill="#ffffff"/><rect x="487.19" y="321.55" width="0.93" height="1" fill="#000"/><rect x="489.80" y="319.85" width="2.97" height="4.40" fill="#ffffff"/><rect x="490.90" y="321.55" width="0.93" height="1" fill="#000"/><rect x="493.51" y="319.85" width="2.97" height="4.40" fill="#ffffff"/><rect x="494.61" y="321.55" width="0.93" height="1" fill="#000"/></g>
<path d="M485 328h1v1h-1zM486 327h1v1h-1zM487 326h1v1h-1zM488 326h1v1h-1zM489 325h1v1h-1zM490 324h1v1h-1zM491 323h1v1h-1zM492 322h1v1h-1zM493 321h1v1h-1zM494 320h1v1h-1zM495 319h1v1h-1zM496 318h1v1h-1zM497 317h1v1h-1zM498 316h1v1h-1z" fill="#00ff00"/>
<line x1="485.40" y1="329.00" x2="491.90" y2="329.00" stroke="#00ff00" stroke-width="1.0" stroke-linecap="square"/>
<path d="M490 324h1v1h-1zM490 325h1v1h-1zM491 326h1v1h-1zM491 327h1v1h-1zM491 328h1v1h-1z" fill="#00ff00"/>
<g transform="rotate(-49.9 251.25 369.30)"><rect x="242.83" y="367.10" width="3.45" height="4.40" fill="#ffffff"/><rect x="244.14" y="368.80" width="1.08" height="1" fill="#000"/><rect x="247.14" y="367.10" width="3.45" height="4.40" fill="#ffffff"/><rect x="248.45" y="368.80" width="1.08" height="1" fill="#000"/><rect x="251.45" y="367.10" width="3.45" height="4.40" fill="#ffffff"/><rect x="252.76" y="368.80" width="1.08" height="1" fill="#000"/><rect x="255.76" y="367.10" width="3.45" height="4.40" fill="#ffffff"/><rect x="257.07" y="368.80" width="1.08" height="1" fill="#000"/></g>
<path d="M246 376h1v1h-1zM247 375h1v1h-1zM248 374h1v1h-1zM249 373h1v1h-1zM250 372h1v1h-1zM251 371h1v1h-1zM252 370h1v1h-1zM253 369h1v1h-1zM254 368h1v1h-1zM255 367h1v1h-1zM256 366h1v1h-1zM257 365h1v1h-1zM258 364h1v1h-1zM259 363h1v1h-1zM260 363h1v1h-1z" fill="#00ff00"/>
<line x1="246.20" y1="377.00" x2="252.70" y2="377.00" stroke="#00ff00" stroke-width="1.0" stroke-linecap="square"/>
<path d="M251 371h1v1h-1zM251 372h1v1h-1zM251 373h1v1h-1zM252 374h1v1h-1zM252 375h1v1h-1zM252 376h1v1h-1z" fill="#00ff00"/>
<g transform="rotate(-47.5 301.75 375.85)"><rect x="293.74" y="373.65" width="3.28" height="4.40" fill="#ffffff"/><rect x="294.98" y="375.35" width="1.03" height="1" fill="#000"/><rect x="297.84" y="373.65" width="3.28" height="4.40" fill="#ffffff"/><rect x="299.08" y="375.35" width="1.03" height="1" fill="#000"/><rect x="301.95" y="373.65" width="3.28" height="4.40" fill="#ffffff"/><rect x="303.19" y="375.35" width="1.03" height="1" fill="#000"/><rect x="306.06" y="373.65" width="3.28" height="4.40" fill="#ffffff"/><rect x="307.29" y="375.35" width="1.03" height="1" fill="#000"/></g>
<path d="M296 383h1v1h-1zM297 382h1v1h-1zM298 381h1v1h-1zM299 380h1v1h-1zM300 379h1v1h-1zM301 378h1v1h-1zM302 378h1v1h-1zM303 377h1v1h-1zM304 376h1v1h-1zM305 375h1v1h-1zM306 374h1v1h-1zM307 373h1v1h-1zM308 373h1v1h-1zM309 372h1v1h-1zM310 371h1v1h-1zM311 370h1v1h-1z" fill="#00ff00"/>
<line x1="296.70" y1="383.00" x2="303.20" y2="383.00" stroke="#00ff00" stroke-width="1.0" stroke-linecap="square"/>
<path d="M302 378h1v1h-1zM302 379h1v1h-1zM302 380h1v1h-1zM302 381h1v1h-1zM303 382h1v1h-1z" fill="#00ff00"/>
<g transform="rotate(-47.7 350.75 376.35)"><rect x="343.45" y="374.15" width="3.00" height="4.40" fill="#ffffff"/><rect x="344.56" y="375.85" width="0.94" height="1" fill="#000"/><rect x="347.20" y="374.15" width="3.00" height="4.40" fill="#ffffff"/><rect x="348.31" y="375.85" width="0.94" height="1" fill="#000"/><rect x="350.95" y="374.15" width="3.00" height="4.40" fill="#ffffff"/><rect x="352.06" y="375.85" width="0.94" height="1" fill="#000"/><rect x="354.70" y="374.15" width="3.00" height="4.40" fill="#ffffff"/><rect x="355.81" y="375.85" width="0.94" height="1" fill="#000"/></g>
<path d="M346 382h1v1h-1zM347 381h1v1h-1zM348 380h1v1h-1zM349 380h1v1h-1zM350 379h1v1h-1zM351 378h1v1h-1zM352 377h1v1h-1zM353 376h1v1h-1zM354 375h1v1h-1zM355 374h1v1h-1zM356 373h1v1h-1zM357 372h1v1h-1zM358 371h1v1h-1zM359 371h1v1h-1zM360 370h1v1h-1z" fill="#00ff00"/>
<line x1="346.20" y1="383.00" x2="352.70" y2="383.00" stroke="#00ff00" stroke-width="1.0" stroke-linecap="square"/>
<path d="M351 378h1v1h-1zM351 379h1v1h-1zM352 380h1v1h-1zM352 381h1v1h-1zM352 382h1v1h-1z" fill="#00ff00"/>
<g transform="rotate(-46.9 443.95 222.70)"><rect x="436.76" y="220.50" width="2.96" height="4.40" fill="#ffffff"/><rect x="437.85" y="222.20" width="0.92" height="1" fill="#000"/><rect x="440.45" y="220.50" width="2.96" height="4.40" fill="#ffffff"/><rect x="441.55" y="222.20" width="0.92" height="1" fill="#000"/><rect x="444.15" y="220.50" width="2.96" height="4.40" fill="#ffffff"/><rect x="445.24" y="222.20" width="0.92" height="1" fill="#000"/><rect x="447.85" y="220.50" width="2.96" height="4.40" fill="#ffffff"/><rect x="448.94" y="222.20" width="0.92" height="1" fill="#000"/></g>
<path d="M452 217h1v1h-1zM451 218h1v1h-1zM450 219h1v1h-1zM449 220h1v1h-1zM448 221h1v1h-1zM447 222h1v1h-1zM446 223h1v1h-1zM445 224h1v1h-1zM444 225h1v1h-1zM444 226h1v1h-1zM443 227h1v1h-1zM442 228h1v1h-1zM441 229h1v1h-1zM440 230h1v1h-1z" fill="#00ff00"/>
<line x1="440.10" y1="230.60" x2="446.60" y2="230.60" stroke="#00ff00" stroke-width="1.0" stroke-linecap="square"/>
<path d="M444 225h1v1h-1zM445 226h1v1h-1zM445 227h1v1h-1zM445 228h1v1h-1zM446 229h1v1h-1zM446 230h1v1h-1z" fill="#00ff00"/>
<line x1="345.10" y1="315.30" x2="363.30" y2="315.30" stroke="#00ff00" stroke-width="1.0" stroke-linecap="square"/>
<path d="M345 315h1v1h-1zM346 316h1v1h-1zM347 317h1v1h-1zM348 318h1v1h-1zM348 319h1v1h-1z" fill="#00ff00"/>
<path d="M352 315h1v1h-1zM352 316h1v1h-1zM351 317h1v1h-1zM350 318h1v1h-1zM349 319h1v1h-1z" fill="#00ff00"/>
<rect x="348.00" y="311.00" width="4.00" height="1.00" fill="#ffffff"/>
<rect x="348.00" y="314.00" width="4.00" height="1.00" fill="#ffffff"/>
<rect x="348.00" y="311.00" width="1.00" height="4.00" fill="#ffffff"/>
<rect x="351.00" y="311.00" width="1.00" height="4.00" fill="#ffffff"/>
<rect x="349.00" y="311.00" width="1.00" height="4.00" fill="#ffffff"/>
<rect x="348.00" y="312.00" width="4.00" height="1.00" fill="#ffffff"/>
<rect x="352.00" y="311.00" width="4.00" height="1.00" fill="#ffffff"/>
<rect x="352.00" y="314.00" width="4.00" height="1.00" fill="#ffffff"/>
<rect x="352.00" y="311.00" width="1.00" height="4.00" fill="#ffffff"/>
<rect x="353.00" y="311.00" width="1.00" height="4.00" fill="#ffffff"/>
<rect x="352.00" y="312.00" width="4.00" height="1.00" fill="#ffffff"/>
<rect x="356.00" y="314.00" width="4.00" height="1.00" fill="#ffffff"/>
<rect x="356.00" y="311.00" width="1.00" height="4.00" fill="#ffffff"/>
<rect x="359.00" y="311.00" width="1.00" height="4.00" fill="#ffffff"/>
<rect x="357.00" y="311.00" width="1.00" height="4.00" fill="#ffffff"/>
<rect x="356.00" y="312.00" width="4.00" height="1.00" fill="#ffffff"/>
<line x1="62.00" y1="378.20" x2="86.90" y2="378.20" stroke="#00ff00" stroke-width="1.0" stroke-linecap="square"/>
<path d="M62 378h1v1h-1zM63 379h1v1h-1zM64 380h1v1h-1zM65 381h1v1h-1zM66 382h1v1h-1zM67 383h1v1h-1z" fill="#00ff00"/>
<path d="M71 378h1v1h-1zM70 379h1v1h-1zM69 380h1v1h-1zM68 381h1v1h-1zM67 382h1v1h-1zM67 383h1v1h-1z" fill="#00ff00"/>
<rect x="67.00" y="373.00" width="4.00" height="1.00" fill="#ffffff"/>
<rect x="67.00" y="376.00" width="4.00" height="1.00" fill="#ffffff"/>
<rect x="70.00" y="373.00" width="1.00" height="4.00" fill="#ffffff"/>
<rect x="69.00" y="373.00" width="1.00" height="4.00" fill="#ffffff"/>
<rect x="67.00" y="374.00" width="4.00" height="1.00" fill="#ffffff"/>
<rect x="71.00" y="373.00" width="4.00" height="1.00" fill="#ffffff"/>
<rect x="71.00" y="376.00" width="4.00" height="1.00" fill="#ffffff"/>
<rect x="71.00" y="373.00" width="1.00" height="4.00" fill="#ffffff"/>
<rect x="72.00" y="373.00" width="1.00" height="4.00" fill="#ffffff"/>
<rect x="71.00" y="374.00" width="4.00" height="1.00" fill="#ffffff"/>
<rect x="75.00" y="373.00" width="4.00" height="1.00" fill="#ffffff"/>
<rect x="75.00" y="376.00" width="4.00" height="1.00" fill="#ffffff"/>
<rect x="75.00" y="373.00" width="1.00" height="4.00" fill="#ffffff"/>
<rect x="78.00" y="373.00" width="1.00" height="4.00" fill="#ffffff"/>
<rect x="76.00" y="373.00" width="1.00" height="4.00" fill="#ffffff"/>
<rect x="75.00" y="374.00" width="4.00" height="1.00" fill="#ffffff"/>
<circle cx="500.2" cy="320.9" r="1.8" stroke="#ffffff" fill="none"/>
<rect x="779.00" y="266.00" width="6.00" height="1.00" fill="#00ffff"/>
<rect x="779.00" y="271.00" width="6.00" height="1.00" fill="#00ffff"/>
<rect x="779.00" y="266.00" width="1.00" height="6.00" fill="#00ffff"/>
<rect x="784.00" y="266.00" width="1.00" height="6.00" fill="#00ffff"/>
<rect x="781.00" y="266.00" width="1.00" height="6.00" fill="#00ffff"/>
<rect x="779.00" y="268.00" width="6.00" height="1.00" fill="#00ffff"/>
<rect x="779.00" y="270.00" width="6.00" height="1.00" fill="#00ffff"/>
<rect x="786.00" y="266.00" width="6.00" height="1.00" fill="#00ffff"/>
<rect x="786.00" y="271.00" width="6.00" height="1.00" fill="#00ffff"/>
<rect x="786.00" y="266.00" width="1.00" height="6.00" fill="#00ffff"/>
<rect x="791.00" y="266.00" width="1.00" height="6.00" fill="#00ffff"/>
<rect x="788.00" y="266.00" width="1.00" height="6.00" fill="#00ffff"/>
<rect x="786.00" y="269.00" width="6.00" height="1.00" fill="#00ffff"/>
<rect x="786.00" y="270.00" width="6.00" height="1.00" fill="#00ffff"/>
<rect x="787.00" y="266.00" width="1.00" height="6.00" fill="#00ffff"/>
<rect x="792.00" y="266.00" width="6.00" height="1.00" fill="#00ffff"/>
<rect x="792.00" y="271.00" width="6.00" height="1.00" fill="#00ffff"/>
<rect x="792.00" y="266.00" width="1.00" height="6.00" fill="#00ffff"/>
<rect x="797.00" y="266.00" width="1.00" height="6.00" fill="#00ffff"/>
<rect x="794.00" y="266.00" width="1.00" height="6.00" fill="#00ffff"/>
<rect x="792.00" y="268.00" width="6.00" height="1.00" fill="#00ffff"/>
<rect x="792.00" y="270.00" width="6.00" height="1.00" fill="#00ffff"/>
<rect x="799.00" y="266.00" width="6.00" height="1.00" fill="#00ffff"/>
<rect x="799.00" y="271.00" width="6.00" height="1.00" fill="#00ffff"/>
<rect x="799.00" y="266.00" width="1.00" height="6.00" fill="#00ffff"/>
<rect x="804.00" y="266.00" width="1.00" height="6.00" fill="#00ffff"/>
<rect x="802.00" y="266.00" width="1.00" height="6.00" fill="#00ffff"/>
<rect x="799.00" y="268.00" width="6.00" height="1.00" fill="#00ffff"/>
<rect x="799.00" y="270.00" width="6.00" height="1.00" fill="#00ffff"/>
<rect x="800.00" y="266.00" width="1.00" height="6.00" fill="#00ffff"/>
<rect x="764.00" y="278.00" width="5.00" height="1.00" fill="#00ffff"/>
<rect x="764.00" y="281.00" width="5.00" height="1.00" fill="#00ffff"/>
<rect x="768.00" y="278.00" width="1.00" height="4.00" fill="#00ffff"/>
<rect x="766.00" y="278.00" width="1.00" height="4.00" fill="#00ffff"/>
<rect x="764.00" y="280.00" width="5.00" height="1.00" fill="#00ffff"/>
<rect x="770.00" y="278.00" width="5.00" height="1.00" fill="#00ffff"/>
<rect x="770.00" y="278.00" width="1.00" height="4.00" fill="#00ffff"/>
<rect x="774.00" y="278.00" width="1.00" height="4.00" fill="#00ffff"/>
<rect x="772.00" y="278.00" width="1.00" height="4.00" fill="#00ffff"/>
<rect x="770.00" y="280.00" width="5.00" height="1.00" fill="#00ffff"/>
<rect x="763.20" y="284.00" width="12.50" height="2.00" fill="#00ffff"/>
<rect x="758.00" y="291.00" width="4.00" height="1.00" fill="#00ffff"/>
<rect x="758.00" y="291.00" width="1.00" height="5.00" fill="#00ffff"/>
<rect x="761.00" y="291.00" width="1.00" height="5.00" fill="#00ffff"/>
<rect x="760.00" y="291.00" width="1.00" height="5.00" fill="#00ffff"/>
<rect x="758.00" y="293.00" width="4.00" height="1.00" fill="#00ffff"/>
<rect x="762.00" y="295.00" width="5.00" height="1.00" fill="#00ffff"/>
<rect x="762.00" y="291.00" width="1.00" height="5.00" fill="#00ffff"/>
<rect x="766.00" y="291.00" width="1.00" height="5.00" fill="#00ffff"/>
<rect x="764.00" y="291.00" width="1.00" height="5.00" fill="#00ffff"/>
<rect x="762.00" y="293.00" width="5.00" height="1.00" fill="#00ffff"/>
<rect x="767.00" y="291.00" width="4.00" height="1.00" fill="#00ffff"/>
<rect x="767.00" y="295.00" width="4.00" height="1.00" fill="#00ffff"/>
<rect x="770.00" y="291.00" width="1.00" height="5.00" fill="#00ffff"/>
<rect x="768.00" y="291.00" width="1.00" height="5.00" fill="#00ffff"/>
<rect x="767.00" y="293.00" width="4.00" height="1.00" fill="#00ffff"/>
<rect x="772.00" y="291.00" width="4.00" height="1.00" fill="#00ffff"/>
<rect x="772.00" y="295.00" width="4.00" height="1.00" fill="#00ffff"/>
<rect x="772.00" y="291.00" width="1.00" height="5.00" fill="#00ffff"/>
<rect x="775.00" y="291.00" width="1.00" height="5.00" fill="#00ffff"/>
<rect x="773.00" y="291.00" width="1.00" height="5.00" fill="#00ffff"/>
<rect x="772.00" y="292.00" width="4.00" height="1.00" fill="#00ffff"/>
<rect x="777.00" y="291.00" width="4.00" height="1.00" fill="#00ffff"/>
<rect x="777.00" y="295.00" width="4.00" height="1.00" fill="#00ffff"/>
<rect x="777.00" y="291.00" width="1.00" height="5.00" fill="#00ffff"/>
<rect x="780.00" y="291.00" width="1.00" height="5.00" fill="#00ffff"/>
<rect x="778.00" y="291.00" width="1.00" height="5.00" fill="#00ffff"/>
<rect x="777.00" y="293.00" width="4.00" height="1.00" fill="#00ffff"/>
<rect x="769.00" y="296.00" width="3.00" height="1.00" fill="#00ffff"/>
<rect x="769.00" y="299.00" width="3.00" height="1.00" fill="#00ffff"/>
<rect x="769.00" y="296.00" width="1.00" height="4.00" fill="#00ffff"/>
<rect x="771.00" y="296.00" width="1.00" height="4.00" fill="#00ffff"/>
<rect x="770.00" y="296.00" width="1.00" height="4.00" fill="#00ffff"/>
<rect x="769.00" y="298.00" width="3.00" height="1.00" fill="#00ffff"/>
<rect x="773.00" y="296.00" width="3.00" height="1.00" fill="#00ffff"/>
<rect x="773.00" y="299.00" width="3.00" height="1.00" fill="#00ffff"/>
<rect x="773.00" y="296.00" width="1.00" height="4.00" fill="#00ffff"/>
<rect x="775.00" y="296.00" width="1.00" height="4.00" fill="#00ffff"/>
<rect x="774.00" y="296.00" width="1.00" height="4.00" fill="#00ffff"/>
<rect x="773.00" y="297.00" width="3.00" height="1.00" fill="#00ffff"/>
<rect x="777.00" y="296.00" width="4.00" height="1.00" fill="#00ffff"/>
<rect x="777.00" y="299.00" width="4.00" height="1.00" fill="#00ffff"/>
<rect x="777.00" y="296.00" width="1.00" height="4.00" fill="#00ffff"/>
<rect x="780.00" y="296.00" width="1.00" height="4.00" fill="#00ffff"/>
<rect x="778.00" y="296.00" width="1.00" height="4.00" fill="#00ffff"/>
<rect x="777.00" y="297.00" width="4.00" height="1.00" fill="#00ffff"/>
<rect x="764.00" y="306.00" width="5.00" height="1.00" fill="#00ffff"/>
<rect x="764.00" y="308.00" width="5.00" height="1.00" fill="#00ffff"/>
<rect x="764.00" y="306.00" width="1.00" height="3.00" fill="#00ffff"/>
<rect x="768.00" y="306.00" width="1.00" height="3.00" fill="#00ffff"/>
<rect x="765.00" y="306.00" width="1.00" height="3.00" fill="#00ffff"/>
<rect x="764.00" y="307.00" width="5.00" height="1.00" fill="#00ffff"/>
<rect x="770.00" y="306.00" width="5.00" height="1.00" fill="#00ffff"/>
<rect x="770.00" y="308.00" width="5.00" height="1.00" fill="#00ffff"/>
<rect x="770.00" y="306.00" width="1.00" height="3.00" fill="#00ffff"/>
<rect x="774.00" y="306.00" width="1.00" height="3.00" fill="#00ffff"/>
<rect x="772.00" y="306.00" width="1.00" height="3.00" fill="#00ffff"/>
<rect x="770.00" y="307.00" width="5.00" height="1.00" fill="#00ffff"/>
<rect x="763.20" y="309.50" width="12.50" height="2.20" fill="#00ffff"/>
<rect x="782.00" y="306.00" width="5.00" height="1.00" fill="#00ffff"/>
<rect x="782.00" y="306.00" width="1.00" height="5.00" fill="#00ffff"/>
<rect x="786.00" y="306.00" width="1.00" height="5.00" fill="#00ffff"/>
<rect x="784.00" y="306.00" width="1.00" height="5.00" fill="#00ffff"/>
<rect x="782.00" y="307.00" width="5.00" height="1.00" fill="#00ffff"/>
<rect x="787.00" y="306.00" width="5.00" height="1.00" fill="#00ffff"/>
<rect x="787.00" y="310.00" width="5.00" height="1.00" fill="#00ffff"/>
<rect x="787.00" y="306.00" width="1.00" height="5.00" fill="#00ffff"/>
<rect x="789.00" y="306.00" width="1.00" height="5.00" fill="#00ffff"/>
<rect x="787.00" y="307.00" width="5.00" height="1.00" fill="#00ffff"/>
<rect x="793.00" y="306.00" width="5.00" height="1.00" fill="#00ffff"/>
<rect x="793.00" y="310.00" width="5.00" height="1.00" fill="#00ffff"/>
<rect x="793.00" y="306.00" width="1.00" height="5.00" fill="#00ffff"/>
<rect x="797.00" y="306.00" width="1.00" height="5.00" fill="#00ffff"/>
<rect x="795.00" y="306.00" width="1.00" height="5.00" fill="#00ffff"/>
<rect x="793.00" y="308.00" width="5.00" height="1.00" fill="#00ffff"/>
<rect x="764.00" y="318.00" width="5.00" height="1.00" fill="#00ffff"/>
<rect x="764.00" y="321.00" width="5.00" height="1.00" fill="#00ffff"/>
<rect x="764.00" y="318.00" width="1.00" height="4.00" fill="#00ffff"/>
<rect x="768.00" y="318.00" width="1.00" height="4.00" fill="#00ffff"/>
<rect x="765.00" y="318.00" width="1.00" height="4.00" fill="#00ffff"/>
<rect x="764.00" y="320.00" width="5.00" height="1.00" fill="#00ffff"/>
<rect x="770.00" y="318.00" width="5.00" height="1.00" fill="#00ffff"/>
<rect x="770.00" y="321.00" width="5.00" height="1.00" fill="#00ffff"/>
<rect x="770.00" y="318.00" width="1.00" height="4.00" fill="#00ffff"/>
<rect x="774.00" y="318.00" width="1.00" height="4.00" fill="#00ffff"/>
<rect x="772.00" y="318.00" width="1.00" height="4.00" fill="#00ffff"/>
<rect x="770.00" y="320.00" width="5.00" height="1.00" fill="#00ffff"/>
<rect x="766.00" y="321.50" width="7.00" height="5.50" fill="#00ffff"/>
<rect x="782.00" y="336.00" width="5.00" height="1.00" fill="#00ffff"/>
<rect x="782.00" y="343.00" width="5.00" height="1.00" fill="#00ffff"/>
<rect x="782.00" y="336.00" width="1.00" height="8.00" fill="#00ffff"/>
<rect x="786.00" y="336.00" width="1.00" height="8.00" fill="#00ffff"/>
<rect x="784.00" y="336.00" width="1.00" height="8.00" fill="#00ffff"/>
<rect x="782.00" y="339.00" width="5.00" height="1.00" fill="#00ffff"/>
<rect x="782.00" y="342.00" width="5.00" height="1.00" fill="#00ffff"/>
<rect x="799.00" y="336.00" width="6.00" height="1.00" fill="#00ffff"/>
<rect x="799.00" y="343.00" width="6.00" height="1.00" fill="#00ffff"/>
<rect x="799.00" y="336.00" width="1.00" height="8.00" fill="#00ffff"/>
<rect x="804.00" y="336.00" width="1.00" height="8.00" fill="#00ffff"/>
<rect x="802.00" y="336.00" width="1.00" height="8.00" fill="#00ffff"/>
<rect x="799.00" y="339.00" width="6.00" height="1.00" fill="#00ffff"/>
<rect x="799.00" y="342.00" width="6.00" height="1.00" fill="#00ffff"/>
<rect x="760.00" y="409.30" width="60.70" height="3.30" fill="#00ffff"/>
<rect x="760.00" y="415.20" width="55.60" height="3.50" fill="#00ffff"/>
<rect x="762.12" y="411.11" width="1.00" height="1.00" fill="#000"/>
<rect x="763.80" y="416.99" width="1.00" height="1.00" fill="#000"/>
<rect x="767.93" y="410.78" width="1.00" height="1.00" fill="#000"/>
<rect x="767.95" y="417.32" width="1.00" height="1.00" fill="#000"/>
<rect x="770.86" y="410.23" width="1.00" height="1.00" fill="#000"/>
<rect x="771.62" y="417.31" width="1.00" height="1.00" fill="#000"/>
<rect x="776.45" y="410.91" width="1.00" height="1.00" fill="#000"/>
<rect x="776.45" y="416.22" width="1.00" height="1.00" fill="#000"/>
<rect x="779.48" y="410.93" width="1.00" height="1.00" fill="#000"/>
<rect x="779.44" y="416.09" width="1.00" height="1.00" fill="#000"/>
<rect x="784.86" y="410.80" width="1.00" height="1.00" fill="#000"/>
<rect x="784.46" y="417.16" width="1.00" height="1.00" fill="#000"/>
<rect x="789.57" y="410.09" width="1.00" height="1.00" fill="#000"/>
<rect x="788.18" y="416.06" width="1.00" height="1.00" fill="#000"/>
<rect x="792.30" y="410.68" width="1.00" height="1.00" fill="#000"/>
<rect x="792.16" y="417.34" width="1.00" height="1.00" fill="#000"/>
<rect x="796.53" y="410.49" width="1.00" height="1.00" fill="#000"/>
<rect x="798.35" y="416.91" width="1.00" height="1.00" fill="#000"/>
<rect x="801.10" y="410.42" width="1.00" height="1.00" fill="#000"/>
<rect x="801.72" y="417.21" width="1.00" height="1.00" fill="#000"/>
<rect x="806.02" y="410.37" width="1.00" height="1.00" fill="#000"/>
<rect x="806.05" y="417.31" width="1.00" height="1.00" fill="#000"/>
<rect x="811.16" y="411.38" width="1.00" height="1.00" fill="#000"/>
<rect x="811.09" y="416.30" width="1.00" height="1.00" fill="#000"/>
<rect x="814.50" y="410.62" width="1.00" height="1.00" fill="#000"/>
<rect x="814.38" y="416.47" width="1.00" height="1.00" fill="#000"/>
<rect x="819.24" y="410.64" width="1.00" height="1.00" fill="#000"/>
<rect x="760.00" y="421.70" width="61.20" height="25.30" fill="#00ffff"/>
<rect x="774.80" y="435.29" width="1.00" height="2.00" fill="#000"/>
<rect x="788.50" y="436.15" width="2.00" height="1.00" fill="#000"/>
<rect x="813.71" y="433.53" width="2.00" height="1.00" fill="#000"/>
<rect x="772.12" y="439.35" width="2.00" height="2.00" fill="#000"/>
<rect x="788.63" y="437.52" width="1.00" height="1.00" fill="#000"/>
<rect x="797.82" y="442.90" width="2.00" height="1.00" fill="#000"/>
<rect x="803.99" y="438.28" width="1.00" height="1.00" fill="#000"/>
<rect x="804.98" y="436.39" width="1.00" height="1.00" fill="#000"/>
<rect x="808.77" y="428.83" width="2.00" height="2.00" fill="#000"/>
<rect x="814.37" y="431.61" width="1.00" height="1.00" fill="#000"/>
<rect x="803.23" y="436.06" width="1.00" height="1.00" fill="#000"/>
<rect x="766.65" y="425.70" width="1.00" height="1.00" fill="#000"/>
<rect x="817.00" y="432.75" width="2.00" height="1.00" fill="#000"/>
<rect x="785.43" y="442.09" width="2.00" height="1.00" fill="#000"/>
<rect x="791.98" y="432.08" width="1.00" height="1.00" fill="#000"/>
<rect x="800.55" y="444.33" width="1.00" height="2.00" fill="#000"/>
<rect x="799.93" y="426.33" width="1.00" height="2.00" fill="#000"/>
<rect x="813.47" y="435.87" width="2.00" height="2.00" fill="#000"/>
<rect x="773.25" y="442.04" width="2.00" height="1.00" fill="#000"/>
<rect x="777.53" y="423.99" width="2.00" height="1.00" fill="#000"/>
<rect x="766.13" y="441.31" width="1.00" height="1.00" fill="#000"/>
<rect x="762.17" y="432.54" width="1.00" height="1.00" fill="#000"/>
<rect x="763.56" y="436.94" width="1.00" height="1.00" fill="#000"/>
<rect x="802.67" y="430.28" width="1.00" height="2.00" fill="#000"/>
<rect x="774.69" y="423.35" width="1.00" height="1.00" fill="#000"/>
<rect x="767.27" y="435.09" width="1.00" height="1.00" fill="#000"/>
<rect x="777.91" y="428.69" width="2.00" height="1.00" fill="#000"/>
<rect x="817.83" y="430.49" width="1.00" height="1.00" fill="#000"/>
<rect x="813.01" y="431.38" width="1.00" height="2.00" fill="#000"/>
<rect x="783.40" y="442.87" width="2.00" height="2.00" fill="#000"/>
<rect x="766.95" y="445.36" width="2.00" height="1.00" fill="#000"/>
<rect x="786.01" y="439.43" width="1.00" height="1.00" fill="#000"/>
<rect x="786.37" y="428.57" width="1.00" height="2.00" fill="#000"/>
<rect x="780.66" y="441.03" width="2.00" height="1.00" fill="#000"/>
<rect x="762.16" y="436.97" width="2.00" height="1.00" fill="#000"/>
<rect x="764.48" y="437.24" width="1.00" height="1.00" fill="#000"/>
<rect x="800.40" y="430.79" width="2.00" height="1.00" fill="#000"/>
<rect x="803.81" y="423.02" width="1.00" height="2.00" fill="#000"/>
<rect x="762.23" y="431.18" width="2.00" height="1.00" fill="#000"/>
<rect x="778.32" y="436.63" width="1.00" height="1.00" fill="#000"/>
<rect x="771.74" y="440.32" width="2.00" height="1.00" fill="#000"/>
<rect x="778.42" y="431.36" width="1.00" height="2.00" fill="#000"/>
<rect x="800.66" y="425.59" width="2.00" height="1.00" fill="#000"/>
<rect x="798.92" y="428.83" width="1.00" height="1.00" fill="#000"/>
<rect x="800.33" y="437.76" width="1.00" height="1.00" fill="#000"/>
<rect x="795.84" y="444.81" width="2.00" height="1.00" fill="#000"/>
<rect x="786.43" y="442.61" width="1.00" height="1.00" fill="#000"/>
<rect x="780.53" y="437.78" width="2.00" height="1.00" fill="#000"/>
<rect x="776.69" y="440.99" width="1.00" height="2.00" fill="#000"/>
<rect x="816.54" y="429.91" width="2.00" height="1.00" fill="#000"/>
<rect x="811.10" y="430.49" width="2.00" height="1.00" fill="#000"/>
<rect x="807.76" y="430.61" width="1.00" height="1.00" fill="#000"/>
<rect x="777.93" y="441.16" width="1.00" height="1.00" fill="#000"/>
<rect x="781.09" y="432.30" width="1.00" height="2.00" fill="#000"/>
<rect x="784.75" y="444.13" width="1.00" height="1.00" fill="#000"/>
<rect x="761.27" y="444.67" width="2.00" height="2.00" fill="#000"/>
<rect x="786.19" y="444.83" width="2.00" height="1.00" fill="#000"/>
<rect x="762.87" y="433.23" width="2.00" height="2.00" fill="#000"/>
<rect x="791.10" y="429.29" width="1.00" height="1.00" fill="#000"/>
<rect x="810.97" y="442.66" width="1.00" height="1.00" fill="#000"/>
<rect x="807.99" y="423.56" width="2.00" height="2.00" fill="#000"/>
<rect x="814.58" y="443.57" width="1.00" height="2.00" fill="#000"/>
<rect x="763.86" y="433.80" width="1.00" height="1.00" fill="#000"/>
<rect x="790.18" y="428.12" width="1.00" height="2.00" fill="#000"/>
<rect x="792.15" y="423.75" width="2.00" height="1.00" fill="#000"/>
<rect x="780.80" y="428.43" width="2.00" height="1.00" fill="#000"/>
<rect x="808.07" y="423.94" width="1.00" height="1.00" fill="#000"/>
<rect x="768.09" y="443.36" width="1.00" height="1.00" fill="#000"/>
<rect x="774.89" y="428.93" width="1.00" height="1.00" fill="#000"/>
<rect x="789.28" y="435.92" width="1.00" height="1.00" fill="#000"/>
<rect x="760.00" y="439.86" width="1.37" height="1.50" fill="#000"/>
<rect x="818.77" y="434.17" width="1.50" height="1.50" fill="#000"/>
<rect x="760.00" y="422.92" width="1.48" height="1.50" fill="#000"/>
<rect x="818.47" y="442.27" width="1.50" height="1.50" fill="#000"/>
<rect x="760.00" y="440.31" width="1.07" height="1.50" fill="#000"/>
<rect x="819.63" y="433.29" width="1.50" height="1.50" fill="#000"/>
<rect x="760.00" y="422.49" width="2.07" height="1.50" fill="#000"/>
<rect x="818.93" y="433.46" width="1.50" height="1.50" fill="#000"/>
<rect x="760.00" y="425.47" width="1.11" height="1.50" fill="#000"/>
<rect x="819.12" y="431.05" width="1.50" height="1.50" fill="#000"/>
<rect x="760.00" y="429.00" width="1.40" height="1.50" fill="#000"/>
<rect x="818.22" y="431.99" width="1.50" height="1.50" fill="#000"/>
<rect x="760.00" y="424.76" width="1.01" height="1.50" fill="#000"/>
<rect x="818.62" y="440.79" width="1.50" height="1.50" fill="#000"/>
<rect x="760.00" y="435.30" width="1.06" height="1.50" fill="#000"/>
<rect x="819.01" y="437.31" width="1.50" height="1.50" fill="#000"/>
<rect x="760.00" y="434.69" width="1.96" height="1.50" fill="#000"/>
<rect x="819.63" y="442.98" width="1.50" height="1.50" fill="#000"/>
<rect x="760.00" y="422.97" width="1.94" height="1.50" fill="#000"/>
<rect x="818.56" y="429.26" width="1.50" height="1.50" fill="#000"/>
<rect x="764.00" y="462.00" width="5.00" height="1.00" fill="#00ffff"/>
<rect x="764.00" y="466.00" width="5.00" height="1.00" fill="#00ffff"/>
<rect x="768.00" y="462.00" width="1.00" height="5.00" fill="#00ffff"/>
<rect x="766.00" y="462.00" width="1.00" height="5.00" fill="#00ffff"/>
<rect x="764.00" y="464.00" width="5.00" height="1.00" fill="#00ffff"/>
<rect x="770.00" y="462.00" width="6.00" height="1.00" fill="#00ffff"/>
<rect x="770.00" y="466.00" width="6.00" height="1.00" fill="#00ffff"/>
<rect x="775.00" y="462.00" width="1.00" height="5.00" fill="#00ffff"/>
<rect x="772.00" y="462.00" width="1.00" height="5.00" fill="#00ffff"/>
<rect x="770.00" y="464.00" width="6.00" height="1.00" fill="#00ffff"/>
<rect x="777.00" y="466.00" width="5.00" height="1.00" fill="#00ffff"/>
<rect x="777.00" y="462.00" width="1.00" height="5.00" fill="#00ffff"/>
<rect x="781.00" y="462.00" width="1.00" height="5.00" fill="#00ffff"/>
<rect x="779.00" y="462.00" width="1.00" height="5.00" fill="#00ffff"/>
<rect x="777.00" y="464.00" width="5.00" height="1.00" fill="#00ffff"/>
<rect x="783.00" y="462.00" width="6.00" height="1.00" fill="#00ffff"/>
<rect x="783.00" y="466.00" width="6.00" height="1.00" fill="#00ffff"/>
<rect x="783.00" y="462.00" width="1.00" height="5.00" fill="#00ffff"/>
<rect x="788.00" y="462.00" width="1.00" height="5.00" fill="#00ffff"/>
<rect x="785.00" y="462.00" width="1.00" height="5.00" fill="#00ffff"/>
<rect x="783.00" y="464.00" width="6.00" height="1.00" fill="#00ffff"/>
<rect x="790.00" y="463.00" width="1.50" height="3.00" fill="#00ffff"/>
<rect x="764.00" y="468.00" width="21.50" height="2.30" fill="#00ffff" opacity="0.8"/>
<rect x="764.00" y="491.00" width="6.00" height="1.00" fill="#00ffff"/>
<rect x="764.00" y="495.00" width="6.00" height="1.00" fill="#00ffff"/>
<rect x="764.00" y="491.00" width="1.00" height="5.00" fill="#00ffff"/>
<rect x="769.00" y="491.00" width="1.00" height="5.00" fill="#00ffff"/>
<rect x="766.00" y="491.00" width="1.00" height="5.00" fill="#00ffff"/>
<rect x="764.00" y="493.00" width="6.00" height="1.00" fill="#00ffff"/>
<rect x="771.00" y="491.00" width="5.00" height="1.00" fill="#00ffff"/>
<rect x="771.00" y="495.00" width="5.00" height="1.00" fill="#00ffff"/>
<rect x="775.00" y="491.00" width="1.00" height="5.00" fill="#00ffff"/>
<rect x="773.00" y="491.00" width="1.00" height="5.00" fill="#00ffff"/>
<rect x="771.00" y="493.00" width="5.00" height="1.00" fill="#00ffff"/>
<rect x="777.00" y="491.00" width="5.00" height="1.00" fill="#00ffff"/>
<rect x="777.00" y="495.00" width="5.00" height="1.00" fill="#00ffff"/>
<rect x="777.00" y="491.00" width="1.00" height="5.00" fill="#00ffff"/>
<rect x="779.00" y="491.00" width="1.00" height="5.00" fill="#00ffff"/>
<rect x="777.00" y="493.00" width="5.00" height="1.00" fill="#00ffff"/>
<rect x="783.00" y="491.00" width="6.00" height="1.00" fill="#00ffff"/>
<rect x="783.00" y="495.00" width="6.00" height="1.00" fill="#00ffff"/>
<rect x="783.00" y="491.00" width="1.00" height="5.00" fill="#00ffff"/>
<rect x="788.00" y="491.00" width="1.00" height="5.00" fill="#00ffff"/>
<rect x="785.00" y="491.00" width="1.00" height="5.00" fill="#00ffff"/>
<rect x="783.00" y="493.00" width="6.00" height="1.00" fill="#00ffff"/>
<rect x="784.00" y="491.00" width="1.00" height="5.00" fill="#00ffff"/>
<rect x="790.00" y="492.00" width="1.50" height="3.00" fill="#00ffff"/>
<rect x="765.00" y="497.10" width="18.60" height="2.50" fill="#00ffff" opacity="0.8"/>
<rect x="765.00" y="509.00" width="6.00" height="1.00" fill="#00ffff"/>
<rect x="765.00" y="505.00" width="1.00" height="5.00" fill="#00ffff"/>
<rect x="770.00" y="505.00" width="1.00" height="5.00" fill="#00ffff"/>
<rect x="767.00" y="505.00" width="1.00" height="5.00" fill="#00ffff"/>
<rect x="765.00" y="506.00" width="6.00" height="1.00" fill="#00ffff"/>
<rect x="773.00" y="505.00" width="5.00" height="1.00" fill="#00ffff"/>
<rect x="773.00" y="509.00" width="5.00" height="1.00" fill="#00ffff"/>
<rect x="773.00" y="505.00" width="1.00" height="5.00" fill="#00ffff"/>
<rect x="777.00" y="505.00" width="1.00" height="5.00" fill="#00ffff"/>
<rect x="775.00" y="505.00" width="1.00" height="5.00" fill="#00ffff"/>
<rect x="773.00" y="507.00" width="5.00" height="1.00" fill="#00ffff"/>
<rect x="765.00" y="510.20" width="8.70" height="2.50" fill="#00ffff" opacity="0.8"/>
<rect x="763.00" y="513.00" width="5.00" height="1.00" fill="#00ffff"/>
<rect x="763.00" y="517.00" width="5.00" height="1.00" fill="#00ffff"/>
<rect x="763.00" y="513.00" width="1.00" height="5.00" fill="#00ffff"/>
<rect x="767.00" y="513.00" width="1.00" height="5.00" fill="#00ffff"/>
<rect x="765.00" y="513.00" width="1.00" height="5.00" fill="#00ffff"/>
<rect x="763.00" y="515.00" width="5.00" height="1.00" fill="#00ffff"/>
<rect x="769.00" y="513.00" width="5.00" height="1.00" fill="#00ffff"/>
<rect x="769.00" y="517.00" width="5.00" height="1.00" fill="#00ffff"/>
<rect x="769.00" y="513.00" width="1.00" height="5.00" fill="#00ffff"/>
<rect x="773.00" y="513.00" width="1.00" height="5.00" fill="#00ffff"/>
<rect x="771.00" y="513.00" width="1.00" height="5.00" fill="#00ffff"/>
<rect x="769.00" y="514.00" width="5.00" height="1.00" fill="#00ffff"/>
<rect x="775.00" y="513.00" width="5.00" height="1.00" fill="#00ffff"/>
<rect x="775.00" y="513.00" width="1.00" height="5.00" fill="#00ffff"/>
<rect x="779.00" y="513.00" width="1.00" height="5.00" fill="#00ffff"/>
<rect x="777.00" y="513.00" width="1.00" height="5.00" fill="#00ffff"/>
<rect x="775.00" y="514.00" width="5.00" height="1.00" fill="#00ffff"/>
<rect x="780.00" y="517.00" width="6.00" height="1.00" fill="#00ffff"/>
<rect x="780.00" y="513.00" width="1.00" height="5.00" fill="#00ffff"/>
<rect x="785.00" y="513.00" width="1.00" height="5.00" fill="#00ffff"/>
<rect x="783.00" y="513.00" width="1.00" height="5.00" fill="#00ffff"/>
<rect x="780.00" y="514.00" width="6.00" height="1.00" fill="#00ffff"/>
<rect x="786.00" y="513.00" width="6.00" height="1.00" fill="#00ffff"/>
<rect x="786.00" y="517.00" width="6.00" height="1.00" fill="#00ffff"/>
<rect x="791.00" y="513.00" width="1.00" height="5.00" fill="#00ffff"/>
<rect x="789.00" y="513.00" width="1.00" height="5.00" fill="#00ffff"/>
<rect x="786.00" y="515.00" width="6.00" height="1.00" fill="#00ffff"/>
<rect x="787.00" y="513.00" width="1.00" height="5.00" fill="#00ffff"/>
<rect x="792.00" y="513.00" width="6.00" height="1.00" fill="#00ffff"/>
<rect x="792.00" y="517.00" width="6.00" height="1.00" fill="#00ffff"/>
<rect x="792.00" y="513.00" width="1.00" height="5.00" fill="#00ffff"/>
<rect x="797.00" y="513.00" width="1.00" height="5.00" fill="#00ffff"/>
<rect x="795.00" y="513.00" width="1.00" height="5.00" fill="#00ffff"/>
<rect x="792.00" y="515.00" width="6.00" height="1.00" fill="#00ffff"/>
<rect x="793.00" y="513.00" width="1.00" height="5.00" fill="#00ffff"/>
<rect x="798.00" y="513.00" width="6.00" height="1.00" fill="#00ffff"/>
<rect x="798.00" y="517.00" width="6.00" height="1.00" fill="#00ffff"/>
<rect x="798.00" y="513.00" width="1.00" height="5.00" fill="#00ffff"/>
<rect x="803.00" y="513.00" width="1.00" height="5.00" fill="#00ffff"/>
<rect x="801.00" y="513.00" width="1.00" height="5.00" fill="#00ffff"/>
<rect x="798.00" y="515.00" width="6.00" height="1.00" fill="#00ffff"/>
<rect x="799.00" y="513.00" width="1.00" height="5.00" fill="#00ffff"/>
<rect x="804.00" y="513.00" width="6.00" height="1.00" fill="#00ffff"/>
<rect x="804.00" y="513.00" width="1.00" height="5.00" fill="#00ffff"/>
<rect x="809.00" y="513.00" width="1.00" height="5.00" fill="#00ffff"/>
<rect x="807.00" y="513.00" width="1.00" height="5.00" fill="#00ffff"/>
<rect x="804.00" y="515.00" width="6.00" height="1.00" fill="#00ffff"/>
<rect x="810.00" y="513.00" width="6.00" height="1.00" fill="#00ffff"/>
<rect x="810.00" y="517.00" width="6.00" height="1.00" fill="#00ffff"/>
<rect x="815.00" y="513.00" width="1.00" height="5.00" fill="#00ffff"/>
<rect x="812.00" y="513.00" width="1.00" height="5.00" fill="#00ffff"/>
<rect x="810.00" y="515.00" width="6.00" height="1.00" fill="#00ffff"/>
<rect x="811.00" y="513.00" width="1.00" height="5.00" fill="#00ffff"/>
<rect x="765.00" y="535.00" width="6.00" height="1.00" fill="#00ffff"/>
<rect x="765.00" y="539.00" width="6.00" height="1.00" fill="#00ffff"/>
<rect x="770.00" y="535.00" width="1.00" height="5.00" fill="#00ffff"/>
<rect x="767.00" y="535.00" width="1.00" height="5.00" fill="#00ffff"/>
<rect x="765.00" y="536.00" width="6.00" height="1.00" fill="#00ffff"/>
<rect x="783.00" y="535.00" width="8.00" height="1.00" fill="#00ffff"/>
<rect x="783.00" y="539.00" width="8.00" height="1.00" fill="#00ffff"/>
<rect x="783.00" y="535.00" width="1.00" height="5.00" fill="#00ffff"/>
<rect x="786.00" y="535.00" width="1.00" height="5.00" fill="#00ffff"/>
<rect x="783.00" y="537.00" width="8.00" height="1.00" fill="#00ffff"/>
<rect x="794.90" y="535.40" width="15.90" height="4.60" fill="#00ffff"/>
<rect x="765.00" y="550.00" width="6.00" height="1.00" fill="#00ffff"/>
<rect x="765.00" y="554.00" width="6.00" height="1.00" fill="#00ffff"/>
<rect x="765.00" y="550.00" width="1.00" height="5.00" fill="#00ffff"/>
<rect x="770.00" y="550.00" width="1.00" height="5.00" fill="#00ffff"/>
<rect x="768.00" y="550.00" width="1.00" height="5.00" fill="#00ffff"/>
<rect x="765.00" y="552.00" width="6.00" height="1.00" fill="#00ffff"/>
<rect x="783.00" y="550.00" width="7.00" height="1.00" fill="#00ffff"/>
<rect x="783.00" y="554.00" width="7.00" height="1.00" fill="#00ffff"/>
<rect x="783.00" y="550.00" width="1.00" height="5.00" fill="#00ffff"/>
<rect x="789.00" y="550.00" width="1.00" height="5.00" fill="#00ffff"/>
<rect x="786.00" y="550.00" width="1.00" height="5.00" fill="#00ffff"/>
<rect x="783.00" y="552.00" width="7.00" height="1.00" fill="#00ffff"/>
<rect x="784.00" y="550.00" width="1.00" height="5.00" fill="#00ffff"/>
<rect x="795.50" y="549.60" width="2.40" height="5.00" fill="#00ffff"/>
<rect x="798.80" y="550.50" width="10.90" height="4.30" fill="#00ffff"/>
<rect x="765.00" y="563.00" width="5.00" height="1.00" fill="#00ffff"/>
<rect x="765.00" y="569.00" width="5.00" height="1.00" fill="#00ffff"/>
<rect x="765.00" y="563.00" width="1.00" height="7.00" fill="#00ffff"/>
<rect x="769.00" y="563.00" width="1.00" height="7.00" fill="#00ffff"/>
<rect x="767.00" y="563.00" width="1.00" height="7.00" fill="#00ffff"/>
<rect x="765.00" y="566.00" width="5.00" height="1.00" fill="#00ffff"/>
<rect x="765.00" y="568.00" width="5.00" height="1.00" fill="#00ffff"/>
<rect x="771.00" y="569.00" width="5.00" height="1.00" fill="#00ffff"/>
<rect x="771.00" y="563.00" width="1.00" height="7.00" fill="#00ffff"/>
<rect x="775.00" y="563.00" width="1.00" height="7.00" fill="#00ffff"/>
<rect x="772.00" y="563.00" width="1.00" height="7.00" fill="#00ffff"/>
<rect x="771.00" y="566.00" width="5.00" height="1.00" fill="#00ffff"/>
<rect x="771.00" y="568.00" width="5.00" height="1.00" fill="#00ffff"/>
<rect x="777.00" y="569.00" width="5.00" height="1.00" fill="#00ffff"/>
<rect x="777.00" y="563.00" width="1.00" height="7.00" fill="#00ffff"/>
<rect x="781.00" y="563.00" width="1.00" height="7.00" fill="#00ffff"/>
<rect x="778.00" y="563.00" width="1.00" height="7.00" fill="#00ffff"/>
<rect x="777.00" y="566.00" width="5.00" height="1.00" fill="#00ffff"/>
<rect x="783.00" y="563.00" width="5.00" height="1.00" fill="#00ffff"/>
<rect x="783.00" y="569.00" width="5.00" height="1.00" fill="#00ffff"/>
<rect x="783.00" y="563.00" width="1.00" height="7.00" fill="#00ffff"/>
<rect x="787.00" y="563.00" width="1.00" height="7.00" fill="#00ffff"/>
<rect x="785.00" y="563.00" width="1.00" height="7.00" fill="#00ffff"/>
<rect x="783.00" y="566.00" width="5.00" height="1.00" fill="#00ffff"/>
<rect x="783.00" y="568.00" width="5.00" height="1.00" fill="#00ffff"/>
<rect x="788.00" y="563.00" width="5.00" height="1.00" fill="#00ffff"/>
<rect x="788.00" y="563.00" width="1.00" height="7.00" fill="#00ffff"/>
<rect x="792.00" y="563.00" width="1.00" height="7.00" fill="#00ffff"/>
<rect x="790.00" y="563.00" width="1.00" height="7.00" fill="#00ffff"/>
<rect x="788.00" y="565.00" width="5.00" height="1.00" fill="#00ffff"/>
<rect x="788.00" y="568.00" width="5.00" height="1.00" fill="#00ffff"/>
<rect x="794.00" y="563.00" width="5.00" height="1.00" fill="#00ffff"/>
<rect x="794.00" y="569.00" width="5.00" height="1.00" fill="#00ffff"/>
<rect x="794.00" y="563.00" width="1.00" height="7.00" fill="#00ffff"/>
<rect x="798.00" y="563.00" width="1.00" height="7.00" fill="#00ffff"/>
<rect x="796.00" y="563.00" width="1.00" height="7.00" fill="#00ffff"/>
<rect x="794.00" y="567.00" width="5.00" height="1.00" fill="#00ffff"/>
<rect x="794.00" y="568.00" width="5.00" height="1.00" fill="#00ffff"/>
<rect x="800.00" y="563.00" width="5.00" height="1.00" fill="#00ffff"/>
<rect x="800.00" y="569.00" width="5.00" height="1.00" fill="#00ffff"/>
<rect x="800.00" y="563.00" width="1.00" height="7.00" fill="#00ffff"/>
<rect x="804.00" y="563.00" width="1.00" height="7.00" fill="#00ffff"/>
<rect x="801.00" y="563.00" width="1.00" height="7.00" fill="#00ffff"/>
<rect x="800.00" y="566.00" width="5.00" height="1.00" fill="#00ffff"/>
<rect x="800.00" y="568.00" width="5.00" height="1.00" fill="#00ffff"/>
<rect x="806.00" y="563.00" width="5.00" height="1.00" fill="#00ffff"/>
<rect x="806.00" y="569.00" width="5.00" height="1.00" fill="#00ffff"/>
<rect x="806.00" y="563.00" width="1.00" height="7.00" fill="#00ffff"/>
<rect x="810.00" y="563.00" width="1.00" height="7.00" fill="#00ffff"/>
<rect x="808.00" y="563.00" width="1.00" height="7.00" fill="#00ffff"/>
<rect x="806.00" y="566.00" width="5.00" height="1.00" fill="#00ffff"/>
<rect x="806.00" y="568.00" width="5.00" height="1.00" fill="#00ffff"/>
<rect x="812.00" y="563.00" width="5.00" height="1.00" fill="#00ffff"/>
<rect x="812.00" y="563.00" width="1.00" height="7.00" fill="#00ffff"/>
<rect x="816.00" y="563.00" width="1.00" height="7.00" fill="#00ffff"/>
<rect x="814.00" y="563.00" width="1.00" height="7.00" fill="#00ffff"/>
<rect x="812.00" y="565.00" width="5.00" height="1.00" fill="#00ffff"/>
<rect x="812.00" y="568.00" width="5.00" height="1.00" fill="#00ffff"/>
<rect x="817.00" y="563.00" width="5.00" height="1.00" fill="#00ffff"/>
<rect x="817.00" y="569.00" width="5.00" height="1.00" fill="#00ffff"/>
<rect x="817.00" y="563.00" width="1.00" height="7.00" fill="#00ffff"/>
<rect x="821.00" y="563.00" width="1.00" height="7.00" fill="#00ffff"/>
<rect x="818.00" y="563.00" width="1.00" height="7.00" fill="#00ffff"/>
<rect x="817.00" y="567.00" width="5.00" height="1.00" fill="#00ffff"/>
<rect x="765.00" y="578.00" width="5.00" height="1.00" fill="#00ffff"/>
<rect x="765.00" y="583.00" width="5.00" height="1.00" fill="#00ffff"/>
<rect x="765.00" y="578.00" width="1.00" height="6.00" fill="#00ffff"/>
<rect x="767.00" y="578.00" width="1.00" height="6.00" fill="#00ffff"/>
<rect x="765.00" y="581.00" width="5.00" height="1.00" fill="#00ffff"/>
<rect x="765.00" y="582.00" width="5.00" height="1.00" fill="#00ffff"/>
<rect x="771.00" y="578.00" width="6.00" height="1.00" fill="#00ffff"/>
<rect x="771.00" y="583.00" width="6.00" height="1.00" fill="#00ffff"/>
<rect x="771.00" y="578.00" width="1.00" height="6.00" fill="#00ffff"/>
<rect x="776.00" y="578.00" width="1.00" height="6.00" fill="#00ffff"/>
<rect x="773.00" y="578.00" width="1.00" height="6.00" fill="#00ffff"/>
<rect x="771.00" y="581.00" width="6.00" height="1.00" fill="#00ffff"/>
<rect x="777.00" y="578.00" width="6.00" height="1.00" fill="#00ffff"/>
<rect x="777.00" y="583.00" width="6.00" height="1.00" fill="#00ffff"/>
<rect x="777.00" y="578.00" width="1.00" height="6.00" fill="#00ffff"/>
<rect x="782.00" y="578.00" width="1.00" height="6.00" fill="#00ffff"/>
<rect x="780.00" y="578.00" width="1.00" height="6.00" fill="#00ffff"/>
<rect x="777.00" y="581.00" width="6.00" height="1.00" fill="#00ffff"/>
<rect x="777.00" y="582.00" width="6.00" height="1.00" fill="#00ffff"/>
<rect x="783.00" y="578.00" width="6.00" height="1.00" fill="#00ffff"/>
<rect x="783.00" y="578.00" width="1.00" height="6.00" fill="#00ffff"/>
<rect x="788.00" y="578.00" width="1.00" height="6.00" fill="#00ffff"/>
<rect x="785.00" y="578.00" width="1.00" height="6.00" fill="#00ffff"/>
<rect x="783.00" y="580.00" width="6.00" height="1.00" fill="#00ffff"/>
<rect x="790.00" y="579.00" width="1.50" height="3.00" fill="#00ffff"/>
<path d="M356 523h1v1h-1zM355 524h1v1h-1zM355 525h1v1h-1zM354 526h1v1h-1z" fill="#ffffff"/>
<line x1="355.00" y1="527.50" x2="361.00" y2="527.50" stroke="#ffffff" stroke-width="1.0" stroke-linecap="square"/>
<line x1="354.00" y1="530.50" x2="362.00" y2="530.50" stroke="#ffffff" stroke-width="1.0" stroke-linecap="square"/>
<line x1="357.50" y1="523.20" x2="357.50" y2="541.00" stroke="#ffffff" stroke-width="1.0" stroke-linecap="square"/>
<line x1="355.30" y1="539.00" x2="355.30" y2="532.80" stroke="#ffffff" stroke-width="1.0" stroke-linecap="square"/>
<line x1="355.30" y1="532.80" x2="361.20" y2="532.80" stroke="#ffffff" stroke-width="1.0" stroke-linecap="square"/>
<line x1="361.20" y1="532.80" x2="361.20" y2="538.50" stroke="#ffffff" stroke-width="1.0" stroke-linecap="square"/>
<path d="M360 538h1v1h-1zM361 538h1v1h-1z" fill="#ffffff"/>
<line x1="361.80" y1="525.50" x2="361.80" y2="536.00" stroke="#ffffff" stroke-width="1.0" stroke-linecap="square"/>
<line x1="363.80" y1="523.50" x2="363.80" y2="540.50" stroke="#ffffff" stroke-width="1.0" stroke-linecap="square"/>
<path d="M362 540h1v1h-1zM363 540h1v1h-1z" fill="#ffffff"/>
<path d="M367 526h1v1h-1zM367 527h1v1h-1zM368 528h1v1h-1z" fill="#ffffff"/>
<path d="M369 531h1v1h-1zM368 532h1v1h-1zM367 533h1v1h-1zM367 534h1v1h-1zM366 535h1v1h-1z" fill="#ffffff"/>
<path d="M373 523h1v1h-1zM372 524h1v1h-1zM372 525h1v1h-1zM371 526h1v1h-1zM370 527h1v1h-1zM370 528h1v1h-1zM369 529h1v1h-1zM369 530h1v1h-1zM368 531h1v1h-1z" fill="#ffffff"/>
<path d="M373 523h1v1h-1zM374 524h1v1h-1zM374 525h1v1h-1zM375 526h1v1h-1zM375 527h1v1h-1zM376 528h1v1h-1zM377 529h1v1h-1zM377 530h1v1h-1zM378 531h1v1h-1zM378 532h1v1h-1z" fill="#ffffff"/>
<path d="M373 529h1v1h-1zM373 530h1v1h-1z" fill="#ffffff"/>
<line x1="370.00" y1="534.00" x2="377.00" y2="534.00" stroke="#ffffff" stroke-width="1.0" stroke-linecap="square"/>
<path d="M376 534h1v1h-1zM376 535h1v1h-1zM376 536h1v1h-1z" fill="#ffffff"/>
<line x1="374.50" y1="534.00" x2="374.50" y2="541.00" stroke="#ffffff" stroke-width="1.0" stroke-linecap="square"/>
<line x1="383.40" y1="523.50" x2="383.40" y2="540.50" stroke="#ffffff" stroke-width="1.0" stroke-linecap="square"/>
<line x1="381.00" y1="529.50" x2="386.00" y2="529.50" stroke="#ffffff" stroke-width="1.0" stroke-linecap="square"/>
<path d="M382 531h1v1h-1zM382 532h1v1h-1zM381 533h1v1h-1zM381 534h1v1h-1zM380 535h1v1h-1z" fill="#ffffff"/>
<path d="M384 531h1v1h-1zM385 532h1v1h-1z" fill="#ffffff"/>
<line x1="386.80" y1="525.50" x2="386.80" y2="537.00" stroke="#ffffff" stroke-width="1.0" stroke-linecap="square"/>
<path d="M386 537h1v1h-1zM386 538h1v1h-1zM385 539h1v1h-1z" fill="#ffffff"/>
<line x1="386.80" y1="525.50" x2="390.10" y2="525.50" stroke="#ffffff" stroke-width="1.0" stroke-linecap="square"/>
<line x1="390.10" y1="525.50" x2="390.10" y2="538.50" stroke="#ffffff" stroke-width="1.0" stroke-linecap="square"/>
<line x1="390.10" y1="538.50" x2="392.70" y2="538.50" stroke="#ffffff" stroke-width="1.0" stroke-linecap="square"/>
<line x1="392.70" y1="538.50" x2="392.70" y2="536.00" stroke="#ffffff" stroke-width="1.0" stroke-linecap="square"/>
<path d="M399 523h1v1h-1zM400 524h1v1h-1z" fill="#ffffff"/>
<line x1="397.20" y1="525.30" x2="404.00" y2="525.30" stroke="#ffffff" stroke-width="1.0" stroke-linecap="square"/>
<path d="M397 525h1v1h-1zM397 526h1v1h-1zM397 527h1v1h-1zM397 528h1v1h-1zM397 529h1v1h-1zM397 530h1v1h-1zM397 531h1v1h-1z" fill="#ffffff"/>
<path d="M397 532h1v1h-1zM396 533h1v1h-1zM396 534h1v1h-1zM396 535h1v1h-1zM396 536h1v1h-1zM395 537h1v1h-1zM395 538h1v1h-1zM395 539h1v1h-1zM395 540h1v1h-1z" fill="#ffffff"/>
<line x1="397.50" y1="528.70" x2="403.80" y2="528.70" stroke="#ffffff" stroke-width="1.0" stroke-linecap="square"/>
<line x1="403.80" y1="528.70" x2="403.80" y2="525.30" stroke="#ffffff" stroke-width="1.0" stroke-linecap="square"/>
<path d="M400 530h1v1h-1z" fill="#ffffff"/>
<line x1="396.50" y1="532.20" x2="405.80" y2="532.20" stroke="#ffffff" stroke-width="1.0" stroke-linecap="square"/>
<path d="M400 532h1v1h-1zM399 533h1v1h-1zM399 534h1v1h-1zM398 535h1v1h-1zM398 536h1v1h-1zM397 537h1v1h-1zM397 538h1v1h-1zM396 539h1v1h-1zM396 540h1v1h-1z" fill="#ffffff"/>
<line x1="400.00" y1="535.50" x2="403.50" y2="535.50" stroke="#ffffff" stroke-width="1.0" stroke-linecap="square"/>
<path d="M403 535h1v1h-1zM403 536h1v1h-1zM403 537h1v1h-1zM402 538h1v1h-1zM402 539h1v1h-1zM402 540h1v1h-1z" fill="#ffffff"/>
<path d="M401 539h1v1h-1zM402 540h1v1h-1z" fill="#ffffff"/>
<path d="M411 523h1v1h-1zM410 524h1v1h-1zM410 525h1v1h-1zM409 526h1v1h-1z" fill="#ffffff"/>
<line x1="410.00" y1="527.50" x2="416.00" y2="527.50" stroke="#ffffff" stroke-width="1.0" stroke-linecap="square"/>
<line x1="409.00" y1="530.50" x2="417.00" y2="530.50" stroke="#ffffff" stroke-width="1.0" stroke-linecap="square"/>
<line x1="412.50" y1="523.20" x2="412.50" y2="541.00" stroke="#ffffff" stroke-width="1.0" stroke-linecap="square"/>
<line x1="410.30" y1="539.00" x2="410.30" y2="532.80" stroke="#ffffff" stroke-width="1.0" stroke-linecap="square"/>
<line x1="410.30" y1="532.80" x2="416.20" y2="532.80" stroke="#ffffff" stroke-width="1.0" stroke-linecap="square"/>
<line x1="416.20" y1="532.80" x2="416.20" y2="538.50" stroke="#ffffff" stroke-width="1.0" stroke-linecap="square"/>
<path d="M415 538h1v1h-1zM416 538h1v1h-1z" fill="#ffffff"/>
<line x1="416.80" y1="525.50" x2="416.80" y2="536.00" stroke="#ffffff" stroke-width="1.0" stroke-linecap="square"/>
<line x1="418.80" y1="523.50" x2="418.80" y2="540.50" stroke="#ffffff" stroke-width="1.0" stroke-linecap="square"/>
<path d="M417 540h1v1h-1zM418 540h1v1h-1z" fill="#ffffff"/>
<path d="M422 526h1v1h-1zM422 527h1v1h-1zM423 528h1v1h-1z" fill="#ffffff"/>
<path d="M424 531h1v1h-1zM423 532h1v1h-1zM422 533h1v1h-1zM422 534h1v1h-1zM421 535h1v1h-1z" fill="#ffffff"/>
<path d="M428 523h1v1h-1zM427 524h1v1h-1zM427 525h1v1h-1zM426 526h1v1h-1zM425 527h1v1h-1zM425 528h1v1h-1zM424 529h1v1h-1zM424 530h1v1h-1zM423 531h1v1h-1z" fill="#ffffff"/>
<path d="M428 523h1v1h-1zM429 524h1v1h-1zM429 525h1v1h-1zM430 526h1v1h-1zM430 527h1v1h-1zM431 528h1v1h-1zM432 529h1v1h-1zM432 530h1v1h-1zM433 531h1v1h-1zM433 532h1v1h-1z" fill="#ffffff"/>
<path d="M428 529h1v1h-1zM428 530h1v1h-1z" fill="#ffffff"/>
<line x1="425.00" y1="534.00" x2="432.00" y2="534.00" stroke="#ffffff" stroke-width="1.0" stroke-linecap="square"/>
<path d="M431 534h1v1h-1zM431 535h1v1h-1zM431 536h1v1h-1z" fill="#ffffff"/>
<line x1="429.50" y1="534.00" x2="429.50" y2="541.00" stroke="#ffffff" stroke-width="1.0" stroke-linecap="square"/>
<path d="M436 527h1v1h-1zM437 526h1v1h-1zM438 526h1v1h-1zM439 525h1v1h-1zM440 525h1v1h-1zM441 525h1v1h-1zM442 524h1v1h-1zM443 524h1v1h-1z" fill="#ffffff"/>
<path d="M437 531h1v1h-1zM438 530h1v1h-1zM439 529h1v1h-1zM440 528h1v1h-1z" fill="#ffffff"/>
<line x1="437.20" y1="531.30" x2="442.80" y2="531.30" stroke="#ffffff" stroke-width="1.0" stroke-linecap="square"/>
<path d="M436 535h1v1h-1zM437 534h1v1h-1zM438 533h1v1h-1zM439 532h1v1h-1zM440 531h1v1h-1zM441 530h1v1h-1zM442 529h1v1h-1zM443 528h1v1h-1z" fill="#ffffff"/>
<path d="M436 535h1v1h-1zM437 535h1v1h-1zM438 534h1v1h-1zM439 534h1v1h-1zM440 534h1v1h-1zM441 534h1v1h-1zM442 534h1v1h-1zM443 534h1v1h-1zM444 534h1v1h-1z" fill="#ffffff"/>
<path d="M444 532h1v1h-1zM444 533h1v1h-1zM445 534h1v1h-1zM445 535h1v1h-1z" fill="#ffffff"/>
<line x1="440.70" y1="535.00" x2="440.70" y2="541.00" stroke="#ffffff" stroke-width="1.0" stroke-linecap="square"/>
<path d="M439 540h1v1h-1zM440 540h1v1h-1z" fill="#ffffff"/>
<path d="M437 537h1v1h-1zM436 538h1v1h-1zM436 539h1v1h-1zM435 540h1v1h-1z" fill="#ffffff"/>
<path d="M443 537h1v1h-1zM444 538h1v1h-1zM445 539h1v1h-1zM446 540h1v1h-1z" fill="#ffffff"/>
<path d="M450 524h1v1h-1zM450 525h1v1h-1zM449 526h1v1h-1zM449 527h1v1h-1zM448 528h1v1h-1z" fill="#ffffff"/>
<path d="M448 528h1v1h-1zM449 528h1v1h-1zM450 529h1v1h-1z" fill="#ffffff"/>
<path d="M450 530h1v1h-1zM450 531h1v1h-1zM449 532h1v1h-1zM449 533h1v1h-1zM448 534h1v1h-1z" fill="#ffffff"/>
<path d="M448 534h1v1h-1zM449 534h1v1h-1zM450 533h1v1h-1zM451 533h1v1h-1zM452 532h1v1h-1z" fill="#ffffff"/>
<path d="M448 540h1v1h-1zM449 539h1v1h-1zM450 538h1v1h-1zM451 538h1v1h-1zM452 537h1v1h-1z" fill="#ffffff"/>
<path d="M454 524h1v1h-1zM455 525h1v1h-1z" fill="#ffffff"/>
<line x1="452.00" y1="527.50" x2="459.80" y2="527.50" stroke="#ffffff" stroke-width="1.0" stroke-linecap="square"/>
<path d="M454 528h1v1h-1zM453 529h1v1h-1zM453 530h1v1h-1zM452 531h1v1h-1z" fill="#ffffff"/>
<path d="M452 531h1v1h-1zM453 531h1v1h-1zM454 531h1v1h-1zM455 531h1v1h-1zM456 531h1v1h-1zM457 531h1v1h-1z" fill="#ffffff"/>
<path d="M456 529h1v1h-1zM457 530h1v1h-1zM458 531h1v1h-1z" fill="#ffffff"/>
<line x1="454.50" y1="533.00" x2="454.50" y2="537.20" stroke="#ffffff" stroke-width="1.0" stroke-linecap="square"/>
<path d="M454 537h1v1h-1zM453 538h1v1h-1zM452 539h1v1h-1zM451 540h1v1h-1z" fill="#ffffff"/>
<line x1="456.70" y1="533.00" x2="456.70" y2="539.60" stroke="#ffffff" stroke-width="1.0" stroke-linecap="square"/>
<line x1="456.70" y1="539.60" x2="459.60" y2="539.60" stroke="#ffffff" stroke-width="1.0" stroke-linecap="square"/>
<line x1="459.60" y1="539.60" x2="459.60" y2="537.00" stroke="#ffffff" stroke-width="1.0" stroke-linecap="square"/>
<line x1="462.70" y1="524.50" x2="462.70" y2="540.50" stroke="#ffffff" stroke-width="1.0" stroke-linecap="square"/>
<line x1="462.70" y1="524.80" x2="472.90" y2="524.80" stroke="#ffffff" stroke-width="1.0" stroke-linecap="square"/>
<line x1="471.00" y1="524.80" x2="471.00" y2="540.50" stroke="#ffffff" stroke-width="1.0" stroke-linecap="square"/>
<line x1="462.70" y1="540.00" x2="471.00" y2="540.00" stroke="#ffffff" stroke-width="1.0" stroke-linecap="square"/>
<path d="M464 527h1v1h-1zM464 528h1v1h-1zM464 529h1v1h-1z" fill="#ffffff"/>
<line x1="465.50" y1="527.50" x2="469.00" y2="527.50" stroke="#ffffff" stroke-width="1.0" stroke-linecap="square"/>
<path d="M469 527h1v1h-1zM468 528h1v1h-1zM467 529h1v1h-1zM466 530h1v1h-1zM465 531h1v1h-1z" fill="#ffffff"/>
<path d="M466 529h1v1h-1zM467 530h1v1h-1zM468 531h1v1h-1zM469 532h1v1h-1z" fill="#ffffff"/>
<path d="M466 534h1v1h-1zM467 534h1v1h-1z" fill="#ffffff"/>
<path d="M466 537h1v1h-1zM467 537h1v1h-1zM468 537h1v1h-1zM469 538h1v1h-1z" fill="#ffffff"/>
<line x1="346.20" y1="549.50" x2="482.60" y2="549.50" stroke="#ffffff" stroke-width="1.0" stroke-linecap="square"/>
<rect x="113.00" y="275.00" width="2.00" height="1.20" fill="#ffffff"/>
<polygon points="523.00,131.50 527.00,131.50 525.60,133.50 527.00,135.50 523.00,135.50 524.40,133.50" fill="#ffffff"/>
<rect x="574.00" y="131.30" width="6.00" height="2.20" fill="#ffffff"/>
<polygon points="592.50,131.50 596.50,131.50 595.10,133.50 596.50,135.50 592.50,135.50 593.90,133.50" fill="#ffffff"/>
<polygon points="662.40,131.50 666.40,131.50 665.00,133.50 666.40,135.50 662.40,135.50 663.80,133.50" fill="#ffffff"/>
<rect x="467.00" y="136.00" width="5.00" height="1.00" fill="#ffffff"/>
<rect x="467.00" y="140.00" width="5.00" height="1.00" fill="#ffffff"/>
<rect x="467.00" y="136.00" width="1.00" height="5.00" fill="#ffffff"/>
<rect x="471.00" y="136.00" width="1.00" height="5.00" fill="#ffffff"/>
<rect x="469.00" y="136.00" width="1.00" height="5.00" fill="#ffffff"/>
<rect x="467.00" y="138.00" width="5.00" height="1.00" fill="#ffffff"/>
<rect x="472.00" y="136.00" width="5.00" height="1.00" fill="#ffffff"/>
<rect x="472.00" y="140.00" width="5.00" height="1.00" fill="#ffffff"/>
<rect x="472.00" y="136.00" width="1.00" height="5.00" fill="#ffffff"/>
<rect x="476.00" y="136.00" width="1.00" height="5.00" fill="#ffffff"/>
<rect x="474.00" y="136.00" width="1.00" height="5.00" fill="#ffffff"/>
<rect x="472.00" y="137.00" width="5.00" height="1.00" fill="#ffffff"/>
<rect x="478.00" y="140.00" width="4.00" height="1.00" fill="#ffffff"/>
<rect x="478.00" y="136.00" width="1.00" height="5.00" fill="#ffffff"/>
<rect x="481.00" y="136.00" width="1.00" height="5.00" fill="#ffffff"/>
<rect x="480.00" y="136.00" width="1.00" height="5.00" fill="#ffffff"/>
<rect x="478.00" y="137.00" width="4.00" height="1.00" fill="#ffffff"/>
<rect x="483.00" y="136.00" width="4.00" height="1.00" fill="#ffffff"/>
<rect x="483.00" y="140.00" width="4.00" height="1.00" fill="#ffffff"/>
<rect x="483.00" y="136.00" width="1.00" height="5.00" fill="#ffffff"/>
<rect x="486.00" y="136.00" width="1.00" height="5.00" fill="#ffffff"/>
<rect x="484.00" y="136.00" width="1.00" height="5.00" fill="#ffffff"/>
<rect x="483.00" y="137.00" width="4.00" height="1.00" fill="#ffffff"/>
<rect x="506.90" y="141.30" width="6.10" height="2.20" fill="#ffffff"/>
<rect x="605.50" y="165.70" width="8.40" height="2.80" fill="#ffffff"/>
<polygon points="604.00,167.00 608.00,167.00 606.60,169.00 608.00,171.00 604.00,171.00 605.40,169.00" fill="#ffffff"/>
<polygon points="480.00,153.50 484.00,153.50 482.60,155.50 484.00,157.50 480.00,157.50 481.40,155.50" fill="#ffffff"/>
<rect x="488.20" y="153.10" width="6.90" height="2.20" fill="#ffffff"/>
<rect x="501.08" y="166.85" width="7.93" height="3.00" fill="#ffffff" transform="rotate(-41.9 505.05 168.35)"/>
<rect x="490.14" y="181.30" width="4.12" height="3.00" fill="#ffffff" transform="rotate(-50.9 492.20 182.80)"/>
<rect x="392.94" y="275.60" width="6.72" height="3.00" fill="#ffffff" transform="rotate(-36.5 396.30 277.10)"/>
<rect x="466.42" y="211.65" width="8.06" height="3.00" fill="#ffffff" transform="rotate(-45.0 470.45 213.15)"/>
<rect x="481.01" y="197.15" width="8.57" height="3.00" fill="#ffffff" transform="rotate(-41.7 485.30 198.65)"/>
<rect x="465.60" y="264.85" width="6.70" height="3.00" fill="#ffffff" transform="rotate(-37.7 468.95 266.35)"/>
<rect x="571.61" y="232.55" width="7.57" height="3.00" fill="#ffffff" transform="rotate(-42.3 575.40 234.05)"/>
<rect x="586.07" y="239.30" width="7.66" height="3.00" fill="#ffffff" transform="rotate(-40.8 589.90 240.80)"/>
<circle cx="599" cy="212.2" r="1.8" fill="#ffffff"/>
<circle cx="624" cy="208.8" r="1.8" fill="#ffffff"/>
<circle cx="519.2" cy="166.4" r="2" fill="#ffffff"/>
<circle cx="435.3" cy="240.1" r="1.8" fill="#ffffff"/>
<path d="M76 479h1v1h-1zM77 478h1v1h-1z" fill="#ff0000"/>
<line x1="77.77" y1="478.50" x2="77.77" y2="483.00" stroke="#ff0000" stroke-width="1.2" stroke-linecap="square"/>
<line x1="78.82" y1="480.00" x2="80.29" y2="480.00" stroke="#ff0000" stroke-width="1.2" stroke-linecap="square"/>
<line x1="80.29" y1="480.00" x2="80.29" y2="483.00" stroke="#ff0000" stroke-width="1.2" stroke-linecap="square"/>
<rect x="81.30" y="481.30" width="3.40" height="1.75" fill="#ffff00"/>
<rect x="81.30" y="483.64" width="3.40" height="1.56" fill="#ffff00"/>
<rect x="82.32" y="481.30" width="1.36" height="3.90" fill="#ffff00"/>
<rect x="68.00" y="482.50" width="2.50" height="2.00" fill="#00ff00"/>
<line x1="47.30" y1="502.50" x2="47.30" y2="507.50" stroke="#00ff00" stroke-width="1.0" stroke-linecap="square"/>
<line x1="53.30" y1="502.50" x2="53.30" y2="507.50" stroke="#00ff00" stroke-width="1.0" stroke-linecap="square"/>
<path d="M49 505h1v1h-1zM50 506h1v1h-1zM50 507h1v1h-1z" fill="#00ff00"/>
<path d="M53 505h1v1h-1zM52 506h1v1h-1zM51 507h1v1h-1z" fill="#00ff00"/>
<line x1="51.30" y1="508.00" x2="51.30" y2="510.00" stroke="#00ff00" stroke-width="1.0" stroke-linecap="square"/>
<path d="M75 501h1v1h-1zM76 501h1v1h-1z" fill="#ff0000"/>
<line x1="76.97" y1="500.70" x2="76.97" y2="504.50" stroke="#ff0000" stroke-width="1.2" stroke-linecap="square"/>
<line x1="78.02" y1="502.20" x2="79.49" y2="502.20" stroke="#ff0000" stroke-width="1.2" stroke-linecap="square"/>
<line x1="79.49" y1="502.20" x2="79.49" y2="504.50" stroke="#ff0000" stroke-width="1.2" stroke-linecap="square"/>
<rect x="82.20" y="503.20" width="3.40" height="1.71" fill="#ffff00"/>
<rect x="82.20" y="505.48" width="3.40" height="1.52" fill="#ffff00"/>
<rect x="83.22" y="503.20" width="1.36" height="3.80" fill="#ffff00"/>
<rect x="42.60" y="497.00" width="2.20" height="2.00" fill="#00ff00"/>
<rect x="141.10" y="493.10" width="3.00" height="1.62" fill="#ffff00"/>
<rect x="141.10" y="495.26" width="3.00" height="1.44" fill="#ffff00"/>
<rect x="142.00" y="493.10" width="1.20" height="3.60" fill="#ffff00"/>
<path d="M146 490h1v1h-1zM147 490h1v1h-1z" fill="#ff0000"/>
<line x1="147.95" y1="489.80" x2="147.95" y2="495.00" stroke="#ff0000" stroke-width="1.2" stroke-linecap="square"/>
<line x1="149.20" y1="491.30" x2="150.95" y2="491.30" stroke="#ff0000" stroke-width="1.2" stroke-linecap="square"/>
<line x1="150.95" y1="491.30" x2="150.95" y2="495.00" stroke="#ff0000" stroke-width="1.2" stroke-linecap="square"/>
<rect x="156.50" y="493.50" width="2.00" height="2.00" fill="#00ff00"/>
<rect x="126.00" y="510.50" width="4.20" height="2.02" fill="#ffff00"/>
<rect x="126.00" y="513.20" width="4.20" height="1.80" fill="#ffff00"/>
<rect x="127.26" y="510.50" width="1.68" height="4.50" fill="#ffff00"/>
<path d="M135 508h1v1h-1zM136 507h1v1h-1z" fill="#ff0000"/>
<line x1="136.98" y1="507.40" x2="136.98" y2="512.00" stroke="#ff0000" stroke-width="1.2" stroke-linecap="square"/>
<line x1="138.26" y1="508.90" x2="140.05" y2="508.90" stroke="#ff0000" stroke-width="1.2" stroke-linecap="square"/>
<line x1="140.05" y1="508.90" x2="140.05" y2="512.00" stroke="#ff0000" stroke-width="1.2" stroke-linecap="square"/>
<line x1="143.30" y1="510.00" x2="143.30" y2="515.00" stroke="#00ff00" stroke-width="1.0" stroke-linecap="square"/>
<line x1="150.30" y1="510.00" x2="150.30" y2="515.00" stroke="#00ff00" stroke-width="1.0" stroke-linecap="square"/>
<path d="M145 513h1v1h-1zM146 514h1v1h-1zM147 515h1v1h-1z" fill="#00ff00"/>
<path d="M148 513h1v1h-1zM148 514h1v1h-1zM147 515h1v1h-1z" fill="#00ff00"/>
<line x1="147.30" y1="515.50" x2="147.30" y2="517.50" stroke="#00ff00" stroke-width="1.0" stroke-linecap="square"/>
<path d="M154.9,502.8 A2.3,2.3 0 1 0 154.9,507.2" stroke="#00ff00" stroke-width="1.2" fill="none"/>
<path d="M149 390h1v1h-1zM150 389h1v1h-1zM151 389h1v1h-1z" fill="#ff0000"/>
<line x1="151.28" y1="389.10" x2="151.28" y2="394.00" stroke="#ff0000" stroke-width="1.2" stroke-linecap="square"/>
<line x1="152.56" y1="390.60" x2="154.34" y2="390.60" stroke="#ff0000" stroke-width="1.2" stroke-linecap="square"/>
<line x1="154.34" y1="390.60" x2="154.34" y2="394.00" stroke="#ff0000" stroke-width="1.2" stroke-linecap="square"/>
<rect x="155.90" y="391.60" width="4.60" height="1.98" fill="#ffff00"/>
<rect x="155.90" y="394.24" width="4.60" height="1.76" fill="#ffff00"/>
<rect x="157.28" y="391.60" width="1.84" height="4.40" fill="#ffff00"/>
<rect x="145.50" y="393.50" width="2.00" height="2.00" fill="#00ff00"/>
<path d="M149 419h1v1h-1zM150 418h1v1h-1z" fill="#ff0000"/>
<line x1="150.50" y1="418.40" x2="150.50" y2="422.60" stroke="#ff0000" stroke-width="1.2" stroke-linecap="square"/>
<line x1="151.50" y1="419.90" x2="152.90" y2="419.90" stroke="#ff0000" stroke-width="1.2" stroke-linecap="square"/>
<line x1="152.90" y1="419.90" x2="152.90" y2="422.60" stroke="#ff0000" stroke-width="1.2" stroke-linecap="square"/>
<rect x="154.10" y="421.40" width="4.10" height="1.62" fill="#ffff00"/>
<rect x="154.10" y="423.56" width="4.10" height="1.44" fill="#ffff00"/>
<rect x="155.33" y="421.40" width="1.64" height="3.60" fill="#ffff00"/>
<rect x="141.00" y="423.00" width="3.00" height="3.00" fill="#00ff00"/>
<rect x="219.70" y="409.30" width="3.10" height="1.80" fill="#ffff00"/>
<rect x="219.70" y="411.70" width="3.10" height="1.60" fill="#ffff00"/>
<rect x="220.63" y="409.30" width="1.24" height="4.00" fill="#ffff00"/>
<path d="M223 406h1v1h-1zM224 406h1v1h-1zM225 405h1v1h-1z" fill="#ff0000"/>
<line x1="225.55" y1="405.80" x2="225.55" y2="411.00" stroke="#ff0000" stroke-width="1.2" stroke-linecap="square"/>
<line x1="226.80" y1="407.30" x2="228.55" y2="407.30" stroke="#ff0000" stroke-width="1.2" stroke-linecap="square"/>
<line x1="228.55" y1="407.30" x2="228.55" y2="411.00" stroke="#ff0000" stroke-width="1.2" stroke-linecap="square"/>
<rect x="231.80" y="410.50" width="2.00" height="2.00" fill="#00ff00"/>
<rect x="201.60" y="428.40" width="4.00" height="1.76" fill="#ffff00"/>
<rect x="201.60" y="430.74" width="4.00" height="1.56" fill="#ffff00"/>
<rect x="202.80" y="428.40" width="1.60" height="3.90" fill="#ffff00"/>
<path d="M212 426h1v1h-1zM213 425h1v1h-1z" fill="#ff0000"/>
<line x1="213.84" y1="425.40" x2="213.84" y2="430.00" stroke="#ff0000" stroke-width="1.2" stroke-linecap="square"/>
<line x1="214.94" y1="426.90" x2="216.48" y2="426.90" stroke="#ff0000" stroke-width="1.2" stroke-linecap="square"/>
<line x1="216.48" y1="426.90" x2="216.48" y2="430.00" stroke="#ff0000" stroke-width="1.2" stroke-linecap="square"/>
<line x1="225.30" y1="428.00" x2="225.30" y2="433.00" stroke="#00ff00" stroke-width="1.0" stroke-linecap="square"/>
<line x1="232.30" y1="428.00" x2="232.30" y2="433.00" stroke="#00ff00" stroke-width="1.0" stroke-linecap="square"/>
<path d="M227 431h1v1h-1zM228 432h1v1h-1zM229 433h1v1h-1z" fill="#00ff00"/>
<path d="M230 431h1v1h-1zM230 432h1v1h-1zM229 433h1v1h-1z" fill="#00ff00"/>
<line x1="229.30" y1="433.50" x2="229.30" y2="435.50" stroke="#00ff00" stroke-width="1.0" stroke-linecap="square"/>
<path d="M237.4,422.2 A2.3,2.3 0 1 0 237.4,426.59999999999997" stroke="#00ff00" stroke-width="1.2" fill="none"/>
<rect x="104.97" y="359.00" width="8.36" height="3.00" fill="#ffffff" transform="rotate(-36.7 109.15 360.50)"/>
<rect x="79.34" y="386.80" width="6.53" height="3.00" fill="#ffffff" transform="rotate(-50.0 82.60 388.30)"/>
<rect x="110.20" y="367.00" width="7.91" height="3.00" fill="#ffffff" transform="rotate(-32.1 114.15 368.50)"/>
<rect x="81.98" y="396.90" width="7.14" height="3.00" fill="#ffffff" transform="rotate(-44.4 85.55 398.40)"/>
<rect x="146.00" y="319.00" width="3.00" height="1.00" fill="#ffffff"/>
<rect x="146.00" y="323.00" width="3.00" height="1.00" fill="#ffffff"/>
<rect x="146.00" y="319.00" width="1.00" height="5.00" fill="#ffffff"/>
<rect x="148.00" y="319.00" width="1.00" height="5.00" fill="#ffffff"/>
<rect x="147.00" y="319.00" width="1.00" height="5.00" fill="#ffffff"/>
<rect x="146.00" y="321.00" width="3.00" height="1.00" fill="#ffffff"/>
<rect x="150.00" y="319.00" width="3.00" height="1.00" fill="#ffffff"/>
<rect x="150.00" y="323.00" width="3.00" height="1.00" fill="#ffffff"/>
<rect x="150.00" y="319.00" width="1.00" height="5.00" fill="#ffffff"/>
<rect x="152.00" y="319.00" width="1.00" height="5.00" fill="#ffffff"/>
<rect x="151.00" y="319.00" width="1.00" height="5.00" fill="#ffffff"/>
<rect x="150.00" y="321.00" width="3.00" height="1.00" fill="#ffffff"/>
<rect x="154.00" y="319.00" width="3.00" height="1.00" fill="#ffffff"/>
<rect x="154.00" y="323.00" width="3.00" height="1.00" fill="#ffffff"/>
<rect x="154.00" y="319.00" width="1.00" height="5.00" fill="#ffffff"/>
<rect x="156.00" y="319.00" width="1.00" height="5.00" fill="#ffffff"/>
<rect x="155.00" y="319.00" width="1.00" height="5.00" fill="#ffffff"/>
<rect x="154.00" y="321.00" width="3.00" height="1.00" fill="#ffffff"/>
<rect x="158.00" y="319.00" width="3.00" height="1.00" fill="#ffffff"/>
<rect x="158.00" y="323.00" width="3.00" height="1.00" fill="#ffffff"/>
<rect x="158.00" y="319.00" width="1.00" height="5.00" fill="#ffffff"/>
<rect x="160.00" y="319.00" width="1.00" height="5.00" fill="#ffffff"/>
<rect x="159.00" y="319.00" width="1.00" height="5.00" fill="#ffffff"/>
<rect x="158.00" y="320.00" width="3.00" height="1.00" fill="#ffffff"/>
<rect x="241.24" y="379.75" width="8.42" height="3.00" fill="#ffffff" transform="rotate(-37.3 245.45 381.25)"/>
<rect x="269.71" y="411.30" width="6.48" height="3.00" fill="#ffffff" transform="rotate(-38.1 272.95 412.80)"/>
<rect x="290.26" y="398.15" width="7.89" height="3.00" fill="#ffffff" transform="rotate(-50.7 294.20 399.65)"/>
<rect x="312.67" y="375.90" width="8.56" height="3.00" fill="#ffffff" transform="rotate(-44.5 316.95 377.40)"/>
<rect x="315.00" y="359.00" width="11.50" height="2.20" fill="#00ffff"/>
<rect x="315.00" y="357.00" width="5.00" height="2.00" fill="#ffffff"/>
<polygon points="280.00,349.50 284.00,349.50 282.60,351.50 284.00,353.50 280.00,353.50 281.40,351.50" fill="#ffffff"/>
<polygon points="354.50,349.50 358.50,349.50 357.10,351.50 358.50,353.50 354.50,353.50 355.90,351.50" fill="#ffffff"/>
<polygon points="430.00,349.50 434.00,349.50 432.60,351.50 434.00,353.50 430.00,353.50 431.40,351.50" fill="#ffffff"/>
<rect x="287.88" y="303.50" width="4.24" height="3.00" fill="#ffffff" transform="rotate(-45.0 290.00 305.00)"/>
<polygon points="366.60,451.40 370.60,451.40 369.20,453.40 370.60,455.40 366.60,455.40 368.00,453.40" fill="#ffffff"/>
<polygon points="433.60,383.30 437.60,383.30 436.20,385.30 437.60,387.30 433.60,387.30 435.00,385.30" fill="#ffffff"/>
<rect x="496.50" y="254.30" width="6.50" height="2.20" fill="#ffffff"/>
<rect x="537.24" y="266.75" width="7.31" height="3.00" fill="#ffffff" transform="rotate(-40.0 540.90 268.25)"/>
<rect x="541.96" y="273.20" width="7.17" height="3.00" fill="#ffffff" transform="rotate(-39.9 545.55 274.70)"/>
<rect x="521.84" y="272.75" width="6.71" height="3.00" fill="#ffffff" transform="rotate(-33.5 525.20 274.25)"/>
<rect x="511.38" y="301.90" width="7.25" height="3.00" fill="#ffffff" transform="rotate(-39.4 515.00 303.40)"/>
<rect x="634.75" y="175.06" width="2.00" height="2.00" fill="#ffff00"/>
<rect x="627.00" y="182.62" width="2.00" height="2.00" fill="#ffff00"/>
<rect x="619.25" y="190.19" width="2.00" height="2.00" fill="#ffff00"/>
<rect x="611.50" y="197.75" width="2.00" height="2.00" fill="#ffff00"/>
<rect x="603.75" y="205.31" width="2.00" height="2.00" fill="#ffff00"/>
<rect x="596.00" y="212.88" width="2.00" height="2.00" fill="#ffff00"/>
<rect x="588.25" y="220.44" width="2.00" height="2.00" fill="#ffff00"/>
<rect x="580.50" y="228.00" width="2.00" height="2.00" fill="#ffff00"/>
<rect x="572.75" y="235.56" width="2.00" height="2.00" fill="#ffff00"/>
<rect x="565.00" y="243.12" width="2.00" height="2.00" fill="#ffff00"/>
<rect x="557.25" y="250.69" width="2.00" height="2.00" fill="#ffff00"/>
<rect x="549.50" y="258.25" width="2.00" height="2.00" fill="#ffff00"/>
<rect x="541.75" y="265.81" width="2.00" height="2.00" fill="#ffff00"/>
<rect x="534.00" y="273.38" width="2.00" height="2.00" fill="#ffff00"/>
<rect x="526.25" y="280.94" width="2.00" height="2.00" fill="#ffff00"/>
<rect x="692.96" y="138.54" width="2.00" height="2.00" fill="#ff00ff"/>
<rect x="686.92" y="144.58" width="2.00" height="2.00" fill="#ff00ff"/>
<rect x="680.88" y="150.62" width="2.00" height="2.00" fill="#ff00ff"/>
<rect x="674.85" y="156.65" width="2.00" height="2.00" fill="#ff00ff"/>
<rect x="668.81" y="162.69" width="2.00" height="2.00" fill="#ff00ff"/>
<rect x="662.77" y="168.73" width="2.00" height="2.00" fill="#ff00ff"/>
<rect x="656.73" y="174.77" width="2.00" height="2.00" fill="#ff00ff"/>
<rect x="650.69" y="180.81" width="2.00" height="2.00" fill="#ff00ff"/>
<rect x="644.65" y="186.85" width="2.00" height="2.00" fill="#ff00ff"/>
<rect x="638.62" y="192.88" width="2.00" height="2.00" fill="#ff00ff"/>
<rect x="632.58" y="198.92" width="2.00" height="2.00" fill="#ff00ff"/>
<rect x="626.54" y="204.96" width="2.00" height="2.00" fill="#ff00ff"/>
<rect x="620.50" y="211.00" width="2.00" height="2.00" fill="#ff00ff"/>
<rect x="614.46" y="217.04" width="2.00" height="2.00" fill="#ff00ff"/>
<rect x="608.42" y="223.08" width="2.00" height="2.00" fill="#ff00ff"/>
<rect x="602.38" y="229.12" width="2.00" height="2.00" fill="#ff00ff"/>
<rect x="596.35" y="235.15" width="2.00" height="2.00" fill="#ff00ff"/>
<rect x="590.31" y="241.19" width="2.00" height="2.00" fill="#ff00ff"/>
<rect x="584.27" y="247.23" width="2.00" height="2.00" fill="#ff00ff"/>
<rect x="578.23" y="253.27" width="2.00" height="2.00" fill="#ff00ff"/>
<rect x="572.19" y="259.31" width="2.00" height="2.00" fill="#ff00ff"/>
<rect x="566.15" y="265.35" width="2.00" height="2.00" fill="#ff00ff"/>
<rect x="560.12" y="271.38" width="2.00" height="2.00" fill="#ff00ff"/>
<rect x="554.08" y="277.42" width="2.00" height="2.00" fill="#ff00ff"/>
<rect x="548.04" y="283.46" width="2.00" height="2.00" fill="#ff00ff"/>
<rect x="534.23" y="149.77" width="2.00" height="2.00" fill="#ffff00"/>
<rect x="526.95" y="157.05" width="2.00" height="2.00" fill="#ffff00"/>
<rect x="519.68" y="164.32" width="2.00" height="2.00" fill="#ffff00"/>
<rect x="512.41" y="171.59" width="2.00" height="2.00" fill="#ffff00"/>
<rect x="505.14" y="178.86" width="2.00" height="2.00" fill="#ffff00"/>
<rect x="497.86" y="186.14" width="2.00" height="2.00" fill="#ffff00"/>
<rect x="490.59" y="193.41" width="2.00" height="2.00" fill="#ffff00"/>
<rect x="483.32" y="200.68" width="2.00" height="2.00" fill="#ffff00"/>
<rect x="476.05" y="207.95" width="2.00" height="2.00" fill="#ffff00"/>
<rect x="468.77" y="215.23" width="2.00" height="2.00" fill="#ffff00"/>
<rect x="539.53" y="190.75" width="7.23" height="3.00" fill="#ffffff" transform="rotate(-49.5 543.15 192.25)"/>
<rect x="45.99" y="434.97" width="1.60" height="1.60" fill="#00ffff"/>
<rect x="49.29" y="431.74" width="1.60" height="1.60" fill="#00ffff"/>
<rect x="52.58" y="428.51" width="1.60" height="1.60" fill="#00ffff"/>
<rect x="55.88" y="425.29" width="1.60" height="1.60" fill="#00ffff"/>
<rect x="59.17" y="422.06" width="1.60" height="1.60" fill="#00ffff"/>
<rect x="62.47" y="418.83" width="1.60" height="1.60" fill="#00ffff"/>
<rect x="65.76" y="415.60" width="1.60" height="1.60" fill="#00ffff"/>
<rect x="69.05" y="412.37" width="1.60" height="1.60" fill="#00ffff"/>
<rect x="72.35" y="409.14" width="1.60" height="1.60" fill="#00ffff"/>
<rect x="75.64" y="405.91" width="1.60" height="1.60" fill="#00ffff"/>
<rect x="78.94" y="402.69" width="1.60" height="1.60" fill="#00ffff"/>
<rect x="82.23" y="399.46" width="1.60" height="1.60" fill="#00ffff"/>
<rect x="85.53" y="396.23" width="1.60" height="1.60" fill="#00ffff"/>
<rect x="88.82" y="393.00" width="1.60" height="1.60" fill="#00ffff"/>
<rect x="92.11" y="389.77" width="1.60" height="1.60" fill="#00ffff"/>
<rect x="95.41" y="386.54" width="1.60" height="1.60" fill="#00ffff"/>
<rect x="98.70" y="383.31" width="1.60" height="1.60" fill="#00ffff"/>
<rect x="102.00" y="380.09" width="1.60" height="1.60" fill="#00ffff"/>
<rect x="105.29" y="376.86" width="1.60" height="1.60" fill="#00ffff"/>
<rect x="108.59" y="373.63" width="1.60" height="1.60" fill="#00ffff"/>
<rect x="111.88" y="370.40" width="1.60" height="1.60" fill="#00ffff"/>
<rect x="115.17" y="367.17" width="1.60" height="1.60" fill="#00ffff"/>
<rect x="118.47" y="363.94" width="1.60" height="1.60" fill="#00ffff"/>
<rect x="121.76" y="360.71" width="1.60" height="1.60" fill="#00ffff"/>
<rect x="125.06" y="357.49" width="1.60" height="1.60" fill="#00ffff"/>
<rect x="128.35" y="354.26" width="1.60" height="1.60" fill="#00ffff"/>
<rect x="131.65" y="351.03" width="1.60" height="1.60" fill="#00ffff"/>
<rect x="134.94" y="347.80" width="1.60" height="1.60" fill="#00ffff"/>
<rect x="138.23" y="344.57" width="1.60" height="1.60" fill="#00ffff"/>
<rect x="141.53" y="341.34" width="1.60" height="1.60" fill="#00ffff"/>
<rect x="144.82" y="338.11" width="1.60" height="1.60" fill="#00ffff"/>
<rect x="148.12" y="334.89" width="1.60" height="1.60" fill="#00ffff"/>
<rect x="151.41" y="331.66" width="1.60" height="1.60" fill="#00ffff"/>
<rect x="154.71" y="328.43" width="1.60" height="1.60" fill="#00ffff"/>
</svg>
</body></html>
